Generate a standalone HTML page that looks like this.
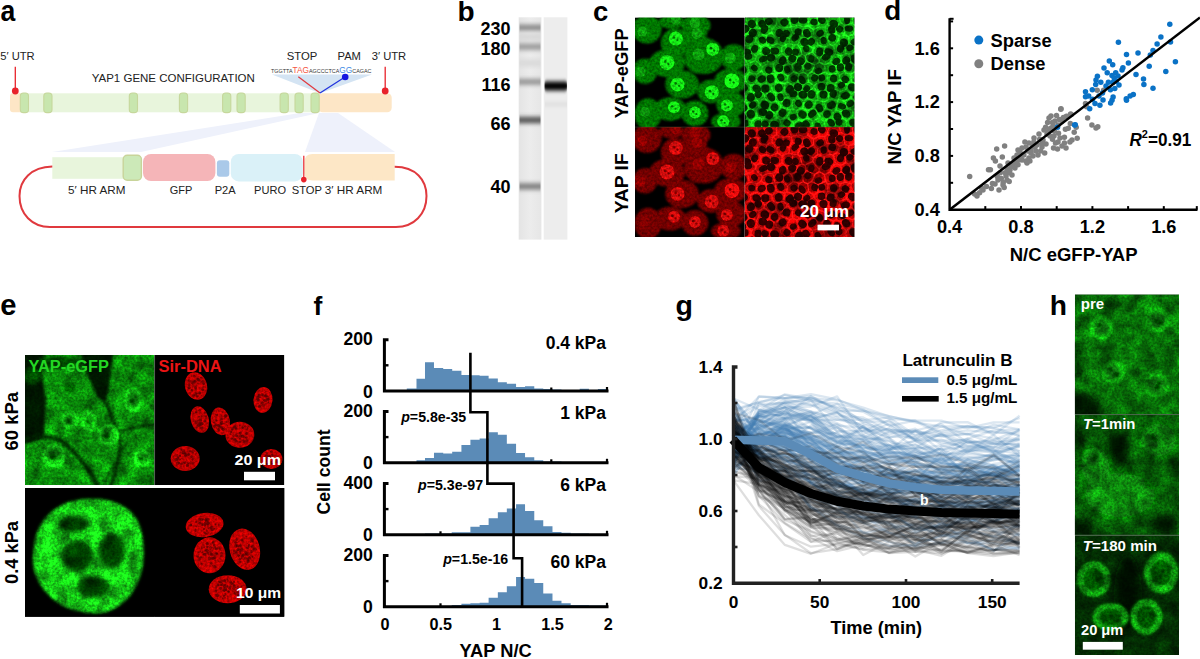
<!DOCTYPE html>
<html><head><meta charset="utf-8"><style>
html,body{margin:0;padding:0;background:#fff;width:1200px;height:659px;overflow:hidden}
svg{display:block}
text{font-family:"Liberation Sans", sans-serif}
</style></head><body>
<svg width="1200" height="659" viewBox="0 0 1200 659">
<defs><filter id="b05" x="-50%" y="-50%" width="200%" height="200%"><feGaussianBlur stdDeviation="0.5"/></filter><filter id="b1" x="-50%" y="-50%" width="200%" height="200%"><feGaussianBlur stdDeviation="1"/></filter><filter id="b15" x="-50%" y="-50%" width="200%" height="200%"><feGaussianBlur stdDeviation="1.5"/></filter><filter id="b2" x="-50%" y="-50%" width="200%" height="200%"><feGaussianBlur stdDeviation="2.2"/></filter><filter id="b3" x="-50%" y="-50%" width="200%" height="200%"><feGaussianBlur stdDeviation="3.2"/></filter><filter id="b4" x="-50%" y="-50%" width="200%" height="200%"><feGaussianBlur stdDeviation="4.5"/></filter><filter id="tx1" x="0" y="0" width="100%" height="100%" color-interpolation-filters="sRGB"><feTurbulence type="fractalNoise" baseFrequency="0.4" numOctaves="2" seed="7" result="n"/><feColorMatrix in="n" type="matrix" values="1 0 0 0 0  1 0 0 0 0  1 0 0 0 0  0 0 0 0 1" result="g"/><feComposite in="SourceGraphic" in2="g" operator="arithmetic" k1="0.9" k2="0.55" k3="0" k4="0"/></filter><filter id="tx2" x="0" y="0" width="100%" height="100%" color-interpolation-filters="sRGB"><feTurbulence type="fractalNoise" baseFrequency="0.4" numOctaves="2" seed="14" result="n"/><feColorMatrix in="n" type="matrix" values="1 0 0 0 0  1 0 0 0 0  1 0 0 0 0  0 0 0 0 1" result="g"/><feComposite in="SourceGraphic" in2="g" operator="arithmetic" k1="0.9" k2="0.55" k3="0" k4="0"/></filter><filter id="tx3" x="0" y="0" width="100%" height="100%" color-interpolation-filters="sRGB"><feTurbulence type="fractalNoise" baseFrequency="0.4" numOctaves="2" seed="21" result="n"/><feColorMatrix in="n" type="matrix" values="1 0 0 0 0  1 0 0 0 0  1 0 0 0 0  0 0 0 0 1" result="g"/><feComposite in="SourceGraphic" in2="g" operator="arithmetic" k1="0.9" k2="0.55" k3="0" k4="0"/></filter><filter id="tx4" x="0" y="0" width="100%" height="100%" color-interpolation-filters="sRGB"><feTurbulence type="fractalNoise" baseFrequency="0.4" numOctaves="2" seed="28" result="n"/><feColorMatrix in="n" type="matrix" values="1 0 0 0 0  1 0 0 0 0  1 0 0 0 0  0 0 0 0 1" result="g"/><feComposite in="SourceGraphic" in2="g" operator="arithmetic" k1="0.9" k2="0.55" k3="0" k4="0"/></filter><filter id="tx5" x="0" y="0" width="100%" height="100%" color-interpolation-filters="sRGB"><feTurbulence type="fractalNoise" baseFrequency="0.4" numOctaves="2" seed="35" result="n"/><feColorMatrix in="n" type="matrix" values="1 0 0 0 0  1 0 0 0 0  1 0 0 0 0  0 0 0 0 1" result="g"/><feComposite in="SourceGraphic" in2="g" operator="arithmetic" k1="0.9" k2="0.55" k3="0" k4="0"/></filter><filter id="tx6" x="0" y="0" width="100%" height="100%" color-interpolation-filters="sRGB"><feTurbulence type="fractalNoise" baseFrequency="0.4" numOctaves="2" seed="42" result="n"/><feColorMatrix in="n" type="matrix" values="1 0 0 0 0  1 0 0 0 0  1 0 0 0 0  0 0 0 0 1" result="g"/><feComposite in="SourceGraphic" in2="g" operator="arithmetic" k1="0.9" k2="0.55" k3="0" k4="0"/></filter><filter id="tx7" x="0" y="0" width="100%" height="100%" color-interpolation-filters="sRGB"><feTurbulence type="fractalNoise" baseFrequency="0.4" numOctaves="2" seed="49" result="n"/><feColorMatrix in="n" type="matrix" values="1 0 0 0 0  1 0 0 0 0  1 0 0 0 0  0 0 0 0 1" result="g"/><feComposite in="SourceGraphic" in2="g" operator="arithmetic" k1="0.9" k2="0.55" k3="0" k4="0"/></filter><filter id="tx8" x="0" y="0" width="100%" height="100%" color-interpolation-filters="sRGB"><feTurbulence type="fractalNoise" baseFrequency="0.4" numOctaves="2" seed="56" result="n"/><feColorMatrix in="n" type="matrix" values="1 0 0 0 0  1 0 0 0 0  1 0 0 0 0  0 0 0 0 1" result="g"/><feComposite in="SourceGraphic" in2="g" operator="arithmetic" k1="0.9" k2="0.55" k3="0" k4="0"/></filter><filter id="mt1" x="0" y="0" width="100%" height="100%" color-interpolation-filters="sRGB"><feTurbulence type="fractalNoise" baseFrequency="0.4" numOctaves="2" seed="13" result="n1"/><feColorMatrix in="n1" type="matrix" values="1 0 0 0 0  1 0 0 0 0  1 0 0 0 0  0 0 0 0 1" result="g1"/><feComposite in="SourceGraphic" in2="g1" operator="arithmetic" k1="0.9" k2="0.55" k3="0" k4="0" result="s1"/><feTurbulence type="fractalNoise" baseFrequency="0.07" numOctaves="2" seed="63" result="n2"/><feColorMatrix in="n2" type="matrix" values="1 0 0 0 0  1 0 0 0 0  1 0 0 0 0  0 0 0 0 1" result="g2"/><feComposite in="s1" in2="g2" operator="arithmetic" k1="1.4" k2="0.3" k3="0" k4="0"/></filter><filter id="mt2" x="0" y="0" width="100%" height="100%" color-interpolation-filters="sRGB"><feTurbulence type="fractalNoise" baseFrequency="0.4" numOctaves="2" seed="26" result="n1"/><feColorMatrix in="n1" type="matrix" values="1 0 0 0 0  1 0 0 0 0  1 0 0 0 0  0 0 0 0 1" result="g1"/><feComposite in="SourceGraphic" in2="g1" operator="arithmetic" k1="0.9" k2="0.55" k3="0" k4="0" result="s1"/><feTurbulence type="fractalNoise" baseFrequency="0.07" numOctaves="2" seed="76" result="n2"/><feColorMatrix in="n2" type="matrix" values="1 0 0 0 0  1 0 0 0 0  1 0 0 0 0  0 0 0 0 1" result="g2"/><feComposite in="s1" in2="g2" operator="arithmetic" k1="1.4" k2="0.3" k3="0" k4="0"/></filter><filter id="mt3" x="0" y="0" width="100%" height="100%" color-interpolation-filters="sRGB"><feTurbulence type="fractalNoise" baseFrequency="0.4" numOctaves="2" seed="39" result="n1"/><feColorMatrix in="n1" type="matrix" values="1 0 0 0 0  1 0 0 0 0  1 0 0 0 0  0 0 0 0 1" result="g1"/><feComposite in="SourceGraphic" in2="g1" operator="arithmetic" k1="0.9" k2="0.55" k3="0" k4="0" result="s1"/><feTurbulence type="fractalNoise" baseFrequency="0.07" numOctaves="2" seed="89" result="n2"/><feColorMatrix in="n2" type="matrix" values="1 0 0 0 0  1 0 0 0 0  1 0 0 0 0  0 0 0 0 1" result="g2"/><feComposite in="s1" in2="g2" operator="arithmetic" k1="1.4" k2="0.3" k3="0" k4="0"/></filter><filter id="mt4" x="0" y="0" width="100%" height="100%" color-interpolation-filters="sRGB"><feTurbulence type="fractalNoise" baseFrequency="0.4" numOctaves="2" seed="52" result="n1"/><feColorMatrix in="n1" type="matrix" values="1 0 0 0 0  1 0 0 0 0  1 0 0 0 0  0 0 0 0 1" result="g1"/><feComposite in="SourceGraphic" in2="g1" operator="arithmetic" k1="0.9" k2="0.55" k3="0" k4="0" result="s1"/><feTurbulence type="fractalNoise" baseFrequency="0.07" numOctaves="2" seed="102" result="n2"/><feColorMatrix in="n2" type="matrix" values="1 0 0 0 0  1 0 0 0 0  1 0 0 0 0  0 0 0 0 1" result="g2"/><feComposite in="s1" in2="g2" operator="arithmetic" k1="1.4" k2="0.3" k3="0" k4="0"/></filter><filter id="mt5" x="0" y="0" width="100%" height="100%" color-interpolation-filters="sRGB"><feTurbulence type="fractalNoise" baseFrequency="0.4" numOctaves="2" seed="65" result="n1"/><feColorMatrix in="n1" type="matrix" values="1 0 0 0 0  1 0 0 0 0  1 0 0 0 0  0 0 0 0 1" result="g1"/><feComposite in="SourceGraphic" in2="g1" operator="arithmetic" k1="0.9" k2="0.55" k3="0" k4="0" result="s1"/><feTurbulence type="fractalNoise" baseFrequency="0.07" numOctaves="2" seed="115" result="n2"/><feColorMatrix in="n2" type="matrix" values="1 0 0 0 0  1 0 0 0 0  1 0 0 0 0  0 0 0 0 1" result="g2"/><feComposite in="s1" in2="g2" operator="arithmetic" k1="1.4" k2="0.3" k3="0" k4="0"/></filter><filter id="mt6" x="0" y="0" width="100%" height="100%" color-interpolation-filters="sRGB"><feTurbulence type="fractalNoise" baseFrequency="0.4" numOctaves="2" seed="78" result="n1"/><feColorMatrix in="n1" type="matrix" values="1 0 0 0 0  1 0 0 0 0  1 0 0 0 0  0 0 0 0 1" result="g1"/><feComposite in="SourceGraphic" in2="g1" operator="arithmetic" k1="0.9" k2="0.55" k3="0" k4="0" result="s1"/><feTurbulence type="fractalNoise" baseFrequency="0.07" numOctaves="2" seed="128" result="n2"/><feColorMatrix in="n2" type="matrix" values="1 0 0 0 0  1 0 0 0 0  1 0 0 0 0  0 0 0 0 1" result="g2"/><feComposite in="s1" in2="g2" operator="arithmetic" k1="1.4" k2="0.3" k3="0" k4="0"/></filter><filter id="mt7" x="0" y="0" width="100%" height="100%" color-interpolation-filters="sRGB"><feTurbulence type="fractalNoise" baseFrequency="0.4" numOctaves="2" seed="91" result="n1"/><feColorMatrix in="n1" type="matrix" values="1 0 0 0 0  1 0 0 0 0  1 0 0 0 0  0 0 0 0 1" result="g1"/><feComposite in="SourceGraphic" in2="g1" operator="arithmetic" k1="0.9" k2="0.55" k3="0" k4="0" result="s1"/><feTurbulence type="fractalNoise" baseFrequency="0.07" numOctaves="2" seed="141" result="n2"/><feColorMatrix in="n2" type="matrix" values="1 0 0 0 0  1 0 0 0 0  1 0 0 0 0  0 0 0 0 1" result="g2"/><feComposite in="s1" in2="g2" operator="arithmetic" k1="1.4" k2="0.3" k3="0" k4="0"/></filter><filter id="mt8" x="0" y="0" width="100%" height="100%" color-interpolation-filters="sRGB"><feTurbulence type="fractalNoise" baseFrequency="0.4" numOctaves="2" seed="104" result="n1"/><feColorMatrix in="n1" type="matrix" values="1 0 0 0 0  1 0 0 0 0  1 0 0 0 0  0 0 0 0 1" result="g1"/><feComposite in="SourceGraphic" in2="g1" operator="arithmetic" k1="0.9" k2="0.55" k3="0" k4="0" result="s1"/><feTurbulence type="fractalNoise" baseFrequency="0.07" numOctaves="2" seed="154" result="n2"/><feColorMatrix in="n2" type="matrix" values="1 0 0 0 0  1 0 0 0 0  1 0 0 0 0  0 0 0 0 1" result="g2"/><feComposite in="s1" in2="g2" operator="arithmetic" k1="1.4" k2="0.3" k3="0" k4="0"/></filter><clipPath id="cTL"><rect x="635" y="17.6" width="109.6" height="109.5"/></clipPath><clipPath id="cBL"><rect x="635" y="127.1" width="109.6" height="109.9"/></clipPath><clipPath id="cTR"><rect x="744.6" y="17.6" width="109.9" height="109.5"/></clipPath><clipPath id="cBR"><rect x="744.6" y="127.1" width="109.9" height="109.9"/></clipPath><clipPath id="eTL"><rect x="25" y="355" width="129.6" height="130"/></clipPath><clipPath id="eTR"><rect x="154.6" y="355" width="129.7" height="130"/></clipPath><clipPath id="eBL"><rect x="25" y="488" width="129.6" height="128.7"/></clipPath><clipPath id="eBR"><rect x="154.4" y="488" width="129.9" height="128.7"/></clipPath><clipPath id="h0"><rect x="1074.9" y="294.4" width="104.1" height="120"/></clipPath><clipPath id="h1"><rect x="1074.9" y="414.6" width="104.1" height="120.3"/></clipPath><clipPath id="h2"><rect x="1074.9" y="535.2" width="104.1" height="119.8"/></clipPath></defs>
<rect width="1200" height="659" fill="#fff"/>
<text x="0.6" y="20.9" font-size="29.5" font-weight="bold" text-anchor="start" fill="#000"  textLength="14.8" lengthAdjust="spacingAndGlyphs" style="">a</text>
<polygon points="300,113 319,113 141,152 52,152" fill="#eef1fb"/>
<polygon points="319,113 338,113 395,152 305,152" fill="#eef1fb"/>
<rect x="10" y="93.3" width="14" height="19" rx="3" fill="#fde6c6"/>
<rect x="20" y="93.3" width="300" height="19" fill="#e8f5dc"/>
<rect x="318.2" y="93.3" width="73.5" height="19" rx="4.5" fill="#fde6c6"/>
<rect x="20.3" y="93.0" width="8.2" height="19.6" rx="3.2" fill="#c8e6ae" stroke="#c6d79c" stroke-width="1.1"/>
<rect x="43.8" y="93.0" width="8.2" height="19.6" rx="3.2" fill="#c8e6ae" stroke="#c6d79c" stroke-width="1.1"/>
<rect x="129.3" y="93.0" width="8.2" height="19.6" rx="3.2" fill="#c8e6ae" stroke="#c6d79c" stroke-width="1.1"/>
<rect x="179.4" y="93.0" width="8.2" height="19.6" rx="3.2" fill="#c8e6ae" stroke="#c6d79c" stroke-width="1.1"/>
<rect x="222.6" y="93.0" width="8.2" height="19.6" rx="3.2" fill="#c8e6ae" stroke="#c6d79c" stroke-width="1.1"/>
<rect x="237.0" y="93.0" width="8.2" height="19.6" rx="3.2" fill="#c8e6ae" stroke="#c6d79c" stroke-width="1.1"/>
<rect x="280.1" y="93.0" width="8.2" height="19.6" rx="3.2" fill="#c8e6ae" stroke="#c6d79c" stroke-width="1.1"/>
<rect x="295.0" y="93.0" width="8.2" height="19.6" rx="3.2" fill="#c8e6ae" stroke="#c6d79c" stroke-width="1.1"/>
<rect x="311.0" y="93.0" width="8.2" height="19.6" rx="3.2" fill="#c8e6ae" stroke="#c6d79c" stroke-width="1.1"/>
<line x1="15.3" y1="66.8" x2="15.3" y2="90" stroke="#e8232b" stroke-width="1.3"/>
<circle cx="15.3" cy="91" r="3.4" fill="#e8232b"/>
<line x1="385.2" y1="66.8" x2="385.2" y2="90" stroke="#e8232b" stroke-width="1.3"/>
<circle cx="385.2" cy="91" r="3.4" fill="#e8232b"/>
<text x="0.2" y="59.5" font-size="11.2" font-weight="normal" text-anchor="start" fill="#222"  textLength="34.5" lengthAdjust="spacingAndGlyphs" style="">5′ UTR</text>
<text x="91.7" y="82.2" font-size="11.5" font-weight="normal" text-anchor="start" fill="#222"  style="">YAP1 GENE CONFIGURATION</text>
<text x="286.7" y="60.3" font-size="11.3" font-weight="normal" text-anchor="start" fill="#222"  style="">STOP</text>
<text x="337.5" y="60.3" font-size="11.2" font-weight="normal" text-anchor="start" fill="#222"  style="">PAM</text>
<text x="371.7" y="60.3" font-size="11.2" font-weight="normal" text-anchor="start" fill="#222"  textLength="34.5" lengthAdjust="spacingAndGlyphs" style="">3′ UTR</text>
<polygon points="272,74.5 372,74.5 320,93.3" fill="#d4e4f3"/>
<line x1="298.3" y1="76.7" x2="320" y2="93" stroke="#e0393e" stroke-width="1.2"/>
<line x1="320" y1="93" x2="345" y2="77" stroke="#2233dd" stroke-width="1.2"/>
<circle cx="345.2" cy="77" r="3.3" fill="#1515e0"/>
<text x="271" y="72.6" font-size="5.6" font-weight="normal" fill="#333" textLength="100.5" lengthAdjust="spacingAndGlyphs" style="font-family:'Liberation Sans', sans-serif">TGGTTA<tspan fill="#f5553f" font-size="8.6" font-weight="normal">TAG</tspan>AGCCCTCA<tspan fill="#3f8be6" font-size="8.6" font-weight="normal">GG</tspan>CAGAC</text>
<rect x="52.3" y="157.2" width="72" height="21.6" fill="#e8f5dc"/>
<rect x="123.2" y="155.2" width="18.2" height="25" rx="4" fill="#cce9b8" stroke="#c8d49a" stroke-width="1.4"/>
<rect x="143" y="154" width="72.4" height="27" rx="8" fill="#f5b5b8"/>
<rect x="216.9" y="160.3" width="12.4" height="16.5" rx="3" fill="#aac9e9"/>
<rect x="230.8" y="154" width="72" height="27.4" rx="8" fill="#daf1f8"/>
<path d="M312.5,154 H394.7 V180.5 H312.5 Q304.5,180.5 304.5,172.5 V162 Q304.5,154 312.5,154 Z" fill="#fde7c6"/>
<line x1="303.8" y1="155.7" x2="303.8" y2="178.5" stroke="#e8232b" stroke-width="1.2"/>
<circle cx="303.8" cy="179.6" r="2.8" fill="#e8232b"/>
<path d="M52.3,166.5 C31,167 19.5,180 19.5,196 C19.5,214 32,227 50,227 L396,227 C414,227 426.5,214 426.5,196 C426.5,180 416,167 394.7,166.8" fill="none" stroke="#e0393e" stroke-width="2"/>
<text x="68.0" y="194.4" font-size="11.3" font-weight="normal" text-anchor="start" fill="#222"  textLength="57.4" lengthAdjust="spacingAndGlyphs" style="">5′ HR ARM</text>
<text x="169.7" y="194.4" font-size="11.3" font-weight="normal" text-anchor="start" fill="#222"  textLength="22.6" lengthAdjust="spacingAndGlyphs" style="">GFP</text>
<text x="214.7" y="194.4" font-size="11.3" font-weight="normal" text-anchor="start" fill="#222"  textLength="21" lengthAdjust="spacingAndGlyphs" style="">P2A</text>
<text x="254.0" y="194.4" font-size="11.3" font-weight="normal" text-anchor="start" fill="#222"  textLength="32" lengthAdjust="spacingAndGlyphs" style="">PURO</text>
<text x="291.7" y="194.4" font-size="11.3" font-weight="normal" text-anchor="start" fill="#222"  textLength="30.3" lengthAdjust="spacingAndGlyphs" style="">STOP</text>
<text x="324.8" y="194.4" font-size="11.3" font-weight="normal" text-anchor="start" fill="#222"  textLength="57.6" lengthAdjust="spacingAndGlyphs" style="">3′ HR ARM</text>
<text x="457.5" y="21.2" font-size="28" font-weight="bold" text-anchor="start" fill="#000"  style="">b</text>
<defs><filter id="bb" x="-20%" y="-300%" width="140%" height="700%"><feGaussianBlur stdDeviation="0.6 2.2"/></filter><linearGradient id="lane1" x1="0" x2="1"><stop offset="0" stop-color="#e4e4e4"/><stop offset="0.5" stop-color="#ececec"/><stop offset="1" stop-color="#e6e6e6"/></linearGradient></defs>
<rect x="518.7" y="17.3" width="22.7" height="222.3" fill="url(#lane1)"/>
<rect x="543.7" y="17.3" width="23.7" height="222.3" fill="#ededed"/>
<rect x="519.5" y="24.6" width="21" height="6" fill="#888888" filter="url(#bb)"/>
<rect x="519.5" y="34.0" width="21" height="6" fill="#d6d6d6" filter="url(#bb)"/>
<rect x="519.5" y="43.5" width="21" height="6.5" fill="#9c9c9c" filter="url(#bb)"/>
<rect x="519.5" y="59.5" width="21" height="7" fill="#dadada" filter="url(#bb)"/>
<rect x="519.5" y="78.8" width="21" height="6" fill="#959595" filter="url(#bb)"/>
<rect x="519.5" y="116.8" width="21" height="6.5" fill="#555555" filter="url(#bb)"/>
<rect x="519.5" y="183.2" width="21" height="6.5" fill="#808080" filter="url(#bb)"/>
<rect x="544.5" y="81.5" width="22.5" height="9" rx="3" fill="#000" filter="url(#bb)"/>
<rect x="545" y="102.5" width="22" height="3.5" fill="#dcdcdc" filter="url(#bb)"/>
<text x="510.5" y="34.9" font-size="18" font-weight="bold" text-anchor="end" fill="#000"  style="">230</text>
<text x="510.5" y="55.0" font-size="18" font-weight="bold" text-anchor="end" fill="#000"  style="">180</text>
<text x="510.5" y="90.7" font-size="18" font-weight="bold" text-anchor="end" fill="#000"  style="">116</text>
<text x="510.5" y="129.7" font-size="18" font-weight="bold" text-anchor="end" fill="#000"  style="">66</text>
<text x="510.5" y="193.0" font-size="18" font-weight="bold" text-anchor="end" fill="#000"  style="">40</text>
<text x="884.3" y="20.2" font-size="27.8" font-weight="bold" text-anchor="start" fill="#000"  style="">d</text>
<circle cx="1097.2" cy="90.3" r="2.75" fill="#808080"/>
<circle cx="1103.6" cy="90.3" r="2.75" fill="#808080"/>
<circle cx="1085.5" cy="103.5" r="2.75" fill="#808080"/>
<circle cx="1086.6" cy="106.7" r="2.75" fill="#808080"/>
<circle cx="1061.0" cy="108.8" r="2.75" fill="#808080"/>
<circle cx="1070.6" cy="114.1" r="2.75" fill="#808080"/>
<circle cx="1066.4" cy="116.2" r="2.75" fill="#808080"/>
<circle cx="1087.6" cy="117.9" r="2.75" fill="#808080"/>
<circle cx="1091.9" cy="125.1" r="2.75" fill="#808080"/>
<circle cx="1097.8" cy="126.8" r="2.75" fill="#808080"/>
<circle cx="1096.0" cy="128.0" r="2.75" fill="#808080"/>
<circle cx="969.7" cy="176.6" r="2.75" fill="#808080"/>
<circle cx="974.6" cy="194.0" r="2.75" fill="#808080"/>
<circle cx="979.6" cy="192.8" r="2.75" fill="#808080"/>
<circle cx="981.6" cy="188.0" r="2.75" fill="#808080"/>
<circle cx="986.5" cy="186.5" r="2.75" fill="#808080"/>
<circle cx="991.4" cy="188.5" r="2.75" fill="#808080"/>
<circle cx="988.5" cy="169.7" r="2.75" fill="#808080"/>
<circle cx="990.4" cy="169.7" r="2.75" fill="#808080"/>
<circle cx="992.4" cy="183.5" r="2.75" fill="#808080"/>
<circle cx="993.4" cy="157.9" r="2.75" fill="#808080"/>
<circle cx="995.4" cy="160.9" r="2.75" fill="#808080"/>
<circle cx="996.7" cy="149.0" r="2.75" fill="#808080"/>
<circle cx="1002.3" cy="156.9" r="2.75" fill="#808080"/>
<circle cx="1004.6" cy="146.1" r="2.75" fill="#808080"/>
<circle cx="997.3" cy="176.6" r="2.75" fill="#808080"/>
<circle cx="1000.3" cy="172.7" r="2.75" fill="#808080"/>
<circle cx="1001.3" cy="178.6" r="2.75" fill="#808080"/>
<circle cx="1003.2" cy="182.5" r="2.75" fill="#808080"/>
<circle cx="1004.2" cy="187.5" r="2.75" fill="#808080"/>
<circle cx="1005.2" cy="172.7" r="2.75" fill="#808080"/>
<circle cx="1007.2" cy="168.7" r="2.75" fill="#808080"/>
<circle cx="1009.2" cy="181.6" r="2.75" fill="#808080"/>
<circle cx="1009.2" cy="172.7" r="2.75" fill="#808080"/>
<circle cx="1011.1" cy="166.8" r="2.75" fill="#808080"/>
<circle cx="1013.1" cy="164.8" r="2.75" fill="#808080"/>
<circle cx="1016.1" cy="162.8" r="2.75" fill="#808080"/>
<circle cx="1018.0" cy="164.8" r="2.75" fill="#808080"/>
<circle cx="1017.0" cy="154.9" r="2.75" fill="#808080"/>
<circle cx="1020.0" cy="152.0" r="2.75" fill="#808080"/>
<circle cx="1022.0" cy="148.0" r="2.75" fill="#808080"/>
<circle cx="1023.9" cy="154.9" r="2.75" fill="#808080"/>
<circle cx="1024.9" cy="142.1" r="2.75" fill="#808080"/>
<circle cx="1025.9" cy="160.9" r="2.75" fill="#808080"/>
<circle cx="1027.9" cy="151.0" r="2.75" fill="#808080"/>
<circle cx="1028.9" cy="157.9" r="2.75" fill="#808080"/>
<circle cx="1029.9" cy="160.9" r="2.75" fill="#808080"/>
<circle cx="1030.9" cy="149.0" r="2.75" fill="#808080"/>
<circle cx="1032.8" cy="145.1" r="2.75" fill="#808080"/>
<circle cx="1033.8" cy="142.1" r="2.75" fill="#808080"/>
<circle cx="1035.8" cy="151.0" r="2.75" fill="#808080"/>
<circle cx="1036.8" cy="145.1" r="2.75" fill="#808080"/>
<circle cx="1039.7" cy="139.2" r="2.75" fill="#808080"/>
<circle cx="1040.7" cy="151.0" r="2.75" fill="#808080"/>
<circle cx="1041.7" cy="144.1" r="2.75" fill="#808080"/>
<circle cx="1044.7" cy="153.0" r="2.75" fill="#808080"/>
<circle cx="1045.6" cy="127.3" r="2.75" fill="#808080"/>
<circle cx="1047.6" cy="122.4" r="2.75" fill="#808080"/>
<circle cx="1048.6" cy="131.3" r="2.75" fill="#808080"/>
<circle cx="1050.6" cy="128.3" r="2.75" fill="#808080"/>
<circle cx="1052.5" cy="122.4" r="2.75" fill="#808080"/>
<circle cx="1052.5" cy="139.2" r="2.75" fill="#808080"/>
<circle cx="1053.5" cy="148.0" r="2.75" fill="#808080"/>
<circle cx="1054.5" cy="131.3" r="2.75" fill="#808080"/>
<circle cx="1055.5" cy="143.1" r="2.75" fill="#808080"/>
<circle cx="1056.5" cy="115.5" r="2.75" fill="#808080"/>
<circle cx="1057.5" cy="149.0" r="2.75" fill="#808080"/>
<circle cx="1058.5" cy="133.2" r="2.75" fill="#808080"/>
<circle cx="1059.4" cy="119.4" r="2.75" fill="#808080"/>
<circle cx="1060.8" cy="109.2" r="2.75" fill="#808080"/>
<circle cx="1063.4" cy="117.5" r="2.75" fill="#808080"/>
<circle cx="1064.4" cy="137.2" r="2.75" fill="#808080"/>
<circle cx="1064.4" cy="143.1" r="2.75" fill="#808080"/>
<circle cx="1065.4" cy="129.3" r="2.75" fill="#808080"/>
<circle cx="1067.3" cy="116.5" r="2.75" fill="#808080"/>
<circle cx="1068.3" cy="128.3" r="2.75" fill="#808080"/>
<circle cx="1069.9" cy="142.1" r="2.75" fill="#808080"/>
<circle cx="1070.3" cy="123.4" r="2.75" fill="#808080"/>
<circle cx="1071.3" cy="114.5" r="2.75" fill="#808080"/>
<circle cx="1074.2" cy="132.3" r="2.75" fill="#808080"/>
<circle cx="1076.2" cy="127.3" r="2.75" fill="#808080"/>
<circle cx="1077.2" cy="138.2" r="2.75" fill="#808080"/>
<circle cx="998.0" cy="180.0" r="2.75" fill="#808080"/>
<circle cx="1006.0" cy="176.0" r="2.75" fill="#808080"/>
<circle cx="1010.0" cy="170.0" r="2.75" fill="#808080"/>
<circle cx="1014.0" cy="158.0" r="2.75" fill="#808080"/>
<circle cx="1019.0" cy="160.0" r="2.75" fill="#808080"/>
<circle cx="1021.0" cy="157.0" r="2.75" fill="#808080"/>
<circle cx="1026.0" cy="147.0" r="2.75" fill="#808080"/>
<circle cx="1031.0" cy="153.0" r="2.75" fill="#808080"/>
<circle cx="1035.0" cy="147.0" r="2.75" fill="#808080"/>
<circle cx="1043.0" cy="140.0" r="2.75" fill="#808080"/>
<circle cx="1047.0" cy="134.0" r="2.75" fill="#808080"/>
<circle cx="1050.0" cy="136.0" r="2.75" fill="#808080"/>
<circle cx="1053.0" cy="126.0" r="2.75" fill="#808080"/>
<circle cx="1049.0" cy="118.0" r="2.75" fill="#808080"/>
<circle cx="1051.0" cy="116.0" r="2.75" fill="#808080"/>
<circle cx="1055.0" cy="121.0" r="2.75" fill="#808080"/>
<circle cx="1058.0" cy="125.0" r="2.75" fill="#808080"/>
<circle cx="1062.0" cy="121.0" r="2.75" fill="#808080"/>
<circle cx="1046.0" cy="144.0" r="2.75" fill="#808080"/>
<circle cx="1042.0" cy="147.0" r="2.75" fill="#808080"/>
<circle cx="1038.0" cy="155.0" r="2.75" fill="#808080"/>
<circle cx="1033.0" cy="156.0" r="2.75" fill="#808080"/>
<circle cx="1027.0" cy="163.0" r="2.75" fill="#808080"/>
<circle cx="1022.0" cy="160.0" r="2.75" fill="#808080"/>
<circle cx="1015.0" cy="168.0" r="2.75" fill="#808080"/>
<circle cx="1012.0" cy="175.0" r="2.75" fill="#808080"/>
<circle cx="1007.0" cy="180.0" r="2.75" fill="#808080"/>
<circle cx="1003.0" cy="185.0" r="2.75" fill="#808080"/>
<circle cx="999.0" cy="190.0" r="2.75" fill="#808080"/>
<circle cx="995.0" cy="184.0" r="2.75" fill="#808080"/>
<circle cx="983.0" cy="190.0" r="2.75" fill="#808080"/>
<circle cx="977.0" cy="196.0" r="2.75" fill="#808080"/>
<circle cx="1000.0" cy="166.0" r="2.75" fill="#808080"/>
<circle cx="1008.0" cy="163.0" r="2.75" fill="#808080"/>
<circle cx="1018.0" cy="150.0" r="2.75" fill="#808080"/>
<circle cx="1029.0" cy="143.0" r="2.75" fill="#808080"/>
<circle cx="1034.0" cy="138.0" r="2.75" fill="#808080"/>
<circle cx="1039.0" cy="134.0" r="2.75" fill="#808080"/>
<circle cx="1044.0" cy="130.0" r="2.75" fill="#808080"/>
<circle cx="1060.0" cy="138.0" r="2.75" fill="#808080"/>
<circle cx="1062.0" cy="146.0" r="2.75" fill="#808080"/>
<circle cx="1066.0" cy="148.0" r="2.75" fill="#808080"/>
<circle cx="1072.0" cy="140.0" r="2.75" fill="#808080"/>
<circle cx="1058.0" cy="142.0" r="2.75" fill="#808080"/>
<circle cx="1054.0" cy="136.0" r="2.75" fill="#808080"/>
<circle cx="1169.8" cy="24.2" r="2.75" fill="#0a72c6"/>
<circle cx="1160.9" cy="37.0" r="2.75" fill="#0a72c6"/>
<circle cx="1170.5" cy="41.9" r="2.75" fill="#0a72c6"/>
<circle cx="1157.1" cy="44.0" r="2.75" fill="#0a72c6"/>
<circle cx="1153.0" cy="50.4" r="2.75" fill="#0a72c6"/>
<circle cx="1150.3" cy="55.0" r="2.75" fill="#0a72c6"/>
<circle cx="1118.4" cy="42.3" r="2.75" fill="#0a72c6"/>
<circle cx="1126.5" cy="54.6" r="2.75" fill="#0a72c6"/>
<circle cx="1138.0" cy="52.9" r="2.75" fill="#0a72c6"/>
<circle cx="1175.4" cy="61.8" r="2.75" fill="#0a72c6"/>
<circle cx="1109.3" cy="61.0" r="2.75" fill="#0a72c6"/>
<circle cx="1112.7" cy="64.8" r="2.75" fill="#0a72c6"/>
<circle cx="1128.4" cy="63.1" r="2.75" fill="#0a72c6"/>
<circle cx="1122.9" cy="67.8" r="2.75" fill="#0a72c6"/>
<circle cx="1122.0" cy="69.9" r="2.75" fill="#0a72c6"/>
<circle cx="1149.2" cy="66.3" r="2.75" fill="#0a72c6"/>
<circle cx="1165.8" cy="71.6" r="2.75" fill="#0a72c6"/>
<circle cx="1107.2" cy="72.7" r="2.75" fill="#0a72c6"/>
<circle cx="1115.7" cy="72.7" r="2.75" fill="#0a72c6"/>
<circle cx="1097.4" cy="76.3" r="2.75" fill="#0a72c6"/>
<circle cx="1112.0" cy="75.4" r="2.75" fill="#0a72c6"/>
<circle cx="1114.2" cy="78.0" r="2.75" fill="#0a72c6"/>
<circle cx="1136.0" cy="74.4" r="2.75" fill="#0a72c6"/>
<circle cx="1100.8" cy="82.2" r="2.75" fill="#0a72c6"/>
<circle cx="1143.5" cy="79.0" r="2.75" fill="#0a72c6"/>
<circle cx="1095.7" cy="84.4" r="2.75" fill="#0a72c6"/>
<circle cx="1108.4" cy="82.2" r="2.75" fill="#0a72c6"/>
<circle cx="1113.1" cy="82.2" r="2.75" fill="#0a72c6"/>
<circle cx="1116.3" cy="81.2" r="2.75" fill="#0a72c6"/>
<circle cx="1143.9" cy="84.4" r="2.75" fill="#0a72c6"/>
<circle cx="1092.3" cy="89.7" r="2.75" fill="#0a72c6"/>
<circle cx="1110.4" cy="89.7" r="2.75" fill="#0a72c6"/>
<circle cx="1114.8" cy="88.6" r="2.75" fill="#0a72c6"/>
<circle cx="1102.5" cy="92.9" r="2.75" fill="#0a72c6"/>
<circle cx="1153.0" cy="88.2" r="2.75" fill="#0a72c6"/>
<circle cx="1085.5" cy="91.8" r="2.75" fill="#0a72c6"/>
<circle cx="1133.3" cy="94.6" r="2.75" fill="#0a72c6"/>
<circle cx="1130.1" cy="96.0" r="2.75" fill="#0a72c6"/>
<circle cx="1085.5" cy="96.7" r="2.75" fill="#0a72c6"/>
<circle cx="1088.7" cy="96.0" r="2.75" fill="#0a72c6"/>
<circle cx="1113.1" cy="97.1" r="2.75" fill="#0a72c6"/>
<circle cx="1126.3" cy="98.8" r="2.75" fill="#0a72c6"/>
<circle cx="1092.5" cy="99.2" r="2.75" fill="#0a72c6"/>
<circle cx="1112.0" cy="100.3" r="2.75" fill="#0a72c6"/>
<circle cx="1126.5" cy="100.3" r="2.75" fill="#0a72c6"/>
<circle cx="1095.0" cy="103.5" r="2.75" fill="#0a72c6"/>
<circle cx="1099.9" cy="105.2" r="2.75" fill="#0a72c6"/>
<circle cx="1110.6" cy="103.0" r="2.75" fill="#0a72c6"/>
<circle cx="1089.7" cy="108.8" r="2.75" fill="#0a72c6"/>
<circle cx="1075.3" cy="124.7" r="2.75" fill="#0a72c6"/>
<circle cx="1074.6" cy="125.0" r="2.75" fill="#0a72c6"/>
<circle cx="1057.5" cy="127.3" r="2.75" fill="#0a72c6"/>
<circle cx="1104.0" cy="68.0" r="2.75" fill="#0a72c6"/>
<circle cx="1119.0" cy="85.0" r="2.75" fill="#0a72c6"/>
<circle cx="1106.0" cy="86.0" r="2.75" fill="#0a72c6"/>
<circle cx="1118.0" cy="76.0" r="2.75" fill="#0a72c6"/>
<circle cx="1099.0" cy="96.0" r="2.75" fill="#0a72c6"/>
<circle cx="1103.0" cy="100.0" r="2.75" fill="#0a72c6"/>
<circle cx="1096.0" cy="80.0" r="2.75" fill="#0a72c6"/>
<line x1="949.6" y1="209.7" x2="1200" y2="17.5" stroke="#000" stroke-width="2.5"/>
<path d="M949.6,18.2 V209.7 H1197.5" fill="none" stroke="#000" stroke-width="2.4"/>
<line x1="949.6" y1="18.8" x2="953.6" y2="18.8" stroke="#000" stroke-width="2"/>
<line x1="949.6" y1="182.8" x2="953.1" y2="182.8" stroke="#000" stroke-width="2"/>
<line x1="985.3" y1="209.7" x2="985.3" y2="206.1" stroke="#000" stroke-width="2"/>
<line x1="949.6" y1="155.9" x2="953.1" y2="155.9" stroke="#000" stroke-width="2"/>
<line x1="1021.0" y1="209.7" x2="1021.0" y2="206.1" stroke="#000" stroke-width="2"/>
<line x1="949.6" y1="129.0" x2="953.1" y2="129.0" stroke="#000" stroke-width="2"/>
<line x1="1056.7" y1="209.7" x2="1056.7" y2="206.1" stroke="#000" stroke-width="2"/>
<line x1="949.6" y1="102.1" x2="953.1" y2="102.1" stroke="#000" stroke-width="2"/>
<line x1="1092.4" y1="209.7" x2="1092.4" y2="206.1" stroke="#000" stroke-width="2"/>
<line x1="949.6" y1="75.2" x2="953.1" y2="75.2" stroke="#000" stroke-width="2"/>
<line x1="1128.1" y1="209.7" x2="1128.1" y2="206.1" stroke="#000" stroke-width="2"/>
<line x1="949.6" y1="48.3" x2="953.1" y2="48.3" stroke="#000" stroke-width="2"/>
<line x1="1163.8" y1="209.7" x2="1163.8" y2="206.1" stroke="#000" stroke-width="2"/>
<line x1="949.6" y1="21.4" x2="953.1" y2="21.4" stroke="#000" stroke-width="2"/>
<line x1="1196.8" y1="209.7" x2="1196.8" y2="206.1" stroke="#000" stroke-width="2"/>
<text x="939.8" y="216.0" font-size="18.2" font-weight="bold" text-anchor="end" fill="#000"  style="">0.4</text>
<text x="949.6" y="232.7" font-size="18.2" font-weight="bold" text-anchor="middle" fill="#000"  style="">0.4</text>
<text x="939.8" y="162.2" font-size="18.2" font-weight="bold" text-anchor="end" fill="#000"  style="">0.8</text>
<text x="1021.0" y="232.7" font-size="18.2" font-weight="bold" text-anchor="middle" fill="#000"  style="">0.8</text>
<text x="939.8" y="108.4" font-size="18.2" font-weight="bold" text-anchor="end" fill="#000"  style="">1.2</text>
<text x="1092.4" y="232.7" font-size="18.2" font-weight="bold" text-anchor="middle" fill="#000"  style="">1.2</text>
<text x="939.8" y="54.6" font-size="18.2" font-weight="bold" text-anchor="end" fill="#000"  style="">1.6</text>
<text x="1163.8" y="232.7" font-size="18.2" font-weight="bold" text-anchor="middle" fill="#000"  style="">1.6</text>
<text x="1073.6" y="261.2" font-size="18.6" font-weight="bold" text-anchor="middle" fill="#000"  textLength="127.8" lengthAdjust="spacingAndGlyphs" style="">N/C eGFP-YAP</text>
<text transform="translate(901.1,164.4) rotate(-90)" font-size="19" font-weight="bold" text-anchor="start" fill="#000"  textLength="95.3" lengthAdjust="spacingAndGlyphs" style="">N/C YAP IF</text>
<circle cx="978.8" cy="40.1" r="4.5" fill="#0a72c6"/>
<circle cx="978.8" cy="63.8" r="4.5" fill="#808080"/>
<text x="990.6" y="46.5" font-size="18.3" font-weight="bold" text-anchor="start" fill="#000"  style="">Sparse</text>
<text x="990.6" y="69.8" font-size="18.3" font-weight="bold" text-anchor="start" fill="#000"  style="">Dense</text>
<text x="1129.5" y="145.6" font-size="18" font-weight="bold" textLength="61.8" lengthAdjust="spacingAndGlyphs"><tspan font-style="italic">R</tspan><tspan font-size="11.5" dy="-7.8">2</tspan><tspan dy="7.8">=0.91</tspan></text>
<text x="313.5" y="315.0" font-size="26.5" font-weight="bold" text-anchor="start" fill="#000"  style="">f</text>
<path d="M406.78,392.00V388.57H416.49V392.00ZM416.49,392.00V378.86H424.99V392.00ZM424.99,392.00V362.35H433.98V392.00ZM433.98,392.00V367.93H443.21V392.00ZM443.21,392.00V368.90H452.19V392.00ZM452.19,392.00V370.84H461.42V392.00ZM461.42,392.00V374.97H470.40V392.00ZM470.40,392.00V375.22H479.63V392.00ZM479.63,392.00V375.70H488.62V392.00ZM488.62,392.00V378.62H497.84V392.00ZM497.84,392.00V382.26H506.83V392.00ZM506.83,392.00V383.71H516.06V392.00ZM516.06,392.00V387.11H525.04V392.00ZM525.04,392.00V386.14H534.27V392.00ZM534.27,392.00V388.57H543.25V392.00ZM543.25,392.00V389.06H552.48V392.00ZM552.48,392.00V389.54H561.47V392.00ZM561.47,392.00V390.03H570.69V392.00ZM570.69,392.00V390.03H579.68V392.00ZM579.68,392.00V388.81H588.91V392.00ZM588.91,392.00V390.27H597.89V392.00ZM597.89,392.00V389.06H607.12V392.00Z" fill="#5b8bb7"/>
<path d="M388.5,339.7 H384.4 V391.0 H608.5" fill="none" stroke="#000" stroke-width="3"/>
<line x1="384.4" y1="365.3" x2="388.5" y2="365.3" stroke="#000" stroke-width="2.4"/>
<line x1="551.3" y1="391.0" x2="551.3" y2="387.5" stroke="#000" stroke-width="2.2"/>
<line x1="607" y1="391.0" x2="607" y2="387.0" stroke="#000" stroke-width="2.2"/>
<text x="372.8" y="345.0" font-size="17.6" font-weight="bold" text-anchor="end" fill="#000"  style="">200</text>
<text x="372.8" y="397.5" font-size="17.6" font-weight="bold" text-anchor="end" fill="#000"  style="">0</text>
<path d="M406.78,463.80V462.07H416.49V463.80ZM416.49,463.80V460.13H424.99V463.80ZM424.99,463.80V457.94H433.98V463.80ZM433.98,463.80V452.84H443.21V463.80ZM443.21,463.80V453.57H452.19V463.80ZM452.19,463.80V451.63H461.42V463.80ZM461.42,463.80V445.07H470.40V463.80ZM470.40,463.80V439.73H479.63V463.80ZM479.63,463.80V438.52H488.62V463.80ZM488.62,463.80V432.20H497.84V463.80ZM497.84,463.80V434.63H506.83V463.80ZM506.83,463.80V443.86H516.06V463.80ZM516.06,463.80V453.09H525.04V463.80ZM525.04,463.80V457.21H534.27V463.80ZM534.27,463.80V460.37H543.25V463.80ZM543.25,463.80V461.59H552.48V463.80ZM552.48,463.80V461.59H561.47V463.80ZM561.47,463.80V462.07H607.12V463.80Z" fill="#5b8bb7"/>
<path d="M388.5,411.5 H384.4 V462.8 H608.5" fill="none" stroke="#000" stroke-width="3"/>
<line x1="384.4" y1="437.1" x2="388.5" y2="437.1" stroke="#000" stroke-width="2.4"/>
<line x1="551.3" y1="462.8" x2="551.3" y2="459.3" stroke="#000" stroke-width="2.2"/>
<line x1="607" y1="462.8" x2="607" y2="458.8" stroke="#000" stroke-width="2.2"/>
<text x="372.8" y="416.8" font-size="17.6" font-weight="bold" text-anchor="end" fill="#000"  style="">200</text>
<text x="372.8" y="469.3" font-size="17.6" font-weight="bold" text-anchor="end" fill="#000"  style="">0</text>
<path d="M424.99,535.80V533.59H451.70V535.80ZM451.70,535.80V532.13H470.40V535.80ZM470.40,535.80V526.79H479.63V535.80ZM479.63,535.80V525.09H488.62V535.80ZM488.62,535.80V518.29H497.84V535.80ZM497.84,535.80V512.22H506.83V535.80ZM506.83,535.80V508.57H516.06V535.80ZM516.06,535.80V504.20H525.04V535.80ZM525.04,535.80V511.00H534.27V535.80ZM534.27,535.80V520.23H543.25V535.80ZM543.25,535.80V526.30H552.48V535.80ZM552.48,535.80V531.89H561.47V535.80ZM561.47,535.80V532.86H570.69V535.80ZM570.69,535.80V533.59H588.91V535.80Z" fill="#5b8bb7"/>
<path d="M388.5,483.5 H384.4 V534.8 H608.5" fill="none" stroke="#000" stroke-width="3"/>
<line x1="384.4" y1="509.1" x2="388.5" y2="509.1" stroke="#000" stroke-width="2.4"/>
<line x1="440.5" y1="534.8" x2="440.5" y2="531.3" stroke="#000" stroke-width="2.2"/>
<line x1="607" y1="534.8" x2="607" y2="530.8" stroke="#000" stroke-width="2.2"/>
<text x="372.8" y="488.8" font-size="17.6" font-weight="bold" text-anchor="end" fill="#000"  style="">400</text>
<text x="372.8" y="541.3" font-size="17.6" font-weight="bold" text-anchor="end" fill="#000"  style="">0</text>
<path d="M424.99,607.80V606.07H451.70V607.80ZM451.70,607.80V605.10H461.42V607.80ZM461.42,607.80V603.64H470.40V607.80ZM470.40,607.80V603.16H479.63V607.80ZM479.63,607.80V602.67H488.62V607.80ZM488.62,607.80V597.82H497.84V607.80ZM497.84,607.80V592.23H506.83V607.80ZM506.83,607.80V586.16H516.06V607.80ZM516.06,607.80V576.93H525.04V607.80ZM525.04,607.80V578.87H534.27V607.80ZM534.27,607.80V583.00H543.25V607.80ZM543.25,607.80V593.44H552.48V607.80ZM552.48,607.80V600.73H561.47V607.80ZM561.47,607.80V603.16H570.69V607.80ZM570.69,607.80V605.10H588.91V607.80ZM588.91,607.80V605.59H607.12V607.80Z" fill="#5b8bb7"/>
<path d="M388.5,555.5 H384.4 V606.8 H608.5" fill="none" stroke="#000" stroke-width="3"/>
<line x1="384.4" y1="581.1" x2="388.5" y2="581.1" stroke="#000" stroke-width="2.4"/>
<line x1="440.5" y1="606.8" x2="440.5" y2="603.3" stroke="#000" stroke-width="2.2"/>
<line x1="607" y1="606.8" x2="607" y2="602.8" stroke="#000" stroke-width="2.2"/>
<text x="372.8" y="560.8" font-size="17.6" font-weight="bold" text-anchor="end" fill="#000"  style="">200</text>
<text x="372.8" y="613.3" font-size="17.6" font-weight="bold" text-anchor="end" fill="#000"  style="">0</text>
<path d="M470.4,352.8 V412.3 H487.4 V483.6 H513.6 V558.3 H522.1 V607" fill="none" stroke="#000" stroke-width="2.6"/>
<text x="401.2" y="421.5" font-size="14.2" font-weight="bold"><tspan font-style="italic">p</tspan>=5.8e-35</text>
<text x="418" y="489.5" font-size="14.2" font-weight="bold"><tspan font-style="italic">p</tspan>=5.3e-97</text>
<text x="443.2" y="563.5" font-size="14.2" font-weight="bold"><tspan font-style="italic">p</tspan>=1.5e-16</text>
<text x="606.0" y="348.7" font-size="17.5" font-weight="bold" text-anchor="end" fill="#000"  style="">0.4 kPa</text>
<text x="606.0" y="419.0" font-size="17.5" font-weight="bold" text-anchor="end" fill="#000"  style="">1 kPa</text>
<text x="606.0" y="491.0" font-size="17.5" font-weight="bold" text-anchor="end" fill="#000"  style="">6 kPa</text>
<text x="606.0" y="568.0" font-size="17.5" font-weight="bold" text-anchor="end" fill="#000"  style="">60 kPa</text>
<text x="384.9" y="629.7" font-size="16.2" font-weight="bold" text-anchor="middle" fill="#000"  style="">0</text>
<text x="440.8" y="629.7" font-size="16.2" font-weight="bold" text-anchor="middle" fill="#000"  style="">0.5</text>
<text x="496.6" y="629.7" font-size="16.2" font-weight="bold" text-anchor="middle" fill="#000"  style="">1</text>
<text x="552.5" y="629.7" font-size="16.2" font-weight="bold" text-anchor="middle" fill="#000"  style="">1.5</text>
<text x="608.3" y="629.7" font-size="16.2" font-weight="bold" text-anchor="middle" fill="#000"  style="">2</text>
<text x="495.7" y="657.0" font-size="18.3" font-weight="bold" text-anchor="middle" fill="#000"  style="">YAP N/C</text>
<text transform="translate(330.0,514.5) rotate(-90)" font-size="18" font-weight="bold" text-anchor="start" fill="#000"  textLength="85" lengthAdjust="spacingAndGlyphs" style="">Cell count</text>
<text x="675.6" y="315.2" font-size="28.5" font-weight="bold" text-anchor="start" fill="#000"  style="">g</text>
<g fill="none" stroke-width="2.3" stroke-linejoin="round">
<polyline points="732.8,421.1 758.9,456.2 784.9,467.3 811.0,475.3 837.1,486.6 863.2,489.7 889.2,512.9 915.3,517.1 941.4,505.0 967.5,507.0 993.5,499.7 1019.6,504.1" stroke="rgba(70,125,180,0.19)"/>
<polyline points="732.8,396.5 758.9,438.3 784.9,439.0 811.0,450.1 837.1,452.7 863.2,468.6 889.2,472.1 915.3,478.8 941.4,483.1 967.5,482.2 993.5,492.3 1019.6,483.8" stroke="rgba(70,125,180,0.19)"/>
<polyline points="732.8,452.5 758.9,431.9 784.9,425.4 811.0,435.9 837.1,447.1 863.2,426.5 889.2,444.9 915.3,463.6 941.4,468.0 967.5,473.7 993.5,468.1 1019.6,464.3" stroke="rgba(70,125,180,0.19)"/>
<polyline points="732.8,467.2 758.9,403.0 784.9,414.9 811.0,396.0 837.1,409.5 863.2,421.8 889.2,421.3 915.3,435.9 941.4,426.4 967.5,434.6 993.5,424.7 1019.6,429.4" stroke="rgba(70,125,180,0.19)"/>
<polyline points="732.8,425.2 758.9,429.6 784.9,419.7 811.0,444.8 837.1,452.2 863.2,460.9 889.2,469.8 915.3,474.8 941.4,478.0 967.5,484.7 993.5,488.8 1019.6,485.5" stroke="rgba(70,125,180,0.19)"/>
<polyline points="732.8,421.4 758.9,417.2 784.9,413.9 811.0,421.0 837.1,436.8 863.2,439.3 889.2,437.9 915.3,456.0 941.4,460.1 967.5,440.6 993.5,452.6 1019.6,447.0" stroke="rgba(70,125,180,0.19)"/>
<polyline points="732.8,398.2 758.9,409.5 784.9,417.8 811.0,411.6 837.1,440.3 863.2,440.6 889.2,450.7 915.3,456.7 941.4,466.0 967.5,465.4 993.5,469.6 1019.6,469.5" stroke="rgba(70,125,180,0.19)"/>
<polyline points="732.8,462.4 758.9,469.1 784.9,478.4 811.0,508.2 837.1,512.5 863.2,515.8 889.2,532.8 915.3,543.5 941.4,536.2 967.5,529.7 993.5,536.3 1019.6,542.6" stroke="rgba(70,125,180,0.19)"/>
<polyline points="732.8,454.0 758.9,410.3 784.9,394.3 811.0,398.9 837.1,408.1 863.2,420.1 889.2,417.6 915.3,435.0 941.4,430.4 967.5,425.9 993.5,431.8 1019.6,434.9" stroke="rgba(70,125,180,0.19)"/>
<polyline points="732.8,424.1 758.9,439.1 784.9,431.3 811.0,421.4 837.1,449.6 863.2,455.7 889.2,463.9 915.3,458.2 941.4,463.5 967.5,465.8 993.5,473.6 1019.6,460.1" stroke="rgba(70,125,180,0.19)"/>
<polyline points="732.8,399.9 758.9,437.4 784.9,425.6 811.0,435.5 837.1,442.2 863.2,448.2 889.2,451.2 915.3,455.7 941.4,448.6 967.5,464.1 993.5,456.8 1019.6,458.8" stroke="rgba(70,125,180,0.19)"/>
<polyline points="732.8,440.9 758.9,452.6 784.9,446.9 811.0,465.2 837.1,491.9 863.2,492.3 889.2,486.8 915.3,507.7 941.4,507.5 967.5,517.3 993.5,500.4 1019.6,510.8" stroke="rgba(70,125,180,0.19)"/>
<polyline points="732.8,426.1 758.9,453.9 784.9,449.6 811.0,483.8 837.1,495.2 863.2,499.7 889.2,510.4 915.3,502.1 941.4,514.6 967.5,516.1 993.5,530.7 1019.6,535.5" stroke="rgba(70,125,180,0.19)"/>
<polyline points="732.8,461.4 758.9,410.3 784.9,417.8 811.0,419.9 837.1,427.6 863.2,440.3 889.2,445.2 915.3,451.6 941.4,459.7 967.5,459.3 993.5,454.3 1019.6,446.0" stroke="rgba(70,125,180,0.19)"/>
<polyline points="732.8,426.9 758.9,457.7 784.9,455.2 811.0,479.1 837.1,497.3 863.2,507.4 889.2,502.2 915.3,500.0 941.4,520.3 967.5,523.3 993.5,512.3 1019.6,521.9" stroke="rgba(70,125,180,0.19)"/>
<polyline points="732.8,468.6 758.9,434.4 784.9,428.2 811.0,461.5 837.1,475.7 863.2,470.4 889.2,485.5 915.3,484.6 941.4,504.8 967.5,491.7 993.5,486.4 1019.6,503.2" stroke="rgba(70,125,180,0.19)"/>
<polyline points="732.8,429.4 758.9,416.5 784.9,419.0 811.0,420.1 837.1,446.6 863.2,440.7 889.2,459.2 915.3,456.7 941.4,448.8 967.5,477.7 993.5,463.9 1019.6,461.1" stroke="rgba(70,125,180,0.19)"/>
<polyline points="732.8,411.7 758.9,401.8 784.9,398.1 811.0,394.2 837.1,399.3 863.2,410.3 889.2,418.8 915.3,420.5 941.4,420.6 967.5,428.1 993.5,422.4 1019.6,422.4" stroke="rgba(70,125,180,0.19)"/>
<polyline points="732.8,457.0 758.9,453.8 784.9,443.2 811.0,481.9 837.1,482.2 863.2,493.0 889.2,500.4 915.3,499.6 941.4,495.2 967.5,503.9 993.5,506.6 1019.6,511.1" stroke="rgba(70,125,180,0.19)"/>
<polyline points="732.8,446.1 758.9,444.1 784.9,443.9 811.0,453.6 837.1,469.1 863.2,458.4 889.2,469.9 915.3,477.5 941.4,467.2 967.5,482.4 993.5,472.3 1019.6,471.9" stroke="rgba(70,125,180,0.19)"/>
<polyline points="732.8,455.7 758.9,452.0 784.9,457.4 811.0,495.7 837.1,496.3 863.2,515.4 889.2,523.3 915.3,529.4 941.4,531.2 967.5,543.6 993.5,539.3 1019.6,542.7" stroke="rgba(70,125,180,0.19)"/>
<polyline points="732.8,399.1 758.9,428.3 784.9,419.1 811.0,433.6 837.1,427.3 863.2,453.3 889.2,452.9 915.3,451.2 941.4,463.3 967.5,450.7 993.5,452.3 1019.6,460.8" stroke="rgba(70,125,180,0.19)"/>
<polyline points="732.8,409.3 758.9,402.7 784.9,395.0 811.0,400.8 837.1,403.6 863.2,409.4 889.2,425.3 915.3,440.3 941.4,435.4 967.5,445.5 993.5,447.3 1019.6,429.3" stroke="rgba(70,125,180,0.19)"/>
<polyline points="732.8,453.7 758.9,426.3 784.9,422.0 811.0,438.1 837.1,454.4 863.2,450.2 889.2,460.6 915.3,460.7 941.4,470.9 967.5,451.6 993.5,457.4 1019.6,464.7" stroke="rgba(70,125,180,0.19)"/>
<polyline points="732.8,462.2 758.9,414.3 784.9,402.0 811.0,399.9 837.1,431.4 863.2,430.9 889.2,420.2 915.3,440.9 941.4,455.3 967.5,450.8 993.5,449.2 1019.6,462.8" stroke="rgba(70,125,180,0.19)"/>
<polyline points="732.8,418.5 758.9,453.6 784.9,479.7 811.0,473.9 837.1,494.0 863.2,509.5 889.2,517.3 915.3,516.8 941.4,532.0 967.5,515.0 993.5,514.3 1019.6,526.3" stroke="rgba(70,125,180,0.19)"/>
<polyline points="732.8,469.3 758.9,449.2 784.9,429.4 811.0,440.7 837.1,459.0 863.2,470.4 889.2,475.9 915.3,470.1 941.4,486.1 967.5,477.2 993.5,486.0 1019.6,486.0" stroke="rgba(70,125,180,0.19)"/>
<polyline points="732.8,452.6 758.9,436.2 784.9,432.5 811.0,438.3 837.1,467.4 863.2,466.4 889.2,483.8 915.3,475.9 941.4,480.7 967.5,480.1 993.5,492.1 1019.6,493.7" stroke="rgba(70,125,180,0.19)"/>
<polyline points="732.8,466.1 758.9,472.5 784.9,471.4 811.0,482.3 837.1,505.0 863.2,533.2 889.2,528.3 915.3,524.2 941.4,528.2 967.5,535.9 993.5,519.3 1019.6,535.4" stroke="rgba(70,125,180,0.19)"/>
<polyline points="732.8,441.0 758.9,432.4 784.9,411.5 811.0,422.6 837.1,454.5 863.2,444.7 889.2,452.0 915.3,455.5 941.4,463.3 967.5,464.3 993.5,460.0 1019.6,453.1" stroke="rgba(70,125,180,0.19)"/>
<polyline points="732.8,423.0 758.9,396.7 784.9,398.2 811.0,398.1 837.1,400.4 863.2,407.5 889.2,416.3 915.3,421.4 941.4,434.2 967.5,430.3 993.5,432.7 1019.6,432.3" stroke="rgba(70,125,180,0.19)"/>
<polyline points="732.8,409.6 758.9,448.6 784.9,424.2 811.0,437.4 837.1,432.7 863.2,449.8 889.2,474.8 915.3,463.5 941.4,472.2 967.5,461.5 993.5,476.5 1019.6,469.8" stroke="rgba(70,125,180,0.19)"/>
<polyline points="732.8,449.5 758.9,449.8 784.9,432.9 811.0,440.5 837.1,462.3 863.2,477.0 889.2,475.1 915.3,476.4 941.4,484.3 967.5,483.8 993.5,474.2 1019.6,493.1" stroke="rgba(70,125,180,0.19)"/>
<polyline points="732.8,451.6 758.9,449.4 784.9,454.1 811.0,467.2 837.1,465.1 863.2,488.5 889.2,496.0 915.3,484.5 941.4,504.5 967.5,518.4 993.5,504.8 1019.6,516.3" stroke="rgba(70,125,180,0.19)"/>
<polyline points="732.8,449.4 758.9,422.6 784.9,401.1 811.0,411.9 837.1,417.5 863.2,428.3 889.2,437.7 915.3,431.2 941.4,434.5 967.5,442.2 993.5,450.6 1019.6,453.2" stroke="rgba(70,125,180,0.19)"/>
<polyline points="732.8,447.2 758.9,434.6 784.9,429.8 811.0,440.4 837.1,451.5 863.2,452.2 889.2,445.6 915.3,458.3 941.4,462.9 967.5,469.9 993.5,455.7 1019.6,456.5" stroke="rgba(70,125,180,0.19)"/>
<polyline points="732.8,439.8 758.9,446.2 784.9,455.1 811.0,476.3 837.1,496.3 863.2,500.2 889.2,510.1 915.3,498.9 941.4,526.0 967.5,521.8 993.5,511.3 1019.6,523.6" stroke="rgba(70,125,180,0.19)"/>
<polyline points="732.8,436.4 758.9,416.1 784.9,414.5 811.0,414.7 837.1,403.7 863.2,422.8 889.2,429.9 915.3,431.4 941.4,436.7 967.5,434.0 993.5,443.9 1019.6,444.3" stroke="rgba(70,125,180,0.19)"/>
<polyline points="732.8,463.0 758.9,421.8 784.9,417.9 811.0,415.2 837.1,437.5 863.2,448.0 889.2,449.8 915.3,440.4 941.4,454.6 967.5,454.0 993.5,455.9 1019.6,454.6" stroke="rgba(70,125,180,0.19)"/>
<polyline points="732.8,468.6 758.9,410.1 784.9,412.8 811.0,419.9 837.1,412.0 863.2,437.4 889.2,428.0 915.3,438.1 941.4,454.0 967.5,442.8 993.5,440.7 1019.6,446.6" stroke="rgba(70,125,180,0.19)"/>
<polyline points="732.8,442.4 758.9,477.3 784.9,467.8 811.0,506.3 837.1,524.6 863.2,531.9 889.2,542.4 915.3,546.5 941.4,543.0 967.5,542.2 993.5,549.0 1019.6,546.8" stroke="rgba(70,125,180,0.19)"/>
<polyline points="732.8,452.5 758.9,453.3 784.9,467.4 811.0,482.5 837.1,492.6 863.2,510.3 889.2,490.3 915.3,511.9 941.4,514.3 967.5,519.3 993.5,502.8 1019.6,504.6" stroke="rgba(70,125,180,0.19)"/>
<polyline points="732.8,448.1 758.9,426.6 784.9,432.8 811.0,447.7 837.1,462.0 863.2,467.7 889.2,469.8 915.3,479.4 941.4,477.9 967.5,459.5 993.5,468.3 1019.6,490.0" stroke="rgba(70,125,180,0.19)"/>
<polyline points="732.8,441.5 758.9,421.9 784.9,428.7 811.0,437.5 837.1,451.2 863.2,457.0 889.2,453.7 915.3,461.2 941.4,478.9 967.5,473.0 993.5,476.1 1019.6,465.0" stroke="rgba(70,125,180,0.19)"/>
<polyline points="732.8,440.1 758.9,444.4 784.9,424.4 811.0,435.0 837.1,445.9 863.2,466.2 889.2,462.5 915.3,471.3 941.4,473.2 967.5,465.7 993.5,465.8 1019.6,474.8" stroke="rgba(70,125,180,0.19)"/>
<polyline points="732.8,449.4 758.9,453.5 784.9,471.7 811.0,509.1 837.1,516.9 863.2,517.1 889.2,516.5 915.3,525.7 941.4,535.5 967.5,539.0 993.5,550.2 1019.6,548.1" stroke="rgba(70,125,180,0.19)"/>
<polyline points="732.8,437.9 758.9,442.8 784.9,438.7 811.0,443.9 837.1,463.7 863.2,474.3 889.2,486.4 915.3,500.0 941.4,492.9 967.5,489.2 993.5,501.5 1019.6,486.3" stroke="rgba(70,125,180,0.19)"/>
<polyline points="732.8,444.9 758.9,448.3 784.9,424.8 811.0,460.3 837.1,459.4 863.2,477.6 889.2,478.1 915.3,489.6 941.4,489.1 967.5,479.8 993.5,472.8 1019.6,493.2" stroke="rgba(70,125,180,0.19)"/>
<polyline points="732.8,450.4 758.9,428.7 784.9,437.6 811.0,437.7 837.1,452.1 863.2,453.7 889.2,466.0 915.3,480.5 941.4,469.0 967.5,481.7 993.5,468.3 1019.6,462.8" stroke="rgba(70,125,180,0.19)"/>
<polyline points="732.8,417.5 758.9,424.9 784.9,431.0 811.0,432.5 837.1,433.1 863.2,453.7 889.2,457.8 915.3,465.4 941.4,477.9 967.5,470.4 993.5,465.2 1019.6,467.2" stroke="rgba(70,125,180,0.19)"/>
<polyline points="732.8,417.0 758.9,433.4 784.9,432.3 811.0,443.4 837.1,471.5 863.2,481.8 889.2,483.4 915.3,478.9 941.4,507.0 967.5,498.5 993.5,504.0 1019.6,496.8" stroke="rgba(70,125,180,0.19)"/>
<polyline points="732.8,461.3 758.9,412.7 784.9,406.2 811.0,418.3 837.1,412.9 863.2,431.0 889.2,429.3 915.3,447.8 941.4,433.1 967.5,452.2 993.5,435.0 1019.6,456.4" stroke="rgba(70,125,180,0.19)"/>
<polyline points="732.8,467.0 758.9,416.0 784.9,403.5 811.0,416.6 837.1,425.3 863.2,427.8 889.2,438.0 915.3,463.0 941.4,446.8 967.5,441.5 993.5,443.3 1019.6,439.0" stroke="rgba(70,125,180,0.19)"/>
<polyline points="732.8,424.6 758.9,440.9 784.9,436.2 811.0,450.0 837.1,469.2 863.2,480.6 889.2,473.8 915.3,480.4 941.4,497.9 967.5,491.1 993.5,478.8 1019.6,480.3" stroke="rgba(70,125,180,0.19)"/>
<polyline points="732.8,436.4 758.9,418.6 784.9,431.1 811.0,438.6 837.1,446.4 863.2,450.8 889.2,456.9 915.3,455.3 941.4,471.5 967.5,459.9 993.5,465.1 1019.6,476.1" stroke="rgba(70,125,180,0.19)"/>
<polyline points="732.8,424.9 758.9,438.6 784.9,450.7 811.0,448.9 837.1,461.3 863.2,462.1 889.2,451.5 915.3,465.3 941.4,469.5 967.5,477.8 993.5,478.8 1019.6,471.0" stroke="rgba(70,125,180,0.19)"/>
<polyline points="732.8,446.3 758.9,444.0 784.9,430.8 811.0,449.7 837.1,471.6 863.2,459.3 889.2,475.7 915.3,484.9 941.4,473.6 967.5,471.0 993.5,475.6 1019.6,466.8" stroke="rgba(70,125,180,0.19)"/>
<polyline points="732.8,476.0 758.9,440.2 784.9,418.9 811.0,416.0 837.1,430.9 863.2,436.5 889.2,440.5 915.3,458.3 941.4,453.9 967.5,473.6 993.5,458.9 1019.6,462.2" stroke="rgba(70,125,180,0.19)"/>
<polyline points="732.8,459.1 758.9,435.2 784.9,426.7 811.0,450.1 837.1,457.9 863.2,474.6 889.2,475.1 915.3,488.3 941.4,481.1 967.5,486.3 993.5,483.4 1019.6,490.9" stroke="rgba(70,125,180,0.19)"/>
<polyline points="732.8,420.3 758.9,440.9 784.9,460.0 811.0,469.2 837.1,485.2 863.2,495.8 889.2,516.8 915.3,507.4 941.4,519.5 967.5,504.8 993.5,508.4 1019.6,510.5" stroke="rgba(70,125,180,0.19)"/>
<polyline points="732.8,426.4 758.9,481.0 784.9,477.0 811.0,507.4 837.1,526.2 863.2,537.4 889.2,546.0 915.3,545.2 941.4,522.0 967.5,542.9 993.5,543.1 1019.6,549.5" stroke="rgba(70,125,180,0.19)"/>
<polyline points="732.8,455.0 758.9,437.8 784.9,448.6 811.0,454.8 837.1,484.4 863.2,477.6 889.2,491.6 915.3,490.9 941.4,499.3 967.5,505.9 993.5,491.8 1019.6,504.6" stroke="rgba(70,125,180,0.19)"/>
<polyline points="732.8,435.3 758.9,440.1 784.9,435.5 811.0,447.2 837.1,469.3 863.2,482.8 889.2,476.9 915.3,477.9 941.4,482.6 967.5,497.0 993.5,485.6 1019.6,488.4" stroke="rgba(70,125,180,0.19)"/>
<polyline points="732.8,444.8 758.9,428.5 784.9,420.4 811.0,439.7 837.1,459.6 863.2,457.5 889.2,461.8 915.3,480.2 941.4,474.0 967.5,465.2 993.5,470.8 1019.6,469.4" stroke="rgba(70,125,180,0.19)"/>
<polyline points="732.8,407.4 758.9,454.1 784.9,463.0 811.0,483.0 837.1,483.2 863.2,496.1 889.2,508.8 915.3,497.6 941.4,502.7 967.5,503.9 993.5,520.9 1019.6,509.0" stroke="rgba(70,125,180,0.19)"/>
<polyline points="732.8,422.3 758.9,415.8 784.9,414.9 811.0,435.7 837.1,449.4 863.2,446.1 889.2,453.4 915.3,456.4 941.4,459.9 967.5,470.6 993.5,474.3 1019.6,486.1" stroke="rgba(70,125,180,0.19)"/>
<polyline points="732.8,447.3 758.9,424.9 784.9,409.9 811.0,416.9 837.1,440.7 863.2,442.3 889.2,450.4 915.3,430.3 941.4,451.1 967.5,438.9 993.5,430.3 1019.6,429.6" stroke="rgba(70,125,180,0.19)"/>
<polyline points="732.8,461.2 758.9,414.8 784.9,407.6 811.0,406.5 837.1,396.4 863.2,434.1 889.2,423.7 915.3,439.4 941.4,422.3 967.5,422.1 993.5,434.7 1019.6,415.7" stroke="rgba(70,125,180,0.19)"/>
<polyline points="732.8,433.4 758.9,436.6 784.9,432.9 811.0,440.5 837.1,448.1 863.2,458.6 889.2,448.5 915.3,469.9 941.4,473.5 967.5,475.1 993.5,475.2 1019.6,479.8" stroke="rgba(70,125,180,0.19)"/>
<polyline points="732.8,437.9 758.9,449.8 784.9,449.6 811.0,459.9 837.1,477.8 863.2,483.9 889.2,499.7 915.3,500.8 941.4,506.4 967.5,501.6 993.5,506.8 1019.6,503.6" stroke="rgba(70,125,180,0.19)"/>
<polyline points="732.8,443.8 758.9,440.8 784.9,427.8 811.0,451.5 837.1,470.6 863.2,469.8 889.2,486.0 915.3,489.9 941.4,484.2 967.5,497.6 993.5,509.5 1019.6,485.0" stroke="rgba(70,125,180,0.19)"/>
<polyline points="732.8,455.2 758.9,416.1 784.9,428.9 811.0,427.2 837.1,443.1 863.2,444.8 889.2,465.4 915.3,449.8 941.4,460.9 967.5,459.3 993.5,465.6 1019.6,480.2" stroke="rgba(70,125,180,0.19)"/>
<polyline points="732.8,438.8 758.9,443.8 784.9,440.5 811.0,452.2 837.1,460.1 863.2,468.8 889.2,489.2 915.3,486.9 941.4,479.6 967.5,488.0 993.5,498.3 1019.6,495.4" stroke="rgba(70,125,180,0.19)"/>
<polyline points="732.8,438.4 758.9,436.4 784.9,423.3 811.0,461.1 837.1,472.2 863.2,484.6 889.2,489.8 915.3,475.4 941.4,481.4 967.5,471.7 993.5,497.6 1019.6,489.8" stroke="rgba(70,125,180,0.19)"/>
<polyline points="732.8,423.1 758.9,406.2 784.9,402.6 811.0,405.2 837.1,416.1 863.2,417.4 889.2,430.7 915.3,430.5 941.4,424.2 967.5,442.7 993.5,439.9 1019.6,430.3" stroke="rgba(70,125,180,0.19)"/>
<polyline points="732.8,401.2 758.9,435.6 784.9,441.9 811.0,443.3 837.1,447.4 863.2,481.4 889.2,485.2 915.3,483.5 941.4,491.5 967.5,472.0 993.5,484.6 1019.6,491.9" stroke="rgba(70,125,180,0.19)"/>
<polyline points="732.8,449.9 758.9,427.0 784.9,407.3 811.0,449.3 837.1,443.8 863.2,445.4 889.2,457.1 915.3,453.1 941.4,466.7 967.5,470.0 993.5,473.1 1019.6,479.4" stroke="rgba(70,125,180,0.19)"/>
<polyline points="732.8,441.2 758.9,414.8 784.9,407.5 811.0,420.5 837.1,419.7 863.2,424.5 889.2,432.1 915.3,431.7 941.4,442.2 967.5,447.0 993.5,441.6 1019.6,440.4" stroke="rgba(70,125,180,0.19)"/>
<polyline points="732.8,457.5 758.9,441.4 784.9,446.5 811.0,476.7 837.1,485.6 863.2,489.1 889.2,493.4 915.3,512.6 941.4,513.1 967.5,502.8 993.5,497.2 1019.6,505.1" stroke="rgba(70,125,180,0.19)"/>
<polyline points="732.8,444.4 758.9,451.6 784.9,460.7 811.0,476.0 837.1,487.7 863.2,482.1 889.2,496.6 915.3,502.2 941.4,507.3 967.5,513.2 993.5,509.7 1019.6,499.4" stroke="rgba(70,125,180,0.19)"/>
<polyline points="732.8,434.3 758.9,421.1 784.9,425.7 811.0,416.1 837.1,442.9 863.2,426.0 889.2,447.0 915.3,445.1 941.4,456.0 967.5,449.2 993.5,451.6 1019.6,436.1" stroke="rgba(70,125,180,0.19)"/>
<polyline points="732.8,473.8 758.9,432.1 784.9,433.4 811.0,448.1 837.1,450.1 863.2,464.3 889.2,469.7 915.3,479.5 941.4,482.6 967.5,483.2 993.5,492.8 1019.6,478.1" stroke="rgba(70,125,180,0.19)"/>
<polyline points="732.8,437.2 758.9,421.4 784.9,425.8 811.0,427.9 837.1,453.6 863.2,460.5 889.2,477.8 915.3,480.0 941.4,490.3 967.5,485.3 993.5,478.8 1019.6,478.6" stroke="rgba(70,125,180,0.19)"/>
<polyline points="732.8,456.8 758.9,414.1 784.9,410.7 811.0,401.2 837.1,412.1 863.2,427.0 889.2,448.9 915.3,448.3 941.4,445.5 967.5,452.5 993.5,444.2 1019.6,443.5" stroke="rgba(70,125,180,0.19)"/>
<polyline points="732.8,454.9 758.9,428.0 784.9,417.0 811.0,412.6 837.1,423.4 863.2,435.4 889.2,446.5 915.3,448.0 941.4,449.3 967.5,446.3 993.5,449.9 1019.6,467.6" stroke="rgba(70,125,180,0.19)"/>
<polyline points="732.8,447.3 758.9,416.4 784.9,411.5 811.0,419.3 837.1,443.4 863.2,438.0 889.2,441.3 915.3,449.3 941.4,462.7 967.5,448.3 993.5,446.8 1019.6,451.0" stroke="rgba(70,125,180,0.19)"/>
<polyline points="732.8,450.8 758.9,424.7 784.9,427.8 811.0,432.6 837.1,424.0 863.2,450.3 889.2,461.5 915.3,478.3 941.4,468.6 967.5,464.7 993.5,476.1 1019.6,473.6" stroke="rgba(70,125,180,0.19)"/>
<polyline points="732.8,449.7 758.9,462.7 784.9,468.5 811.0,502.0 837.1,510.3 863.2,523.0 889.2,532.8 915.3,536.8 941.4,543.1 967.5,527.9 993.5,531.1 1019.6,544.9" stroke="rgba(70,125,180,0.19)"/>
<polyline points="732.8,466.1 758.9,413.9 784.9,426.5 811.0,415.4 837.1,435.7 863.2,439.0 889.2,449.0 915.3,448.8 941.4,457.6 967.5,457.0 993.5,460.4 1019.6,455.4" stroke="rgba(70,125,180,0.19)"/>
<polyline points="732.8,411.9 758.9,440.2 784.9,436.8 811.0,455.9 837.1,468.0 863.2,471.2 889.2,481.6 915.3,488.8 941.4,484.5 967.5,482.8 993.5,481.8 1019.6,478.9" stroke="rgba(70,125,180,0.19)"/>
<polyline points="732.8,442.1 758.9,465.5 784.9,470.1 811.0,483.7 837.1,495.9 863.2,511.7 889.2,513.8 915.3,529.4 941.4,518.3 967.5,520.0 993.5,522.0 1019.6,512.1" stroke="rgba(70,125,180,0.19)"/>
<polyline points="732.8,453.1 758.9,396.3 784.9,398.1 811.0,396.4 837.1,411.1 863.2,410.7 889.2,416.2 915.3,422.3 941.4,426.7 967.5,426.1 993.5,427.9 1019.6,418.0" stroke="rgba(70,125,180,0.19)"/>
<polyline points="732.8,442.8 758.9,447.8 784.9,445.8 811.0,468.3 837.1,469.5 863.2,476.4 889.2,489.4 915.3,480.1 941.4,499.7 967.5,490.5 993.5,491.8 1019.6,499.8" stroke="rgba(70,125,180,0.19)"/>
<polyline points="732.8,437.9 758.9,435.5 784.9,427.1 811.0,447.0 837.1,474.2 863.2,474.7 889.2,469.6 915.3,479.8 941.4,488.6 967.5,495.0 993.5,478.6 1019.6,470.1" stroke="rgba(70,125,180,0.19)"/>
<polyline points="732.8,430.1 758.9,458.4 784.9,463.6 811.0,482.7 837.1,503.8 863.2,503.4 889.2,508.2 915.3,517.4 941.4,527.9 967.5,518.5 993.5,528.8 1019.6,525.8" stroke="rgba(70,125,180,0.19)"/>
<polyline points="732.8,425.7 758.9,438.7 784.9,451.2 811.0,463.5 837.1,485.5 863.2,482.4 889.2,489.6 915.3,490.9 941.4,503.4 967.5,509.5 993.5,501.5 1019.6,502.7" stroke="rgba(70,125,180,0.19)"/>
<polyline points="732.8,422.1 758.9,442.3 784.9,439.6 811.0,459.1 837.1,483.3 863.2,487.9 889.2,492.7 915.3,488.8 941.4,489.2 967.5,495.0 993.5,489.0 1019.6,502.3" stroke="rgba(70,125,180,0.19)"/>
<polyline points="732.8,431.1 758.9,427.8 784.9,447.1 811.0,455.9 837.1,463.3 863.2,456.8 889.2,458.2 915.3,477.1 941.4,481.2 967.5,481.1 993.5,479.8 1019.6,469.2" stroke="rgba(70,125,180,0.19)"/>
<polyline points="732.8,426.2 758.9,442.8 784.9,435.5 811.0,449.5 837.1,455.8 863.2,461.6 889.2,476.1 915.3,470.0 941.4,473.5 967.5,477.6 993.5,474.5 1019.6,470.9" stroke="rgba(70,125,180,0.19)"/>
<polyline points="732.8,416.4 758.9,439.6 784.9,444.7 811.0,450.1 837.1,478.5 863.2,475.9 889.2,493.2 915.3,490.9 941.4,503.5 967.5,496.9 993.5,486.6 1019.6,495.2" stroke="rgba(70,125,180,0.19)"/>
<polyline points="732.8,450.1 758.9,440.6 784.9,459.0 811.0,481.6 837.1,472.6 863.2,495.4 889.2,492.6 915.3,492.3 941.4,511.4 967.5,501.1 993.5,505.2 1019.6,496.3" stroke="rgba(70,125,180,0.19)"/>
<polyline points="732.8,437.9 758.9,430.1 784.9,437.2 811.0,442.8 837.1,465.2 863.2,470.4 889.2,475.2 915.3,481.3 941.4,476.7 967.5,480.4 993.5,482.5 1019.6,484.8" stroke="rgba(70,125,180,0.19)"/>
<polyline points="732.8,420.1 758.9,420.6 784.9,430.0 811.0,444.0 837.1,456.9 863.2,456.7 889.2,470.7 915.3,484.3 941.4,481.8 967.5,487.4 993.5,484.7 1019.6,490.9" stroke="rgba(70,125,180,0.19)"/>
<polyline points="732.8,420.4 758.9,457.5 784.9,455.5 811.0,466.1 837.1,479.8 863.2,493.6 889.2,483.5 915.3,504.0 941.4,489.3 967.5,489.0 993.5,496.1 1019.6,497.8" stroke="rgba(70,125,180,0.19)"/>
<polyline points="732.8,475.8 758.9,442.2 784.9,428.1 811.0,442.9 837.1,458.7 863.2,470.4 889.2,475.1 915.3,479.3 941.4,456.7 967.5,485.7 993.5,466.6 1019.6,474.5" stroke="rgba(70,125,180,0.19)"/>
<polyline points="732.8,445.6 758.9,419.8 784.9,425.1 811.0,438.3 837.1,452.4 863.2,457.8 889.2,473.9 915.3,471.9 941.4,476.4 967.5,468.2 993.5,468.8 1019.6,486.6" stroke="rgba(70,125,180,0.19)"/>
<polyline points="732.8,461.6 758.9,445.3 784.9,429.3 811.0,448.5 837.1,464.2 863.2,476.8 889.2,473.2 915.3,481.6 941.4,478.0 967.5,476.5 993.5,474.5 1019.6,481.7" stroke="rgba(70,125,180,0.19)"/>
<polyline points="732.8,440.6 758.9,440.8 784.9,447.2 811.0,458.6 837.1,475.6 863.2,483.4 889.2,484.9 915.3,481.8 941.4,496.2 967.5,488.9 993.5,491.1 1019.6,493.3" stroke="rgba(70,125,180,0.19)"/>
<polyline points="732.8,428.9 758.9,422.8 784.9,445.0 811.0,425.4 837.1,437.0 863.2,435.6 889.2,464.0 915.3,460.1 941.4,461.1 967.5,471.4 993.5,457.1 1019.6,463.3" stroke="rgba(70,125,180,0.19)"/>
<polyline points="732.8,446.2 758.9,430.0 784.9,435.3 811.0,483.6 837.1,494.7 863.2,485.7 889.2,498.7 915.3,507.1 941.4,501.6 967.5,506.6 993.5,506.6 1019.6,508.1" stroke="rgba(70,125,180,0.19)"/>
<polyline points="732.8,447.0 758.9,441.4 784.9,448.2 811.0,468.4 837.1,482.1 863.2,490.4 889.2,509.0 915.3,501.4 941.4,497.7 967.5,511.9 993.5,510.7 1019.6,492.4" stroke="rgba(70,125,180,0.19)"/>
<polyline points="732.8,430.7 758.9,423.9 784.9,412.2 811.0,428.8 837.1,441.8 863.2,454.4 889.2,455.6 915.3,462.6 941.4,469.9 967.5,469.3 993.5,473.7 1019.6,465.6" stroke="rgba(70,125,180,0.19)"/>
<polyline points="732.8,455.9 758.9,442.8 784.9,459.3 811.0,468.3 837.1,483.9 863.2,501.5 889.2,500.4 915.3,507.0 941.4,514.4 967.5,520.7 993.5,517.7 1019.6,528.0" stroke="rgba(70,125,180,0.19)"/>
<polyline points="732.8,431.1 758.9,436.4 784.9,444.0 811.0,445.9 837.1,458.1 863.2,474.3 889.2,487.2 915.3,482.6 941.4,506.4 967.5,494.2 993.5,486.9 1019.6,477.8" stroke="rgba(70,125,180,0.19)"/>
<polyline points="732.8,397.6 758.9,430.9 784.9,462.7 811.0,451.8 837.1,472.1 863.2,473.1 889.2,487.4 915.3,493.4 941.4,492.2 967.5,479.5 993.5,483.8 1019.6,491.5" stroke="rgba(70,125,180,0.19)"/>
<polyline points="732.8,428.8 758.9,428.6 784.9,429.2 811.0,437.9 837.1,448.5 863.2,456.6 889.2,470.1 915.3,472.3 941.4,457.9 967.5,472.2 993.5,473.6 1019.6,464.6" stroke="rgba(70,125,180,0.19)"/>
<polyline points="732.8,446.3 758.9,419.8 784.9,406.5 811.0,411.3 837.1,419.8 863.2,419.5 889.2,436.5 915.3,437.5 941.4,435.5 967.5,433.6 993.5,438.7 1019.6,438.6" stroke="rgba(70,125,180,0.19)"/>
<polyline points="732.8,429.6 758.9,453.4 784.9,479.2 811.0,469.9 837.1,490.6 863.2,504.7 889.2,507.5 915.3,531.8 941.4,524.9 967.5,505.8 993.5,500.0 1019.6,500.7" stroke="rgba(70,125,180,0.19)"/>
<polyline points="732.8,425.0 758.9,454.2 784.9,435.6 811.0,467.9 837.1,475.0 863.2,493.6 889.2,489.5 915.3,496.1 941.4,490.7 967.5,507.3 993.5,499.7 1019.6,487.1" stroke="rgba(70,125,180,0.19)"/>
<polyline points="732.8,431.1 758.9,455.5 784.9,458.9 811.0,463.8 837.1,481.0 863.2,492.7 889.2,501.4 915.3,515.1 941.4,508.6 967.5,496.7 993.5,502.4 1019.6,520.1" stroke="rgba(70,125,180,0.19)"/>
<polyline points="732.8,436.0 758.9,469.7 784.9,478.4 811.0,496.1 837.1,509.2 863.2,522.3 889.2,522.1 915.3,545.7 941.4,535.0 967.5,536.3 993.5,551.1 1019.6,532.4" stroke="rgba(70,125,180,0.19)"/>
<polyline points="732.8,400.9 758.9,449.9 784.9,477.8 811.0,498.6 837.1,505.6 863.2,518.4 889.2,525.2 915.3,532.9 941.4,523.2 967.5,530.6 993.5,536.8 1019.6,525.0" stroke="rgba(70,125,180,0.19)"/>
<polyline points="732.8,442.9 758.9,441.6 784.9,428.9 811.0,439.8 837.1,464.7 863.2,467.2 889.2,461.1 915.3,465.5 941.4,483.8 967.5,482.6 993.5,470.2 1019.6,455.7" stroke="rgba(70,125,180,0.19)"/>
<polyline points="732.8,448.9 758.9,439.5 784.9,450.6 811.0,459.9 837.1,482.9 863.2,492.1 889.2,491.2 915.3,506.0 941.4,511.0 967.5,502.1 993.5,499.8 1019.6,510.0" stroke="rgba(70,125,180,0.19)"/>
<polyline points="732.8,451.9 758.9,441.0 784.9,434.5 811.0,455.2 837.1,458.9 863.2,482.3 889.2,497.1 915.3,480.7 941.4,497.4 967.5,481.7 993.5,496.8 1019.6,496.2" stroke="rgba(70,125,180,0.19)"/>
<polyline points="732.8,442.8 758.9,412.4 784.9,407.7 811.0,420.4 837.1,434.7 863.2,448.7 889.2,444.9 915.3,441.3 941.4,440.7 967.5,440.0 993.5,451.7 1019.6,444.4" stroke="rgba(70,125,180,0.19)"/>
<polyline points="732.8,424.8 758.9,456.3 784.9,454.9 811.0,467.9 837.1,478.7 863.2,489.8 889.2,498.3 915.3,491.3 941.4,499.9 967.5,508.2 993.5,505.8 1019.6,484.1" stroke="rgba(70,125,180,0.19)"/>
<polyline points="732.8,452.6 758.9,437.6 784.9,434.5 811.0,432.8 837.1,456.9 863.2,450.6 889.2,482.4 915.3,483.0 941.4,451.5 967.5,477.8 993.5,485.8 1019.6,467.4" stroke="rgba(70,125,180,0.19)"/>
<polyline points="732.8,432.3 758.9,449.0 784.9,460.6 811.0,468.3 837.1,488.8 863.2,498.8 889.2,497.3 915.3,507.2 941.4,513.0 967.5,508.8 993.5,522.4 1019.6,507.2" stroke="rgba(70,125,180,0.19)"/>
<polyline points="732.8,453.9 758.9,434.7 784.9,422.7 811.0,435.6 837.1,438.7 863.2,461.5 889.2,456.7 915.3,464.6 941.4,464.6 967.5,463.4 993.5,453.1 1019.6,477.9" stroke="rgba(70,125,180,0.19)"/>
<polyline points="732.8,452.2 758.9,424.9 784.9,433.4 811.0,440.6 837.1,452.1 863.2,467.4 889.2,472.1 915.3,472.5 941.4,478.4 967.5,477.2 993.5,469.0 1019.6,472.5" stroke="rgba(70,125,180,0.19)"/>
<polyline points="732.8,438.6 758.9,433.0 784.9,436.0 811.0,451.3 837.1,475.2 863.2,470.4 889.2,492.4 915.3,478.1 941.4,471.9 967.5,474.0 993.5,471.3 1019.6,465.8" stroke="rgba(70,125,180,0.19)"/>
<polyline points="732.8,466.4 758.9,459.0 784.9,446.8 811.0,472.0 837.1,481.5 863.2,493.3 889.2,495.6 915.3,515.1 941.4,508.1 967.5,511.9 993.5,510.2 1019.6,509.5" stroke="rgba(70,125,180,0.19)"/>
<polyline points="732.8,413.7 758.9,426.7 784.9,418.2 811.0,428.2 837.1,441.5 863.2,445.0 889.2,453.1 915.3,453.0 941.4,453.0 967.5,462.0 993.5,469.6 1019.6,458.6" stroke="rgba(70,125,180,0.19)"/>
<polyline points="732.8,458.3 758.9,411.9 784.9,399.3 811.0,404.4 837.1,413.1 863.2,427.1 889.2,434.5 915.3,428.7 941.4,444.5 967.5,438.5 993.5,448.2 1019.6,439.4" stroke="rgba(70,125,180,0.19)"/>
<polyline points="732.8,418.6 758.9,404.0 784.9,403.0 811.0,398.7 837.1,407.1 863.2,411.8 889.2,425.8 915.3,420.5 941.4,432.3 967.5,426.8 993.5,427.6 1019.6,436.1" stroke="rgba(70,125,180,0.19)"/>
<polyline points="732.8,436.9 758.9,419.6 784.9,427.9 811.0,428.0 837.1,436.8 863.2,430.8 889.2,449.0 915.3,444.2 941.4,458.6 967.5,457.8 993.5,455.6 1019.6,445.1" stroke="rgba(70,125,180,0.19)"/>
<polyline points="732.8,431.5 758.9,458.4 784.9,467.4 811.0,481.5 837.1,501.3 863.2,518.6 889.2,513.6 915.3,527.9 941.4,527.3 967.5,515.0 993.5,508.5 1019.6,516.4" stroke="rgba(70,125,180,0.19)"/>
<polyline points="732.8,452.7 758.9,416.4 784.9,423.1 811.0,444.5 837.1,436.8 863.2,452.3 889.2,454.2 915.3,465.3 941.4,486.9 967.5,477.7 993.5,474.5 1019.6,475.8" stroke="rgba(70,125,180,0.19)"/>
<polyline points="732.8,440.7 758.9,412.6 784.9,403.9 811.0,413.6 837.1,427.2 863.2,445.3 889.2,431.4 915.3,439.6 941.4,439.6 967.5,449.8 993.5,443.2 1019.6,451.3" stroke="rgba(70,125,180,0.19)"/>
<polyline points="732.8,427.3 758.9,477.0 784.9,501.5 811.0,519.8 837.1,515.6 863.2,521.3 889.2,537.8 915.3,542.8 941.4,533.4 967.5,534.1 993.5,543.4 1019.6,520.6" stroke="rgba(0,0,0,0.13)"/>
<polyline points="732.8,434.5 758.9,488.8 784.9,535.2 811.0,546.7 837.1,543.9 863.2,549.4 889.2,548.1 915.3,548.3 941.4,541.6 967.5,535.2 993.5,541.8 1019.6,547.1" stroke="rgba(0,0,0,0.13)"/>
<polyline points="732.8,434.1 758.9,452.8 784.9,467.2 811.0,472.4 837.1,491.8 863.2,493.2 889.2,498.0 915.3,485.9 941.4,488.9 967.5,498.1 993.5,499.4 1019.6,496.3" stroke="rgba(0,0,0,0.13)"/>
<polyline points="732.8,443.3 758.9,462.1 784.9,469.3 811.0,464.1 837.1,487.5 863.2,490.0 889.2,478.3 915.3,487.3 941.4,502.3 967.5,486.8 993.5,504.5 1019.6,492.0" stroke="rgba(0,0,0,0.13)"/>
<polyline points="732.8,422.3 758.9,506.1 784.9,534.9 811.0,553.2 837.1,549.1 863.2,539.9 889.2,548.2 915.3,541.7 941.4,534.9 967.5,538.9 993.5,536.5 1019.6,537.4" stroke="rgba(0,0,0,0.13)"/>
<polyline points="732.8,446.0 758.9,465.1 784.9,474.6 811.0,493.8 837.1,477.7 863.2,504.5 889.2,499.8 915.3,504.7 941.4,488.0 967.5,502.3 993.5,502.2 1019.6,484.7" stroke="rgba(0,0,0,0.13)"/>
<polyline points="732.8,439.0 758.9,469.0 784.9,492.2 811.0,500.5 837.1,509.2 863.2,507.7 889.2,511.0 915.3,512.9 941.4,521.8 967.5,516.2 993.5,524.6 1019.6,515.8" stroke="rgba(0,0,0,0.13)"/>
<polyline points="732.8,416.5 758.9,474.3 784.9,484.1 811.0,492.5 837.1,495.3 863.2,508.3 889.2,511.5 915.3,518.7 941.4,505.8 967.5,513.1 993.5,492.5 1019.6,503.7" stroke="rgba(0,0,0,0.13)"/>
<polyline points="732.8,436.9 758.9,474.5 784.9,510.2 811.0,509.6 837.1,518.3 863.2,533.2 889.2,538.5 915.3,536.1 941.4,532.0 967.5,516.2 993.5,520.3 1019.6,522.2" stroke="rgba(0,0,0,0.13)"/>
<polyline points="732.8,432.2 758.9,473.4 784.9,491.3 811.0,502.0 837.1,502.6 863.2,514.3 889.2,515.4 915.3,521.1 941.4,522.2 967.5,524.0 993.5,513.3 1019.6,521.6" stroke="rgba(0,0,0,0.13)"/>
<polyline points="732.8,419.6 758.9,459.1 784.9,460.4 811.0,462.3 837.1,472.6 863.2,473.7 889.2,482.8 915.3,479.3 941.4,484.5 967.5,480.4 993.5,483.2 1019.6,489.0" stroke="rgba(0,0,0,0.13)"/>
<polyline points="732.8,461.9 758.9,472.9 784.9,481.8 811.0,505.7 837.1,508.3 863.2,512.6 889.2,525.9 915.3,512.5 941.4,505.2 967.5,531.4 993.5,509.0 1019.6,530.3" stroke="rgba(0,0,0,0.13)"/>
<polyline points="732.8,418.3 758.9,449.6 784.9,469.6 811.0,471.9 837.1,480.8 863.2,485.7 889.2,480.7 915.3,487.8 941.4,507.3 967.5,493.2 993.5,489.3 1019.6,493.9" stroke="rgba(0,0,0,0.13)"/>
<polyline points="732.8,434.5 758.9,447.4 784.9,451.0 811.0,470.5 837.1,477.3 863.2,475.0 889.2,477.6 915.3,494.3 941.4,481.2 967.5,485.7 993.5,482.1 1019.6,508.1" stroke="rgba(0,0,0,0.13)"/>
<polyline points="732.8,447.5 758.9,456.8 784.9,463.7 811.0,484.4 837.1,494.1 863.2,489.2 889.2,508.8 915.3,505.9 941.4,510.5 967.5,515.1 993.5,507.8 1019.6,495.6" stroke="rgba(0,0,0,0.13)"/>
<polyline points="732.8,439.4 758.9,456.6 784.9,477.3 811.0,494.8 837.1,494.9 863.2,489.7 889.2,503.5 915.3,495.7 941.4,506.0 967.5,491.1 993.5,504.0 1019.6,501.5" stroke="rgba(0,0,0,0.13)"/>
<polyline points="732.8,443.0 758.9,482.3 784.9,485.5 811.0,508.6 837.1,496.7 863.2,505.9 889.2,514.0 915.3,510.5 941.4,535.1 967.5,505.3 993.5,521.2 1019.6,511.6" stroke="rgba(0,0,0,0.13)"/>
<polyline points="732.8,446.4 758.9,433.7 784.9,437.5 811.0,453.1 837.1,453.4 863.2,441.8 889.2,461.1 915.3,455.6 941.4,472.0 967.5,470.4 993.5,478.6 1019.6,465.1" stroke="rgba(0,0,0,0.13)"/>
<polyline points="732.8,443.8 758.9,451.5 784.9,459.7 811.0,471.0 837.1,471.3 863.2,465.9 889.2,466.9 915.3,489.0 941.4,495.3 967.5,472.9 993.5,480.2 1019.6,479.0" stroke="rgba(0,0,0,0.13)"/>
<polyline points="732.8,421.2 758.9,452.5 784.9,464.7 811.0,489.7 837.1,481.6 863.2,496.6 889.2,499.9 915.3,496.8 941.4,503.4 967.5,484.8 993.5,498.3 1019.6,501.2" stroke="rgba(0,0,0,0.13)"/>
<polyline points="732.8,443.0 758.9,466.4 784.9,480.4 811.0,492.6 837.1,515.6 863.2,513.6 889.2,513.5 915.3,524.7 941.4,514.3 967.5,518.5 993.5,517.5 1019.6,515.6" stroke="rgba(0,0,0,0.13)"/>
<polyline points="732.8,420.1 758.9,479.3 784.9,489.2 811.0,500.4 837.1,518.8 863.2,519.6 889.2,514.0 915.3,538.6 941.4,529.9 967.5,517.5 993.5,515.0 1019.6,525.7" stroke="rgba(0,0,0,0.13)"/>
<polyline points="732.8,435.0 758.9,456.0 784.9,465.0 811.0,478.7 837.1,472.6 863.2,478.7 889.2,476.2 915.3,471.7 941.4,481.7 967.5,479.8 993.5,477.9 1019.6,466.8" stroke="rgba(0,0,0,0.13)"/>
<polyline points="732.8,450.2 758.9,486.2 784.9,503.3 811.0,526.9 837.1,531.6 863.2,540.4 889.2,550.0 915.3,551.5 941.4,553.2 967.5,547.1 993.5,550.9 1019.6,538.3" stroke="rgba(0,0,0,0.13)"/>
<polyline points="732.8,454.7 758.9,480.4 784.9,497.5 811.0,520.7 837.1,513.7 863.2,536.6 889.2,530.6 915.3,538.1 941.4,554.0 967.5,537.6 993.5,531.1 1019.6,526.7" stroke="rgba(0,0,0,0.13)"/>
<polyline points="732.8,415.0 758.9,451.4 784.9,480.6 811.0,486.7 837.1,499.2 863.2,506.7 889.2,510.7 915.3,506.9 941.4,496.8 967.5,508.2 993.5,504.2 1019.6,503.3" stroke="rgba(0,0,0,0.13)"/>
<polyline points="732.8,461.7 758.9,483.2 784.9,500.8 811.0,512.0 837.1,529.7 863.2,526.1 889.2,541.4 915.3,546.0 941.4,534.1 967.5,525.6 993.5,522.7 1019.6,527.8" stroke="rgba(0,0,0,0.13)"/>
<polyline points="732.8,434.9 758.9,470.2 784.9,471.2 811.0,492.4 837.1,502.0 863.2,493.3 889.2,491.4 915.3,502.7 941.4,506.1 967.5,498.8 993.5,494.3 1019.6,505.4" stroke="rgba(0,0,0,0.13)"/>
<polyline points="732.8,431.6 758.9,459.5 784.9,482.9 811.0,521.1 837.1,500.6 863.2,519.9 889.2,513.9 915.3,529.6 941.4,515.1 967.5,532.1 993.5,514.4 1019.6,508.7" stroke="rgba(0,0,0,0.13)"/>
<polyline points="732.8,435.6 758.9,471.9 784.9,493.8 811.0,499.8 837.1,504.3 863.2,520.8 889.2,499.7 915.3,524.2 941.4,517.9 967.5,518.5 993.5,518.3 1019.6,519.7" stroke="rgba(0,0,0,0.13)"/>
<polyline points="732.8,443.3 758.9,438.5 784.9,453.0 811.0,462.3 837.1,446.5 863.2,462.4 889.2,456.5 915.3,458.5 941.4,454.8 967.5,463.8 993.5,468.3 1019.6,483.1" stroke="rgba(0,0,0,0.13)"/>
<polyline points="732.8,414.9 758.9,461.0 784.9,476.2 811.0,476.5 837.1,485.1 863.2,488.3 889.2,486.4 915.3,484.9 941.4,496.4 967.5,488.6 993.5,498.4 1019.6,512.3" stroke="rgba(0,0,0,0.13)"/>
<polyline points="732.8,440.7 758.9,475.1 784.9,505.7 811.0,523.4 837.1,517.5 863.2,530.7 889.2,517.3 915.3,540.5 941.4,539.4 967.5,518.4 993.5,549.8 1019.6,549.5" stroke="rgba(0,0,0,0.13)"/>
<polyline points="732.8,443.0 758.9,458.7 784.9,484.6 811.0,493.8 837.1,496.4 863.2,514.3 889.2,522.9 915.3,511.7 941.4,515.7 967.5,512.1 993.5,522.7 1019.6,521.8" stroke="rgba(0,0,0,0.13)"/>
<polyline points="732.8,423.0 758.9,468.4 784.9,503.8 811.0,501.5 837.1,511.1 863.2,516.6 889.2,518.1 915.3,512.5 941.4,534.6 967.5,514.0 993.5,511.8 1019.6,512.4" stroke="rgba(0,0,0,0.13)"/>
<polyline points="732.8,463.2 758.9,481.6 784.9,483.2 811.0,519.0 837.1,522.8 863.2,519.5 889.2,523.8 915.3,535.7 941.4,533.4 967.5,528.2 993.5,537.4 1019.6,541.4" stroke="rgba(0,0,0,0.13)"/>
<polyline points="732.8,444.5 758.9,489.8 784.9,502.6 811.0,501.4 837.1,528.1 863.2,535.4 889.2,537.0 915.3,529.6 941.4,526.8 967.5,528.9 993.5,520.3 1019.6,539.8" stroke="rgba(0,0,0,0.13)"/>
<polyline points="732.8,442.4 758.9,452.8 784.9,480.8 811.0,485.5 837.1,502.6 863.2,494.7 889.2,502.2 915.3,511.1 941.4,511.5 967.5,514.4 993.5,507.8 1019.6,508.1" stroke="rgba(0,0,0,0.13)"/>
<polyline points="732.8,419.8 758.9,467.7 784.9,484.0 811.0,498.8 837.1,513.6 863.2,507.4 889.2,501.9 915.3,507.2 941.4,514.9 967.5,527.5 993.5,527.1 1019.6,526.0" stroke="rgba(0,0,0,0.13)"/>
<polyline points="732.8,443.2 758.9,457.3 784.9,469.4 811.0,490.6 837.1,497.5 863.2,492.3 889.2,495.1 915.3,504.9 941.4,499.8 967.5,514.3 993.5,510.5 1019.6,502.4" stroke="rgba(0,0,0,0.13)"/>
<polyline points="732.8,449.1 758.9,472.0 784.9,506.3 811.0,513.7 837.1,524.5 863.2,538.0 889.2,547.6 915.3,532.1 941.4,542.4 967.5,534.0 993.5,520.5 1019.6,548.4" stroke="rgba(0,0,0,0.13)"/>
<polyline points="732.8,453.1 758.9,476.6 784.9,484.5 811.0,481.1 837.1,490.3 863.2,509.0 889.2,513.3 915.3,518.8 941.4,517.0 967.5,519.6 993.5,515.4 1019.6,526.7" stroke="rgba(0,0,0,0.13)"/>
<polyline points="732.8,439.8 758.9,458.2 784.9,478.7 811.0,469.1 837.1,482.7 863.2,477.0 889.2,488.8 915.3,485.0 941.4,488.8 967.5,494.4 993.5,492.8 1019.6,496.9" stroke="rgba(0,0,0,0.13)"/>
<polyline points="732.8,429.6 758.9,495.9 784.9,522.9 811.0,538.9 837.1,542.2 863.2,549.9 889.2,552.3 915.3,543.4 941.4,544.2 967.5,552.6 993.5,550.4 1019.6,543.5" stroke="rgba(0,0,0,0.13)"/>
<polyline points="732.8,459.7 758.9,471.7 784.9,480.6 811.0,488.3 837.1,496.0 863.2,514.8 889.2,513.7 915.3,498.9 941.4,515.7 967.5,510.0 993.5,518.0 1019.6,516.4" stroke="rgba(0,0,0,0.13)"/>
<polyline points="732.8,479.4 758.9,515.3 784.9,544.9 811.0,553.8 837.1,543.5 863.2,538.8 889.2,540.0 915.3,532.3 941.4,534.0 967.5,532.0 993.5,532.3 1019.6,532.1" stroke="rgba(0,0,0,0.13)"/>
<polyline points="732.8,433.4 758.9,466.0 784.9,479.8 811.0,505.3 837.1,502.1 863.2,497.4 889.2,509.0 915.3,511.5 941.4,504.9 967.5,524.0 993.5,508.6 1019.6,500.6" stroke="rgba(0,0,0,0.13)"/>
<polyline points="732.8,429.9 758.9,476.2 784.9,496.1 811.0,502.2 837.1,524.2 863.2,512.6 889.2,529.9 915.3,527.6 941.4,520.3 967.5,526.9 993.5,526.0 1019.6,519.0" stroke="rgba(0,0,0,0.13)"/>
<polyline points="732.8,449.5 758.9,441.1 784.9,466.8 811.0,451.8 837.1,452.8 863.2,471.0 889.2,464.1 915.3,461.9 941.4,469.2 967.5,471.9 993.5,455.5 1019.6,475.3" stroke="rgba(0,0,0,0.13)"/>
<polyline points="732.8,435.2 758.9,454.7 784.9,469.5 811.0,487.0 837.1,484.5 863.2,496.1 889.2,513.1 915.3,507.8 941.4,504.2 967.5,504.8 993.5,518.5 1019.6,489.3" stroke="rgba(0,0,0,0.13)"/>
<polyline points="732.8,431.3 758.9,488.7 784.9,502.6 811.0,531.8 837.1,541.2 863.2,544.2 889.2,552.8 915.3,547.7 941.4,551.6 967.5,550.4 993.5,549.7 1019.6,553.7" stroke="rgba(0,0,0,0.13)"/>
<polyline points="732.8,450.9 758.9,460.5 784.9,458.1 811.0,466.9 837.1,491.2 863.2,485.8 889.2,496.2 915.3,478.4 941.4,493.4 967.5,504.3 993.5,500.7 1019.6,504.6" stroke="rgba(0,0,0,0.13)"/>
<polyline points="732.8,455.4 758.9,476.3 784.9,510.6 811.0,516.4 837.1,539.6 863.2,534.6 889.2,531.1 915.3,540.2 941.4,532.3 967.5,538.1 993.5,527.0 1019.6,537.6" stroke="rgba(0,0,0,0.13)"/>
<polyline points="732.8,425.9 758.9,463.0 784.9,489.4 811.0,518.9 837.1,522.7 863.2,534.7 889.2,534.0 915.3,527.3 941.4,545.1 967.5,536.9 993.5,517.0 1019.6,534.9" stroke="rgba(0,0,0,0.13)"/>
<polyline points="732.8,438.1 758.9,447.0 784.9,489.1 811.0,493.7 837.1,504.4 863.2,490.9 889.2,529.3 915.3,512.0 941.4,491.0 967.5,501.7 993.5,508.8 1019.6,513.4" stroke="rgba(0,0,0,0.13)"/>
<polyline points="732.8,421.2 758.9,476.1 784.9,494.8 811.0,520.7 837.1,525.6 863.2,540.1 889.2,536.9 915.3,536.5 941.4,550.2 967.5,531.6 993.5,537.4 1019.6,539.6" stroke="rgba(0,0,0,0.13)"/>
<polyline points="732.8,451.3 758.9,475.4 784.9,505.0 811.0,521.7 837.1,527.7 863.2,523.8 889.2,536.4 915.3,535.9 941.4,539.3 967.5,546.6 993.5,531.5 1019.6,543.2" stroke="rgba(0,0,0,0.13)"/>
<polyline points="732.8,441.5 758.9,440.0 784.9,464.6 811.0,480.1 837.1,472.2 863.2,477.6 889.2,479.6 915.3,485.9 941.4,482.5 967.5,481.3 993.5,478.9 1019.6,476.1" stroke="rgba(0,0,0,0.13)"/>
<polyline points="732.8,441.0 758.9,444.2 784.9,465.1 811.0,467.4 837.1,496.3 863.2,499.8 889.2,483.0 915.3,491.4 941.4,505.5 967.5,487.3 993.5,497.2 1019.6,486.4" stroke="rgba(0,0,0,0.13)"/>
<polyline points="732.8,425.9 758.9,462.9 784.9,477.2 811.0,467.0 837.1,490.6 863.2,495.8 889.2,493.8 915.3,492.2 941.4,501.2 967.5,484.2 993.5,503.7 1019.6,516.6" stroke="rgba(0,0,0,0.13)"/>
<polyline points="732.8,460.2 758.9,470.4 784.9,499.9 811.0,512.6 837.1,529.2 863.2,527.4 889.2,533.9 915.3,534.8 941.4,516.3 967.5,534.4 993.5,543.8 1019.6,536.1" stroke="rgba(0,0,0,0.13)"/>
<polyline points="732.8,429.2 758.9,459.8 784.9,476.9 811.0,475.4 837.1,480.6 863.2,494.8 889.2,487.7 915.3,484.5 941.4,490.3 967.5,492.6 993.5,488.4 1019.6,491.0" stroke="rgba(0,0,0,0.13)"/>
<polyline points="732.8,425.1 758.9,470.8 784.9,475.5 811.0,496.1 837.1,490.9 863.2,496.9 889.2,495.2 915.3,501.9 941.4,497.9 967.5,497.2 993.5,484.3 1019.6,496.1" stroke="rgba(0,0,0,0.13)"/>
<polyline points="732.8,405.6 758.9,468.3 784.9,501.8 811.0,511.1 837.1,506.1 863.2,513.3 889.2,518.1 915.3,514.2 941.4,516.3 967.5,517.3 993.5,523.6 1019.6,524.6" stroke="rgba(0,0,0,0.13)"/>
<polyline points="732.8,446.3 758.9,457.1 784.9,479.6 811.0,483.2 837.1,492.2 863.2,484.8 889.2,482.8 915.3,491.2 941.4,492.1 967.5,488.2 993.5,479.1 1019.6,493.2" stroke="rgba(0,0,0,0.13)"/>
<polyline points="732.8,480.2 758.9,484.2 784.9,494.7 811.0,509.9 837.1,526.1 863.2,536.1 889.2,537.1 915.3,550.3 941.4,531.1 967.5,536.3 993.5,541.9 1019.6,528.1" stroke="rgba(0,0,0,0.13)"/>
<polyline points="732.8,428.7 758.9,467.3 784.9,491.1 811.0,482.1 837.1,498.9 863.2,508.5 889.2,497.4 915.3,513.5 941.4,509.8 967.5,521.1 993.5,531.9 1019.6,530.3" stroke="rgba(0,0,0,0.13)"/>
<polyline points="732.8,398.3 758.9,472.5 784.9,476.6 811.0,488.6 837.1,475.9 863.2,480.0 889.2,492.9 915.3,493.3 941.4,493.2 967.5,497.4 993.5,500.0 1019.6,501.3" stroke="rgba(0,0,0,0.13)"/>
<polyline points="732.8,431.9 758.9,468.1 784.9,479.6 811.0,522.8 837.1,514.5 863.2,511.1 889.2,521.8 915.3,525.7 941.4,519.1 967.5,525.6 993.5,527.6 1019.6,523.6" stroke="rgba(0,0,0,0.13)"/>
<polyline points="732.8,422.9 758.9,467.8 784.9,486.6 811.0,472.3 837.1,503.7 863.2,508.8 889.2,511.0 915.3,516.9 941.4,524.6 967.5,512.4 993.5,503.9 1019.6,528.1" stroke="rgba(0,0,0,0.13)"/>
<polyline points="732.8,451.5 758.9,474.4 784.9,497.2 811.0,519.5 837.1,521.5 863.2,528.2 889.2,523.4 915.3,547.3 941.4,527.1 967.5,520.8 993.5,529.6 1019.6,529.3" stroke="rgba(0,0,0,0.13)"/>
<polyline points="732.8,441.8 758.9,484.6 784.9,501.6 811.0,523.5 837.1,511.9 863.2,518.3 889.2,514.6 915.3,522.3 941.4,520.3 967.5,535.4 993.5,539.6 1019.6,530.6" stroke="rgba(0,0,0,0.13)"/>
<polyline points="732.8,441.6 758.9,473.9 784.9,489.1 811.0,500.3 837.1,508.7 863.2,512.4 889.2,521.2 915.3,519.9 941.4,531.0 967.5,528.8 993.5,523.1 1019.6,518.4" stroke="rgba(0,0,0,0.13)"/>
<polyline points="732.8,421.9 758.9,485.4 784.9,511.7 811.0,522.1 837.1,533.3 863.2,547.9 889.2,537.3 915.3,525.2 941.4,545.0 967.5,547.1 993.5,534.5 1019.6,543.6" stroke="rgba(0,0,0,0.13)"/>
<polyline points="732.8,460.5 758.9,469.6 784.9,480.5 811.0,493.7 837.1,510.7 863.2,512.8 889.2,495.5 915.3,510.0 941.4,511.8 967.5,501.8 993.5,522.2 1019.6,509.4" stroke="rgba(0,0,0,0.13)"/>
<polyline points="732.8,457.0 758.9,489.7 784.9,519.9 811.0,531.1 837.1,538.7 863.2,544.8 889.2,549.3 915.3,546.2 941.4,550.3 967.5,551.9 993.5,543.4 1019.6,541.5" stroke="rgba(0,0,0,0.13)"/>
<polyline points="732.8,453.1 758.9,484.6 784.9,519.2 811.0,516.3 837.1,537.3 863.2,541.9 889.2,540.5 915.3,556.5 941.4,541.4 967.5,541.2 993.5,553.9 1019.6,550.8" stroke="rgba(0,0,0,0.13)"/>
<polyline points="732.8,443.6 758.9,466.1 784.9,472.2 811.0,490.3 837.1,486.8 863.2,488.8 889.2,499.5 915.3,501.0 941.4,507.6 967.5,509.5 993.5,492.4 1019.6,510.1" stroke="rgba(0,0,0,0.13)"/>
<polyline points="732.8,455.2 758.9,472.2 784.9,487.1 811.0,477.6 837.1,497.6 863.2,494.9 889.2,493.2 915.3,502.3 941.4,501.3 967.5,514.3 993.5,516.5 1019.6,501.5" stroke="rgba(0,0,0,0.13)"/>
<polyline points="732.8,418.4 758.9,448.2 784.9,453.7 811.0,457.7 837.1,457.7 863.2,481.3 889.2,480.6 915.3,474.1 941.4,487.1 967.5,482.6 993.5,488.3 1019.6,501.2" stroke="rgba(0,0,0,0.13)"/>
<polyline points="732.8,448.6 758.9,485.8 784.9,495.7 811.0,504.7 837.1,509.7 863.2,515.1 889.2,516.2 915.3,528.9 941.4,526.4 967.5,527.6 993.5,525.3 1019.6,518.9" stroke="rgba(0,0,0,0.13)"/>
<polyline points="732.8,419.6 758.9,443.2 784.9,468.6 811.0,471.4 837.1,470.8 863.2,486.8 889.2,466.7 915.3,495.6 941.4,492.5 967.5,478.8 993.5,490.5 1019.6,480.8" stroke="rgba(0,0,0,0.13)"/>
<polyline points="732.8,449.1 758.9,474.8 784.9,492.0 811.0,525.1 837.1,528.9 863.2,539.2 889.2,537.0 915.3,523.6 941.4,531.1 967.5,524.7 993.5,520.5 1019.6,523.2" stroke="rgba(0,0,0,0.13)"/>
<polyline points="732.8,445.5 758.9,456.6 784.9,464.8 811.0,471.4 837.1,484.2 863.2,493.5 889.2,495.3 915.3,485.0 941.4,496.6 967.5,485.1 993.5,505.5 1019.6,494.9" stroke="rgba(0,0,0,0.13)"/>
<polyline points="732.8,451.9 758.9,462.1 784.9,478.7 811.0,489.9 837.1,503.5 863.2,509.3 889.2,504.2 915.3,499.2 941.4,502.1 967.5,502.4 993.5,501.9 1019.6,513.9" stroke="rgba(0,0,0,0.13)"/>
<polyline points="732.8,451.9 758.9,458.0 784.9,457.2 811.0,469.1 837.1,488.8 863.2,466.5 889.2,495.3 915.3,474.2 941.4,481.7 967.5,495.5 993.5,479.9 1019.6,480.3" stroke="rgba(0,0,0,0.13)"/>
<polyline points="732.8,432.5 758.9,452.4 784.9,467.6 811.0,467.7 837.1,466.6 863.2,480.8 889.2,468.6 915.3,495.3 941.4,484.9 967.5,495.9 993.5,498.0 1019.6,483.8" stroke="rgba(0,0,0,0.13)"/>
<polyline points="732.8,457.3 758.9,473.9 784.9,500.8 811.0,503.6 837.1,514.5 863.2,524.8 889.2,516.3 915.3,534.9 941.4,520.2 967.5,522.3 993.5,521.3 1019.6,525.1" stroke="rgba(0,0,0,0.13)"/>
<polyline points="732.8,457.7 758.9,454.9 784.9,474.9 811.0,479.4 837.1,482.9 863.2,495.4 889.2,484.9 915.3,505.0 941.4,486.8 967.5,496.6 993.5,484.9 1019.6,489.9" stroke="rgba(0,0,0,0.13)"/>
<polyline points="732.8,436.2 758.9,468.6 784.9,474.6 811.0,485.1 837.1,490.2 863.2,490.6 889.2,498.3 915.3,493.2 941.4,497.3 967.5,499.2 993.5,493.4 1019.6,493.2" stroke="rgba(0,0,0,0.13)"/>
<polyline points="732.8,399.3 758.9,484.9 784.9,510.0 811.0,521.6 837.1,524.9 863.2,555.1 889.2,541.7 915.3,549.0 941.4,544.9 967.5,543.1 993.5,544.7 1019.6,543.7" stroke="rgba(0,0,0,0.13)"/>
<polyline points="732.8,448.3 758.9,445.9 784.9,457.6 811.0,454.0 837.1,471.7 863.2,479.7 889.2,473.2 915.3,484.8 941.4,487.2 967.5,478.7 993.5,487.7 1019.6,478.0" stroke="rgba(0,0,0,0.13)"/>
<polyline points="732.8,449.8 758.9,469.2 784.9,495.3 811.0,510.2 837.1,526.5 863.2,522.7 889.2,528.3 915.3,533.4 941.4,551.7 967.5,530.2 993.5,538.5 1019.6,542.5" stroke="rgba(0,0,0,0.13)"/>
<polyline points="732.8,442.7 758.9,469.3 784.9,501.2 811.0,509.6 837.1,513.1 863.2,511.0 889.2,515.6 915.3,517.1 941.4,518.2 967.5,524.0 993.5,520.9 1019.6,531.4" stroke="rgba(0,0,0,0.13)"/>
<polyline points="732.8,451.3 758.9,449.8 784.9,474.1 811.0,488.2 837.1,495.5 863.2,491.6 889.2,509.1 915.3,495.9 941.4,500.4 967.5,486.7 993.5,491.6 1019.6,505.3" stroke="rgba(0,0,0,0.13)"/>
<polyline points="732.8,412.6 758.9,420.0 784.9,440.6 811.0,433.3 837.1,446.8 863.2,452.2 889.2,472.7 915.3,457.3 941.4,466.0 967.5,469.4 993.5,454.4 1019.6,475.6" stroke="rgba(0,0,0,0.13)"/>
<polyline points="732.8,442.3 758.9,466.8 784.9,504.5 811.0,494.0 837.1,521.6 863.2,522.9 889.2,513.6 915.3,518.1 941.4,522.6 967.5,529.0 993.5,522.7 1019.6,521.1" stroke="rgba(0,0,0,0.13)"/>
<polyline points="732.8,456.4 758.9,457.8 784.9,471.7 811.0,475.2 837.1,468.5 863.2,482.7 889.2,491.0 915.3,481.2 941.4,493.7 967.5,486.0 993.5,484.6 1019.6,488.8" stroke="rgba(0,0,0,0.13)"/>
<polyline points="732.8,418.7 758.9,468.5 784.9,471.1 811.0,495.7 837.1,510.2 863.2,503.7 889.2,514.1 915.3,514.3 941.4,505.0 967.5,507.9 993.5,523.6 1019.6,519.0" stroke="rgba(0,0,0,0.13)"/>
<polyline points="732.8,470.9 758.9,479.8 784.9,490.5 811.0,526.2 837.1,522.7 863.2,535.6 889.2,535.8 915.3,526.0 941.4,536.4 967.5,532.5 993.5,522.0 1019.6,540.6" stroke="rgba(0,0,0,0.13)"/>
<polyline points="732.8,457.1 758.9,454.3 784.9,453.5 811.0,460.3 837.1,471.5 863.2,467.9 889.2,467.7 915.3,474.7 941.4,478.1 967.5,476.2 993.5,474.7 1019.6,483.5" stroke="rgba(0,0,0,0.13)"/>
<polyline points="732.8,437.4 758.9,470.6 784.9,484.5 811.0,487.1 837.1,498.0 863.2,521.0 889.2,516.5 915.3,515.6 941.4,523.5 967.5,533.0 993.5,507.2 1019.6,517.7" stroke="rgba(0,0,0,0.13)"/>
<polyline points="732.8,455.2 758.9,471.0 784.9,476.5 811.0,491.9 837.1,505.7 863.2,515.4 889.2,522.5 915.3,517.1 941.4,522.1 967.5,524.2 993.5,525.4 1019.6,515.9" stroke="rgba(0,0,0,0.13)"/>
<polyline points="732.8,474.2 758.9,491.6 784.9,487.8 811.0,524.8 837.1,524.7 863.2,536.4 889.2,534.6 915.3,528.6 941.4,544.0 967.5,546.1 993.5,551.9 1019.6,521.3" stroke="rgba(0,0,0,0.13)"/>
<polyline points="732.8,428.6 758.9,466.7 784.9,486.6 811.0,510.2 837.1,499.2 863.2,507.6 889.2,511.3 915.3,501.1 941.4,510.5 967.5,518.9 993.5,500.9 1019.6,505.2" stroke="rgba(0,0,0,0.13)"/>
<polyline points="732.8,468.4 758.9,446.5 784.9,455.9 811.0,469.6 837.1,468.3 863.2,463.5 889.2,478.8 915.3,483.0 941.4,481.7 967.5,483.0 993.5,475.8 1019.6,482.4" stroke="rgba(0,0,0,0.13)"/>
<polyline points="732.8,400.0 758.9,467.1 784.9,466.4 811.0,493.7 837.1,483.6 863.2,499.2 889.2,481.8 915.3,487.2 941.4,485.2 967.5,503.0 993.5,487.7 1019.6,488.4" stroke="rgba(0,0,0,0.13)"/>
<polyline points="732.8,396.2 758.9,484.7 784.9,492.6 811.0,510.1 837.1,511.7 863.2,521.3 889.2,520.4 915.3,523.4 941.4,514.2 967.5,531.6 993.5,523.6 1019.6,535.1" stroke="rgba(0,0,0,0.13)"/>
<polyline points="732.8,448.6 758.9,472.1 784.9,476.6 811.0,486.0 837.1,497.4 863.2,494.0 889.2,498.9 915.3,495.8 941.4,511.1 967.5,495.9 993.5,492.1 1019.6,506.9" stroke="rgba(0,0,0,0.13)"/>
<polyline points="732.8,461.6 758.9,450.0 784.9,453.6 811.0,454.8 837.1,457.1 863.2,457.9 889.2,464.5 915.3,467.0 941.4,472.8 967.5,481.0 993.5,471.9 1019.6,476.0" stroke="rgba(0,0,0,0.13)"/>
<polyline points="732.8,418.1 758.9,478.6 784.9,472.3 811.0,479.4 837.1,495.8 863.2,501.1 889.2,492.6 915.3,510.0 941.4,505.9 967.5,507.1 993.5,504.8 1019.6,520.7" stroke="rgba(0,0,0,0.13)"/>
<polyline points="732.8,420.4 758.9,461.3 784.9,452.6 811.0,466.2 837.1,466.3 863.2,481.3 889.2,473.7 915.3,481.7 941.4,496.9 967.5,466.2 993.5,489.5 1019.6,482.1" stroke="rgba(0,0,0,0.13)"/>
<polyline points="732.8,445.2 758.9,464.1 784.9,480.4 811.0,492.9 837.1,519.4 863.2,507.0 889.2,527.0 915.3,501.8 941.4,517.3 967.5,512.8 993.5,521.8 1019.6,521.7" stroke="rgba(0,0,0,0.13)"/>
<polyline points="732.8,444.4 758.9,467.8 784.9,498.7 811.0,507.2 837.1,516.2 863.2,517.6 889.2,522.3 915.3,514.6 941.4,514.6 967.5,530.1 993.5,521.0 1019.6,526.6" stroke="rgba(0,0,0,0.13)"/>
<polyline points="732.8,430.1 758.9,453.9 784.9,466.4 811.0,487.0 837.1,468.1 863.2,486.9 889.2,484.9 915.3,484.9 941.4,501.9 967.5,503.2 993.5,485.1 1019.6,484.9" stroke="rgba(0,0,0,0.13)"/>
<polyline points="732.8,421.4 758.9,479.5 784.9,488.1 811.0,508.3 837.1,521.9 863.2,521.4 889.2,532.8 915.3,522.2 941.4,537.5 967.5,523.9 993.5,515.9 1019.6,547.2" stroke="rgba(0,0,0,0.13)"/>
<polyline points="732.8,439.7 758.9,433.8 784.9,447.4 811.0,454.5 837.1,463.4 863.2,470.6 889.2,472.6 915.3,480.2 941.4,483.1 967.5,491.5 993.5,471.7 1019.6,485.9" stroke="rgba(0,0,0,0.13)"/>
<polyline points="732.8,430.2 758.9,450.7 784.9,450.5 811.0,450.1 837.1,456.3 863.2,461.9 889.2,478.7 915.3,466.6 941.4,466.4 967.5,468.1 993.5,467.0 1019.6,476.1" stroke="rgba(0,0,0,0.13)"/>
<polyline points="732.8,455.4 758.9,481.6 784.9,502.0 811.0,511.4 837.1,521.7 863.2,507.4 889.2,531.4 915.3,515.1 941.4,528.6 967.5,521.6 993.5,506.2 1019.6,524.2" stroke="rgba(0,0,0,0.13)"/>
<polyline points="732.8,444.5 758.9,471.3 784.9,485.9 811.0,498.2 837.1,517.4 863.2,522.9 889.2,515.5 915.3,526.8 941.4,527.8 967.5,525.7 993.5,532.2 1019.6,534.3" stroke="rgba(0,0,0,0.13)"/>
<polyline points="732.8,468.9 758.9,468.8 784.9,507.4 811.0,505.9 837.1,530.6 863.2,532.7 889.2,525.4 915.3,535.2 941.4,536.8 967.5,540.6 993.5,541.1 1019.6,545.1" stroke="rgba(0,0,0,0.13)"/>
<polyline points="732.8,440.9 758.9,484.3 784.9,488.4 811.0,499.2 837.1,510.5 863.2,538.8 889.2,537.1 915.3,538.4 941.4,551.1 967.5,530.5 993.5,538.4 1019.6,543.1" stroke="rgba(0,0,0,0.13)"/>
<polyline points="732.8,443.5 758.9,440.2 784.9,451.2 811.0,446.1 837.1,464.2 863.2,455.4 889.2,464.0 915.3,466.5 941.4,467.2 967.5,465.6 993.5,477.5 1019.6,460.9" stroke="rgba(0,0,0,0.13)"/>
<polyline points="732.8,438.3 758.9,462.0 784.9,483.8 811.0,495.4 837.1,510.0 863.2,508.1 889.2,510.9 915.3,524.8 941.4,509.6 967.5,512.1 993.5,504.1 1019.6,498.2" stroke="rgba(0,0,0,0.13)"/>
<polyline points="732.8,415.6 758.9,465.0 784.9,488.6 811.0,497.1 837.1,493.3 863.2,498.0 889.2,503.2 915.3,525.0 941.4,529.5 967.5,500.0 993.5,507.5 1019.6,502.7" stroke="rgba(0,0,0,0.13)"/>
<polyline points="732.8,429.6 758.9,460.3 784.9,461.7 811.0,475.0 837.1,495.1 863.2,498.7 889.2,489.1 915.3,492.2 941.4,498.0 967.5,498.4 993.5,510.6 1019.6,508.6" stroke="rgba(0,0,0,0.13)"/>
<polyline points="732.8,429.0 758.9,457.4 784.9,470.7 811.0,479.0 837.1,479.6 863.2,497.3 889.2,509.6 915.3,519.1 941.4,525.6 967.5,510.3 993.5,506.4 1019.6,526.7" stroke="rgba(0,0,0,0.13)"/>
<polyline points="732.8,442.5 758.9,463.8 784.9,479.8 811.0,499.3 837.1,493.2 863.2,504.8 889.2,521.0 915.3,504.1 941.4,500.1 967.5,515.4 993.5,502.0 1019.6,526.1" stroke="rgba(0,0,0,0.13)"/>
<polyline points="732.8,414.1 758.9,465.8 784.9,477.2 811.0,499.2 837.1,498.1 863.2,500.3 889.2,502.6 915.3,507.7 941.4,504.9 967.5,507.5 993.5,505.9 1019.6,521.3" stroke="rgba(0,0,0,0.13)"/>
<polyline points="732.8,444.6 758.9,459.6 784.9,471.0 811.0,491.1 837.1,493.0 863.2,492.8 889.2,501.2 915.3,500.5 941.4,501.0 967.5,502.3 993.5,509.0 1019.6,504.9" stroke="rgba(0,0,0,0.13)"/>
<polyline points="732.8,423.7 758.9,467.8 784.9,471.1 811.0,478.5 837.1,486.1 863.2,504.9 889.2,506.9 915.3,511.5 941.4,501.0 967.5,505.5 993.5,521.0 1019.6,504.0" stroke="rgba(0,0,0,0.13)"/>
<polyline points="732.8,439.3 758.9,450.4 784.9,469.3 811.0,470.9 837.1,470.4 863.2,482.0 889.2,483.0 915.3,484.4 941.4,474.4 967.5,485.9 993.5,486.2 1019.6,493.0" stroke="rgba(0,0,0,0.13)"/>
<polyline points="732.8,438.4 758.9,441.7 784.9,450.6 811.0,472.2 837.1,474.0 863.2,467.2 889.2,482.9 915.3,469.9 941.4,483.8 967.5,469.0 993.5,490.7 1019.6,498.2" stroke="rgba(0,0,0,0.13)"/>
<polyline points="732.8,451.1 758.9,488.0 784.9,509.6 811.0,527.4 837.1,529.0 863.2,532.6 889.2,539.8 915.3,539.7 941.4,526.3 967.5,528.3 993.5,527.3 1019.6,524.7" stroke="rgba(0,0,0,0.13)"/>
<polyline points="732.8,408.2 758.9,475.2 784.9,474.8 811.0,513.8 837.1,517.1 863.2,518.1 889.2,517.2 915.3,518.3 941.4,515.6 967.5,506.2 993.5,517.4 1019.6,514.7" stroke="rgba(0,0,0,0.13)"/>
<polyline points="732.8,441.4 758.9,490.7 784.9,501.1 811.0,524.9 837.1,549.2 863.2,536.6 889.2,553.2 915.3,551.8 941.4,549.1 967.5,552.2 993.5,554.4 1019.6,552.9" stroke="rgba(0,0,0,0.13)"/>
<polyline points="732.8,445.3 758.9,436.9 784.9,461.6 811.0,458.5 837.1,458.7 863.2,458.7 889.2,469.8 915.3,474.5 941.4,480.5 967.5,476.5 993.5,481.9 1019.6,481.8" stroke="rgba(0,0,0,0.13)"/>
<polyline points="732.8,454.2 758.9,484.0 784.9,500.5 811.0,514.7 837.1,522.0 863.2,526.2 889.2,536.2 915.3,525.0 941.4,526.4 967.5,518.1 993.5,547.0 1019.6,540.9" stroke="rgba(0,0,0,0.13)"/>
<polyline points="732.8,437.3 758.9,487.0 784.9,506.8 811.0,512.3 837.1,528.3 863.2,544.0 889.2,529.1 915.3,522.2 941.4,532.2 967.5,542.7 993.5,532.9 1019.6,544.3" stroke="rgba(0,0,0,0.13)"/>
<polyline points="732.8,415.1 758.9,471.4 784.9,491.0 811.0,511.5 837.1,508.2 863.2,521.9 889.2,517.7 915.3,528.8 941.4,526.2 967.5,527.4 993.5,525.6 1019.6,529.4" stroke="rgba(0,0,0,0.13)"/>
<polyline points="732.8,444.5 758.9,459.0 784.9,452.5 811.0,467.1 837.1,467.0 863.2,468.1 889.2,480.9 915.3,476.2 941.4,477.0 967.5,483.4 993.5,481.6 1019.6,484.9" stroke="rgba(0,0,0,0.13)"/>
<polyline points="732.8,408.8 758.9,504.5 784.9,523.6 811.0,541.7 837.1,531.5 863.2,538.4 889.2,526.5 915.3,537.2 941.4,524.7 967.5,526.0 993.5,522.4 1019.6,525.3" stroke="rgba(0,0,0,0.13)"/>
<polyline points="732.8,435.3 758.9,471.5 784.9,490.1 811.0,503.2 837.1,504.7 863.2,503.5 889.2,509.0 915.3,503.3 941.4,520.2 967.5,506.8 993.5,512.4 1019.6,501.0" stroke="rgba(0,0,0,0.13)"/>
<polyline points="732.8,434.6 758.9,495.9 784.9,505.3 811.0,535.0 837.1,546.2 863.2,543.2 889.2,552.6 915.3,549.4 941.4,555.8 967.5,539.9 993.5,549.3 1019.6,551.1" stroke="rgba(0,0,0,0.13)"/>
<polyline points="732.8,461.0 758.9,485.4 784.9,492.2 811.0,523.9 837.1,511.8 863.2,523.1 889.2,535.9 915.3,540.3 941.4,539.9 967.5,548.6 993.5,539.9 1019.6,544.4" stroke="rgba(0,0,0,0.13)"/>
<polyline points="732.8,428.3 758.9,492.7 784.9,515.2 811.0,537.7 837.1,551.2 863.2,545.0 889.2,545.5 915.3,548.4 941.4,542.1 967.5,547.8 993.5,550.0 1019.6,550.8" stroke="rgba(0,0,0,0.13)"/>
<polyline points="732.8,471.5 758.9,476.3 784.9,496.8 811.0,500.4 837.1,513.9 863.2,520.2 889.2,522.9 915.3,520.1 941.4,531.4 967.5,534.7 993.5,534.1 1019.6,539.9" stroke="rgba(0,0,0,0.13)"/>
<polyline points="732.8,469.2 758.9,449.5 784.9,496.1 811.0,498.9 837.1,509.9 863.2,515.5 889.2,525.5 915.3,530.2 941.4,528.1 967.5,533.2 993.5,541.2 1019.6,540.6" stroke="rgba(0,0,0,0.13)"/>
<polyline points="732.8,448.6 758.9,467.9 784.9,494.1 811.0,516.1 837.1,507.5 863.2,511.0 889.2,518.5 915.3,511.0 941.4,502.0 967.5,518.9 993.5,507.5 1019.6,494.6" stroke="rgba(0,0,0,0.13)"/>
<polyline points="732.8,450.5 758.9,463.1 784.9,481.6 811.0,487.5 837.1,485.2 863.2,499.7 889.2,493.0 915.3,517.5 941.4,514.6 967.5,499.6 993.5,510.8 1019.6,503.6" stroke="rgba(0,0,0,0.13)"/>
<polyline points="732.8,414.8 758.9,459.6 784.9,467.8 811.0,462.0 837.1,480.4 863.2,474.4 889.2,482.4 915.3,484.5 941.4,493.0 967.5,483.4 993.5,477.2 1019.6,474.9" stroke="rgba(0,0,0,0.13)"/>
<polyline points="732.8,438.7 758.9,458.4 784.9,492.8 811.0,489.1 837.1,512.1 863.2,499.3 889.2,510.7 915.3,509.7 941.4,514.9 967.5,509.1 993.5,514.5 1019.6,492.5" stroke="rgba(0,0,0,0.13)"/>
<polyline points="732.8,424.9 758.9,480.9 784.9,508.4 811.0,527.5 837.1,539.4 863.2,544.0 889.2,532.6 915.3,551.6 941.4,539.5 967.5,550.7 993.5,553.2 1019.6,552.1" stroke="rgba(0,0,0,0.13)"/>
<polyline points="732.8,433.5 758.9,471.8 784.9,470.9 811.0,471.3 837.1,483.6 863.2,500.6 889.2,498.7 915.3,496.6 941.4,492.9 967.5,495.6 993.5,507.5 1019.6,499.8" stroke="rgba(0,0,0,0.13)"/>
<polyline points="732.8,462.9 758.9,490.0 784.9,519.3 811.0,517.8 837.1,548.9 863.2,541.8 889.2,528.3 915.3,544.6 941.4,543.1 967.5,552.8 993.5,545.3 1019.6,542.4" stroke="rgba(0,0,0,0.13)"/>
<polyline points="732.8,456.3 758.9,480.0 784.9,497.7 811.0,510.1 837.1,513.6 863.2,513.2 889.2,527.7 915.3,539.3 941.4,529.5 967.5,522.3 993.5,536.2 1019.6,527.5" stroke="rgba(0,0,0,0.13)"/>
<polyline points="732.8,435.4 758.9,496.9 784.9,508.3 811.0,541.8 837.1,540.2 863.2,535.9 889.2,545.9 915.3,550.0 941.4,543.6 967.5,553.2 993.5,556.2 1019.6,552.3" stroke="rgba(0,0,0,0.13)"/>
<polyline points="732.8,429.7 758.9,471.5 784.9,470.1 811.0,508.6 837.1,503.3 863.2,514.5 889.2,496.5 915.3,510.6 941.4,507.5 967.5,510.4 993.5,502.8 1019.6,516.7" stroke="rgba(0,0,0,0.13)"/>
<polyline points="732.8,429.7 758.9,451.0 784.9,465.4 811.0,475.8 837.1,500.9 863.2,493.2 889.2,500.4 915.3,490.4 941.4,499.8 967.5,500.7 993.5,497.8 1019.6,505.0" stroke="rgba(0,0,0,0.13)"/>
<polyline points="732.8,476.0 758.9,478.3 784.9,510.3 811.0,536.1 837.1,533.6 863.2,545.4 889.2,548.2 915.3,539.4 941.4,546.6 967.5,552.9 993.5,544.8 1019.6,555.1" stroke="rgba(0,0,0,0.13)"/>
</g>
<polyline points="732.8,439.7 758.9,440.5 784.9,441.5 811.0,454.4 837.1,468.8 863.2,476.6 889.2,483.4 915.3,487.3 941.4,489.8 967.5,490.4 993.5,491.0 1019.6,491.6" fill="none" stroke="#5b8bb7" stroke-width="8.5" stroke-linejoin="round"/>
<polyline points="732.8,439.5 758.9,467.5 784.9,482.5 811.0,493.5 837.1,501.2 863.2,506.0 889.2,509.1 915.3,511.0 941.4,512.4 967.5,513.0 993.5,513.6 1019.6,514.2" fill="none" stroke="#000" stroke-width="9" stroke-linejoin="round"/>
<path d="M737.5,367 H733.5 V583.2 H1019.6" fill="none" stroke="#222" stroke-width="3.4"/>
<line x1="733.5" y1="403.0" x2="737.5" y2="403.0" stroke="#222" stroke-width="2.6"/>
<line x1="733.5" y1="439.0" x2="737.5" y2="439.0" stroke="#222" stroke-width="2.6"/>
<line x1="733.5" y1="475.0" x2="737.5" y2="475.0" stroke="#222" stroke-width="2.6"/>
<line x1="733.5" y1="511.0" x2="737.5" y2="511.0" stroke="#222" stroke-width="2.6"/>
<line x1="733.5" y1="547.0" x2="737.5" y2="547.0" stroke="#222" stroke-width="2.6"/>
<line x1="819.7" y1="583.2" x2="819.7" y2="579" stroke="#222" stroke-width="2.6"/>
<line x1="906.0" y1="583.2" x2="906.0" y2="579" stroke="#222" stroke-width="2.6"/>
<line x1="992.2" y1="583.2" x2="992.2" y2="579" stroke="#222" stroke-width="2.6"/>
<text x="722.6" y="373.2" font-size="17.3" font-weight="bold" text-anchor="end" fill="#000"  style="">1.4</text>
<text x="722.6" y="445.2" font-size="17.3" font-weight="bold" text-anchor="end" fill="#000"  style="">1.0</text>
<text x="722.6" y="517.2" font-size="17.3" font-weight="bold" text-anchor="end" fill="#000"  style="">0.6</text>
<text x="722.6" y="589.2" font-size="17.3" font-weight="bold" text-anchor="end" fill="#000"  style="">0.2</text>
<text x="733.5" y="607.5" font-size="17.3" font-weight="bold" text-anchor="middle" fill="#000"  style="">0</text>
<text x="819.7" y="607.5" font-size="17.3" font-weight="bold" text-anchor="middle" fill="#000"  style="">50</text>
<text x="906.0" y="607.5" font-size="17.3" font-weight="bold" text-anchor="middle" fill="#000"  style="">100</text>
<text x="992.2" y="607.5" font-size="17.3" font-weight="bold" text-anchor="middle" fill="#000"  style="">150</text>
<text x="876.3" y="634.4" font-size="18" font-weight="bold" text-anchor="middle" fill="#000"  textLength="91.8" lengthAdjust="spacingAndGlyphs" style="">Time (min)</text>
<text x="902.4" y="365.6" font-size="16.3" font-weight="bold" text-anchor="start" fill="#000"  textLength="110.3" lengthAdjust="spacingAndGlyphs" style="">Latrunculin B</text>
<rect x="902" y="377.3" width="36.3" height="5.7" fill="#5b8bb7"/>
<rect x="902" y="396" width="36.7" height="5.6" fill="#000"/>
<text x="946.4" y="384.7" font-size="14.6" font-weight="bold" text-anchor="start" fill="#000"  textLength="70.9" lengthAdjust="spacingAndGlyphs" style="">0.5 μg/mL</text>
<text x="946.4" y="403.0" font-size="14.6" font-weight="bold" text-anchor="start" fill="#000"  textLength="70.9" lengthAdjust="spacingAndGlyphs" style="">1.5 μg/mL</text>
<text x="924.3" y="505.0" font-size="14" font-weight="bold" text-anchor="middle" fill="#fff"  style="">b</text>
<text x="593.0" y="21.0" font-size="27.5" font-weight="bold" text-anchor="start" fill="#000"  style="">c</text>
<g clip-path="url(#cTL)"><g filter="url(#tx1)">
<rect x="635" y="17.6" width="109.6" height="109.5" fill="#000"/>
<g filter="url(#b1)">
<ellipse cx="675.2" cy="43.0" rx="14.3" ry="14.6" fill="rgb(4,118,4)"/>
<ellipse cx="667.0" cy="63.3" rx="17.9" ry="13.8" fill="rgb(4,118,4)"/>
<ellipse cx="704.8" cy="56.0" rx="18.8" ry="17.9" fill="rgb(4,118,4)"/>
<ellipse cx="731.0" cy="81.0" rx="16.8" ry="12.3" fill="rgb(4,118,4)"/>
<ellipse cx="682.0" cy="84.5" rx="16.8" ry="14.0" fill="rgb(4,118,4)"/>
<ellipse cx="710.8" cy="91.5" rx="13.7" ry="11.8" fill="rgb(4,118,4)"/>
<ellipse cx="670.2" cy="109.0" rx="16.0" ry="11.8" fill="rgb(4,118,4)"/>
<ellipse cx="695.0" cy="113.5" rx="13.4" ry="12.9" fill="rgb(4,118,4)"/>
<ellipse cx="731.0" cy="104.5" rx="14.6" ry="12.9" fill="rgb(4,118,4)"/>
<ellipse cx="725.9" cy="121.5" rx="14.7" ry="8.4" fill="rgb(4,118,4)"/>
<ellipse cx="647.0" cy="29.5" rx="14.6" ry="14.0" fill="rgb(4,118,4)"/>
<ellipse cx="699.0" cy="58.0" rx="14.6" ry="15.7" fill="rgb(4,118,4)"/>
<ellipse cx="733.8" cy="57.1" rx="13.7" ry="12.8" fill="rgb(4,118,4)"/>
<ellipse cx="645.0" cy="71.3" rx="12.3" ry="12.7" fill="rgb(4,118,4)"/>
<ellipse cx="696.0" cy="25.5" rx="14.6" ry="10.6" fill="rgb(4,118,4)"/>
<ellipse cx="671.5" cy="22.0" rx="12.9" ry="6.7" fill="rgb(4,118,4)"/>
<ellipse cx="695.1" cy="34.3" rx="11.9" ry="10.9" fill="rgb(4,118,4)"/>
<ellipse cx="648.0" cy="114.0" rx="13.4" ry="15.7" fill="rgb(4,118,4)"/>
</g><g filter="url(#b05)">
<circle cx="675.8" cy="38.6" r="7" fill="rgb(20,235,20)"/>
<circle cx="674.0" cy="37.6" r="1.3" fill="rgb(4,118,4)"/>
<circle cx="677.3" cy="40.1" r="1.1" fill="rgb(4,118,4)"/>
<circle cx="667.0" cy="62.4" r="7.5" fill="rgb(20,235,20)"/>
<circle cx="665.2" cy="61.4" r="1.3" fill="rgb(4,118,4)"/>
<circle cx="668.5" cy="63.9" r="1.1" fill="rgb(4,118,4)"/>
<circle cx="712.7" cy="49.2" r="6.5" fill="rgb(20,235,20)"/>
<circle cx="710.9" cy="48.2" r="1.3" fill="rgb(4,118,4)"/>
<circle cx="714.2" cy="50.7" r="1.1" fill="rgb(4,118,4)"/>
<circle cx="732.0" cy="80.9" r="7.5" fill="rgb(23,255,23)"/>
<circle cx="730.2" cy="79.9" r="1.3" fill="rgb(4,118,4)"/>
<circle cx="733.5" cy="82.4" r="1.1" fill="rgb(4,118,4)"/>
<circle cx="677.5" cy="84.4" r="7" fill="rgb(20,235,20)"/>
<circle cx="675.7" cy="83.4" r="1.3" fill="rgb(4,118,4)"/>
<circle cx="679.0" cy="85.9" r="1.1" fill="rgb(4,118,4)"/>
<circle cx="711.8" cy="92.3" r="7" fill="rgb(20,235,20)"/>
<circle cx="710.0" cy="91.3" r="1.3" fill="rgb(4,118,4)"/>
<circle cx="713.3" cy="93.8" r="1.1" fill="rgb(4,118,4)"/>
<circle cx="674.0" cy="107.3" r="6" fill="rgb(20,235,20)"/>
<circle cx="672.2" cy="106.3" r="1.3" fill="rgb(4,118,4)"/>
<circle cx="675.5" cy="108.8" r="1.1" fill="rgb(4,118,4)"/>
<circle cx="695.0" cy="112.5" r="6" fill="rgb(20,235,20)"/>
<circle cx="693.2" cy="111.5" r="1.3" fill="rgb(4,118,4)"/>
<circle cx="696.5" cy="114.0" r="1.1" fill="rgb(4,118,4)"/>
<circle cx="726.8" cy="105.5" r="6" fill="rgb(20,235,20)"/>
<circle cx="725.0" cy="104.5" r="1.3" fill="rgb(4,118,4)"/>
<circle cx="728.3" cy="107.0" r="1.1" fill="rgb(4,118,4)"/>
<circle cx="723.3" cy="121.3" r="6" fill="rgb(20,235,20)"/>
<circle cx="721.5" cy="120.3" r="1.3" fill="rgb(4,118,4)"/>
<circle cx="724.8" cy="122.8" r="1.1" fill="rgb(4,118,4)"/>
<circle cx="642.3" cy="31.6" r="5" fill="rgb(11,164,11)"/>
<circle cx="698.6" cy="54.5" r="6" fill="rgb(10,158,10)"/>
<circle cx="730.3" cy="58.0" r="5.5" fill="rgb(11,164,11)"/>
<circle cx="640.6" cy="72.0" r="5" fill="rgb(10,158,10)"/>
<circle cx="695.0" cy="22.8" r="5.5" fill="rgb(10,158,10)"/>
<circle cx="675.8" cy="20.0" r="5" fill="rgb(10,153,10)"/>
<circle cx="696.9" cy="33.4" r="5.5" fill="rgb(10,158,10)"/>
<circle cx="645.0" cy="112.0" r="5" fill="rgb(9,147,9)"/>
</g>
</g></g>
<g clip-path="url(#cBL)"><g filter="url(#tx1)">
<rect x="635" y="127.1" width="109.6" height="109.9" fill="#000"/>
<g filter="url(#b1)">
<ellipse cx="675.2" cy="152.5" rx="14.3" ry="14.6" fill="rgb(115,2,2)"/>
<ellipse cx="667.0" cy="172.8" rx="17.9" ry="13.8" fill="rgb(115,2,2)"/>
<ellipse cx="704.8" cy="165.5" rx="18.8" ry="17.9" fill="rgb(115,2,2)"/>
<ellipse cx="731.0" cy="190.5" rx="16.8" ry="12.3" fill="rgb(115,2,2)"/>
<ellipse cx="682.0" cy="194.0" rx="16.8" ry="14.0" fill="rgb(115,2,2)"/>
<ellipse cx="710.8" cy="201.0" rx="13.7" ry="11.8" fill="rgb(115,2,2)"/>
<ellipse cx="670.2" cy="218.6" rx="16.0" ry="11.8" fill="rgb(115,2,2)"/>
<ellipse cx="695.0" cy="223.0" rx="13.4" ry="12.9" fill="rgb(115,2,2)"/>
<ellipse cx="731.0" cy="214.0" rx="14.6" ry="12.9" fill="rgb(115,2,2)"/>
<ellipse cx="725.9" cy="231.0" rx="14.7" ry="8.4" fill="rgb(115,2,2)"/>
<ellipse cx="647.0" cy="139.0" rx="14.6" ry="14.0" fill="rgb(115,2,2)"/>
<ellipse cx="699.0" cy="167.5" rx="14.6" ry="15.7" fill="rgb(115,2,2)"/>
<ellipse cx="733.8" cy="166.6" rx="13.7" ry="12.8" fill="rgb(115,2,2)"/>
<ellipse cx="645.0" cy="180.8" rx="12.3" ry="12.7" fill="rgb(115,2,2)"/>
<ellipse cx="696.0" cy="135.0" rx="14.6" ry="10.6" fill="rgb(115,2,2)"/>
<ellipse cx="671.5" cy="131.5" rx="12.9" ry="6.7" fill="rgb(115,2,2)"/>
<ellipse cx="695.1" cy="143.8" rx="11.9" ry="10.9" fill="rgb(115,2,2)"/>
<ellipse cx="648.0" cy="223.5" rx="13.4" ry="15.7" fill="rgb(115,2,2)"/>
</g><g filter="url(#b05)">
<circle cx="675.8" cy="148.1" r="7" fill="rgb(210,8,8)"/>
<circle cx="674.0" cy="147.1" r="1.3" fill="rgb(115,2,2)"/>
<circle cx="677.3" cy="149.6" r="1.1" fill="rgb(115,2,2)"/>
<circle cx="667.0" cy="171.9" r="7.5" fill="rgb(210,8,8)"/>
<circle cx="665.2" cy="170.9" r="1.3" fill="rgb(115,2,2)"/>
<circle cx="668.5" cy="173.4" r="1.1" fill="rgb(115,2,2)"/>
<circle cx="712.7" cy="158.7" r="6.5" fill="rgb(210,8,8)"/>
<circle cx="710.9" cy="157.7" r="1.3" fill="rgb(115,2,2)"/>
<circle cx="714.2" cy="160.2" r="1.1" fill="rgb(115,2,2)"/>
<circle cx="732.0" cy="190.4" r="7.5" fill="rgb(241,9,9)"/>
<circle cx="730.2" cy="189.4" r="1.3" fill="rgb(115,2,2)"/>
<circle cx="733.5" cy="191.9" r="1.1" fill="rgb(115,2,2)"/>
<circle cx="677.5" cy="193.9" r="7" fill="rgb(210,8,8)"/>
<circle cx="675.7" cy="192.9" r="1.3" fill="rgb(115,2,2)"/>
<circle cx="679.0" cy="195.4" r="1.1" fill="rgb(115,2,2)"/>
<circle cx="711.8" cy="201.8" r="7" fill="rgb(210,8,8)"/>
<circle cx="710.0" cy="200.8" r="1.3" fill="rgb(115,2,2)"/>
<circle cx="713.3" cy="203.3" r="1.1" fill="rgb(115,2,2)"/>
<circle cx="674.0" cy="216.8" r="6" fill="rgb(210,8,8)"/>
<circle cx="672.2" cy="215.8" r="1.3" fill="rgb(115,2,2)"/>
<circle cx="675.5" cy="218.3" r="1.1" fill="rgb(115,2,2)"/>
<circle cx="695.0" cy="222.0" r="6" fill="rgb(210,8,8)"/>
<circle cx="693.2" cy="221.0" r="1.3" fill="rgb(115,2,2)"/>
<circle cx="696.5" cy="223.5" r="1.1" fill="rgb(115,2,2)"/>
<circle cx="726.8" cy="215.0" r="6" fill="rgb(210,8,8)"/>
<circle cx="725.0" cy="214.0" r="1.3" fill="rgb(115,2,2)"/>
<circle cx="728.3" cy="216.5" r="1.1" fill="rgb(115,2,2)"/>
<circle cx="723.3" cy="230.8" r="6" fill="rgb(210,8,8)"/>
<circle cx="721.5" cy="229.8" r="1.3" fill="rgb(115,2,2)"/>
<circle cx="724.8" cy="232.3" r="1.1" fill="rgb(115,2,2)"/>
<circle cx="642.3" cy="141.1" r="5" fill="rgb(151,4,4)"/>
<circle cx="698.6" cy="164.0" r="6" fill="rgb(146,4,4)"/>
<circle cx="730.3" cy="167.5" r="5.5" fill="rgb(151,4,4)"/>
<circle cx="640.6" cy="181.5" r="5" fill="rgb(146,4,4)"/>
<circle cx="695.0" cy="132.3" r="5.5" fill="rgb(146,4,4)"/>
<circle cx="675.8" cy="129.5" r="5" fill="rgb(141,4,4)"/>
<circle cx="696.9" cy="142.9" r="5.5" fill="rgb(146,4,4)"/>
<circle cx="645.0" cy="221.5" r="5" fill="rgb(136,4,4)"/>
</g>
</g></g>
<g clip-path="url(#cTR)"><g filter="url(#mt2)">
<rect x="744.6" y="17.6" width="109.9" height="109.5" fill="rgb(14,160,14)"/>
<ellipse cx="804.6" cy="65.6" rx="22" ry="16" fill="rgb(9,112,9)" filter="url(#b4)"/>
<path d="M857.3,128.0L849.0,129.7M786.4,129.8L791.8,198.3M786.4,129.8L792.8,126.2M792.8,126.2L798.6,132.1M745.4,112.9L721.1,109.4M745.4,112.9L747.5,118.6M747.5,118.6L732.2,124.8M767.0,129.4L769.6,127.4M769.6,127.4L776.6,130.1M786.4,129.8L781.2,126.8M781.2,126.8L776.6,130.1M732.3,89.0L745.5,94.0M721.1,109.4L745.7,101.5M745.7,101.5L745.5,94.0M745.2,76.6L749.3,72.4M745.2,76.6L729.4,69.3M749.3,72.4L747.8,64.2M729.4,69.3L747.8,64.2M732.3,89.0L745.4,81.0M745.4,81.0L745.2,76.6M745.4,81.0L750.6,85.5M745.5,94.0L750.2,90.6M750.6,85.5L750.2,90.6M747.8,64.1L755.5,60.1M747.8,64.1L742.3,55.6M755.5,60.1L756.1,56.4M756.1,56.4L752.1,53.1M752.1,53.1L742.3,55.6M747.8,64.1L747.8,64.2M736.6,51.8L742.3,55.6M752.1,53.1L748.9,45.7M736.6,51.8L743.9,44.9M743.9,44.9L748.9,45.7M736.4,31.7L742.4,35.9M743.9,44.9L742.4,35.9M857.3,128.0L858.2,120.3M858.2,120.3L873.1,114.9M849.0,129.7L846.1,127.1M858.2,120.3L852.2,116.5M846.1,127.1L846.4,121.0M852.2,116.5L846.4,121.0M793.5,123.5L792.8,126.2M793.5,123.5L787.2,117.0M781.2,126.8L780.3,120.0M780.3,120.0L787.2,117.0M829.7,62.7L835.8,66.0M829.7,62.7L824.6,65.2M837.2,73.1L827.9,74.5M837.2,73.1L835.8,66.0M824.6,65.2L825.6,71.7M827.9,74.5L825.6,71.7M793.5,123.5L799.0,119.7M799.0,119.7L796.5,110.4M787.2,117.0L789.8,110.1M789.8,110.1L792.4,108.8M792.4,108.8L796.5,110.4M855.6,26.3L853.6,34.3M853.6,34.3L863.2,39.8M866.9,58.0L854.6,52.2M854.6,52.2L854.5,46.5M863.2,39.8L854.5,46.5M853.6,34.3L848.6,36.4M854.5,46.5L849.3,42.5M848.6,36.4L849.3,42.5M798.6,132.1L803.6,129.0M799.0,119.7L801.5,120.4M801.5,120.4L803.6,129.0M812.9,151.5L806.9,129.4M812.9,151.5L817.9,133.3M817.9,133.3L811.8,126.1M811.8,126.1L806.9,129.4M806.9,129.4L803.6,129.0M745.2,129.7L751.2,124.6M745.2,129.7L753.7,165.8M751.2,124.6L757.1,129.8M753.7,165.8L757.1,129.8M751.4,121.3L751.2,124.6M751.4,121.3L747.5,118.6M732.2,124.8L745.2,129.7M761.6,127.6L761.5,118.6M761.6,127.6L757.1,129.8M751.4,121.3L757.4,116.9M757.4,116.9L761.5,118.6M761.6,127.6L767.0,129.4M769.6,127.4L770.1,121.1M780.3,120.0L776.5,117.5M770.1,121.1L776.5,117.5M761.5,118.6L764.0,118.1M770.1,121.1L764.0,118.1M781.1,106.6L789.8,110.1M781.1,106.6L775.9,114.0M775.9,114.0L776.5,117.5M745.7,101.5L747.0,102.4M750.2,90.6L753.2,92.6M753.2,92.6L756.3,100.1M756.3,100.1L747.0,102.4M745.4,112.9L748.9,108.9M757.4,116.9L756.5,110.6M756.5,110.6L748.9,108.9M748.9,108.9L747.0,102.4M759.5,34.0L756.0,38.8M759.5,34.0L766.5,35.3M766.5,35.3L766.5,44.9M755.8,41.9L756.0,38.8M755.8,41.9L761.1,46.7M761.1,46.7L766.5,44.9M748.9,45.7L755.8,41.9M742.4,35.9L747.4,34.1M747.4,34.1L756.0,38.8M756.1,56.4L759.8,53.3M759.8,53.3L761.1,46.7M755.5,60.1L762.0,66.6M759.8,53.3L766.6,55.7M766.6,55.7L768.3,63.6M768.3,63.6L762.0,66.6M736.4,31.7L746.1,23.1M747.4,34.1L750.4,28.7M750.4,28.7L746.1,23.1M846.1,127.1L841.3,128.6M834.5,160.1L841.3,128.6M873.1,114.9L855.4,108.6M868.2,96.3L856.4,103.0M855.4,108.6L856.4,103.0M852.2,116.5L852.8,110.5M855.4,108.6L852.8,110.5M827.5,81.9L826.8,82.5M827.5,81.9L835.5,84.3M826.8,82.5L825.8,89.8M836.7,88.7L835.5,84.3M836.7,88.7L828.3,92.6M828.3,92.6L825.8,89.8M818.1,75.3L825.6,71.7M818.1,75.3L818.3,82.2M827.9,74.5L827.5,81.9M818.3,82.2L826.8,82.5M839.8,74.6L839.5,79.6M839.8,74.6L837.2,73.1M839.5,79.6L835.5,84.3M807.1,93.1L814.0,87.3M807.1,93.1L802.0,90.0M802.0,90.0L802.9,85.1M802.9,85.1L808.8,82.0M808.8,82.0L813.8,85.7M813.8,85.7L814.0,87.3M807.5,98.8L807.1,93.1M807.5,98.8L815.8,100.9M815.8,100.9L817.3,100.1M817.3,100.1L817.5,91.9M817.5,91.9L814.0,87.3M807.6,74.3L803.3,72.4M807.6,74.3L808.8,82.0M799.0,73.9L803.3,72.4M799.0,73.9L797.6,82.1M797.6,82.1L802.9,85.1M811.8,71.9L818.1,75.3M811.8,71.9L807.6,74.3M818.3,82.2L813.8,85.7M817.5,91.9L825.8,89.8M841.4,62.3L840.8,55.8M841.4,62.3L844.4,64.9M844.4,64.9L850.9,62.5M850.9,62.5L848.9,54.4M840.8,55.8L845.6,53.4M848.9,54.4L845.6,53.4M829.7,62.7L832.3,56.8M835.8,66.0L841.4,62.3M832.3,56.8L835.8,54.1M835.8,54.1L840.8,55.8M839.8,74.6L844.7,72.5M844.7,72.5L844.4,64.9M866.9,58.0L856.4,66.0M854.6,52.2L848.9,54.4M856.4,66.0L850.9,62.5M833.4,45.5L835.8,54.1M833.4,45.5L837.1,42.7M837.1,42.7L845.2,47.3M845.2,47.3L845.6,53.4M845.2,47.3L849.3,42.5M855.2,71.5L851.2,74.2M855.2,71.5L865.6,78.5M851.2,74.2L851.2,81.3M851.2,81.3L857.2,84.7M865.6,78.5L857.2,84.7M844.7,72.5L851.2,74.2M856.4,66.0L855.2,71.5M839.5,79.6L847.3,84.7M847.3,84.7L851.2,81.3M868.2,96.3L857.7,90.6M857.7,90.6L857.2,84.7M811.8,71.9L814.8,64.9M824.6,65.2L819.3,62.2M819.3,62.2L814.8,64.9M803.3,72.4L802.8,65.9M802.8,65.9L806.3,61.1M814.8,64.9L806.3,61.1M802.0,54.3L805.1,55.6M802.0,54.3L797.5,56.9M802.8,65.9L795.8,62.4M797.5,56.9L795.8,62.4M806.3,61.1L805.1,55.6M791.3,27.0L791.4,27.1M791.3,27.0L779.1,-16.7M791.4,27.1L798.4,25.2M798.4,25.2L811.2,-121.2M779.1,-16.7L687.5,-1263.2M783.1,28.3L776.4,25.1M783.1,28.3L791.3,27.0M776.4,25.1L779.1,-16.7M751.6,-35.4L746.1,23.1M751.6,-35.4L687.5,-1263.2M855.6,26.3L852.5,23.2M852.5,23.2L830.8,-2048.4M837.1,42.7L839.7,36.6M848.6,36.4L844.6,35.0M839.7,36.6L844.6,35.0M852.5,23.2L844.0,25.0M844.6,35.0L844.0,25.0M807.7,118.2L812.6,121.2M807.7,118.2L807.1,110.6M807.1,110.6L813.6,108.0M813.6,108.0L819.6,115.5M812.6,121.2L819.5,118.2M819.5,118.2L819.6,115.5M801.5,120.4L807.7,118.2M811.8,126.1L812.6,121.2M803.1,108.0L796.5,110.4M803.1,108.0L807.1,110.6M807.5,98.8L804.0,100.8M815.8,100.9L813.6,108.0M804.0,100.8L803.1,108.0M756.3,100.1L758.9,101.4M756.5,110.6L758.8,107.2M758.9,101.4L758.8,107.2M764.0,118.1L768.0,109.8M758.8,107.2L768.0,109.8M775.9,114.0L769.0,109.3M769.0,109.3L768.0,109.8M766.6,55.7L770.4,52.9M766.5,44.9L770.3,46.4M770.4,52.9L770.3,46.4M768.3,63.6L773.1,64.4M770.4,52.9L777.3,56.8M777.3,56.8L775.9,62.1M775.9,62.1L773.1,64.4M758.0,29.0L757.0,27.9M758.0,29.0L766.4,25.3M757.0,27.9L756.7,-1.5M766.4,25.3L756.7,-1.5M759.5,34.0L758.0,29.0M750.4,28.7L757.0,27.9M771.6,32.5L772.5,28.6M771.6,32.5L766.5,35.3M772.5,28.6L766.4,25.3M751.6,-35.4L756.7,-1.5M772.5,28.6L776.4,25.1M830.0,130.6L835.4,127.6M830.0,130.6L825.5,128.1M835.4,127.6L835.0,120.7M825.5,128.1L823.6,121.3M823.6,121.3L831.8,117.2M835.0,120.7L831.8,117.2M834.5,160.1L830.0,130.6M841.3,128.6L835.4,127.6M817.9,133.3L825.5,128.1M846.4,121.0L843.0,118.3M843.0,118.3L835.0,120.7M819.5,118.2L823.6,121.3M819.6,115.5L825.8,108.0M831.8,117.2L833.3,111.7M825.8,108.0L833.3,111.7M817.3,100.1L824.4,102.1M825.8,108.0L824.4,102.1M828.3,92.6L828.8,98.8M828.8,98.8L824.4,102.1M750.6,85.5L756.6,82.5M753.2,92.6L761.0,90.6M761.0,90.6L761.1,84.7M756.6,82.5L761.1,84.7M749.3,72.4L756.8,74.3M756.6,82.5L756.8,74.3M762.0,66.6L761.3,71.3M756.8,74.3L761.3,71.3M794.3,89.4L798.4,92.3M794.3,89.4L786.8,95.3M798.4,92.3L797.8,97.5M797.8,97.5L792.6,100.3M792.6,100.3L787.1,96.4M786.8,95.3L787.1,96.4M792.8,84.3L794.3,89.4M792.8,84.3L797.6,82.1M802.0,90.0L798.4,92.3M804.0,100.8L797.8,97.5M792.4,108.8L792.6,100.3M780.1,103.8L787.1,96.4M780.1,103.8L781.1,106.6M817.8,44.9L824.3,47.2M817.8,44.9L813.4,48.6M819.0,59.5L812.6,51.9M819.0,59.5L824.3,52.7M824.3,52.7L824.3,47.2M813.4,48.6L812.6,51.9M829.8,44.6L824.3,47.2M829.8,44.6L826.5,34.8M826.5,34.8L817.3,39.3M817.3,39.3L817.8,44.9M819.3,62.2L819.0,59.5M805.1,55.6L812.6,51.9M832.3,56.8L824.3,52.7M833.4,45.5L829.8,44.6M798.4,25.2L803.4,27.2M812.2,-1.8L807.8,25.9M803.4,27.2L807.8,25.9M819.3,26.6L813.6,29.6M819.3,26.6L812.2,-1.8M807.8,25.9L813.6,29.6M799.8,46.9L808.0,44.7M799.8,46.9L797.5,44.8M797.5,44.8L801.2,37.1M808.0,44.7L807.7,38.2M807.7,38.2L801.8,36.7M801.2,37.1L801.8,36.7M802.0,54.3L799.8,46.9M813.4,48.6L808.0,44.7M792.0,54.3L797.5,56.9M792.0,54.3L792.6,44.9M792.6,44.9L797.5,44.8M817.3,39.3L813.5,35.3M813.5,35.3L807.7,38.2M803.4,27.2L801.8,36.7M813.5,35.3L813.6,29.6M791.4,27.1L792.1,32.5M792.1,32.5L801.2,37.1M826.5,34.8L826.8,34.2M839.7,36.6L836.1,33.6M836.1,33.6L826.8,34.2M819.3,26.6L824.6,27.2M824.6,27.2L826.8,34.2M764.8,95.3L772.1,90.2M764.8,95.3L764.2,98.1M764.2,98.1L770.5,103.0M775.9,93.3L772.1,90.2M775.9,93.3L775.7,101.2M775.7,101.2L770.5,103.0M761.0,90.6L764.8,95.3M758.9,101.4L764.2,98.1M769.0,109.3L770.5,103.0M780.1,103.8L775.7,101.2M783.9,91.7L775.9,93.3M783.9,91.7L786.8,95.3M776.7,38.9L782.7,34.3M776.7,38.9L777.6,43.6M777.6,43.6L781.9,46.4M782.7,34.3L789.2,38.7M781.9,46.4L789.2,43.3M789.2,38.7L789.2,43.3M771.6,32.5L776.7,38.9M783.1,28.3L782.7,34.3M770.3,46.4L777.6,43.6M777.3,56.8L781.7,53.3M781.7,53.3L781.9,46.4M792.1,32.5L789.2,38.7M792.0,54.3L786.8,56.9M786.8,56.9L781.7,53.3M792.6,44.9L789.2,43.3M847.3,84.7L846.4,89.3M836.7,88.7L839.8,91.7M839.8,91.7L846.4,89.3M857.7,90.6L851.4,93.5M846.4,89.3L851.4,93.5M856.4,103.0L851.0,97.7M851.4,93.5L851.0,97.7M847.2,108.2L844.9,101.3M847.2,108.2L840.4,112.0M840.4,112.0L836.2,110.2M836.2,110.2L837.3,100.3M844.9,101.3L838.7,99.3M837.3,100.3L838.7,99.3M852.8,110.5L847.2,108.2M851.0,97.7L844.9,101.3M843.0,118.3L840.4,112.0M833.3,111.7L836.2,110.2M828.8,98.8L837.3,100.3M839.8,91.7L838.7,99.3M792.8,84.3L787.1,82.1M783.9,91.7L784.9,83.8M787.1,82.1L784.9,83.8M840.6,22.3L835.5,27.7M840.6,22.3L834.2,1.6M835.5,27.7L826.9,24.9M834.2,1.6L826.9,24.9M844.0,25.0L840.6,22.3M836.1,33.6L835.5,27.7M824.6,27.2L826.9,24.9M787.6,76.3L782.6,72.3M787.6,76.3L793.3,72.0M782.6,72.3L783.8,65.6M793.3,72.0L791.7,64.9M783.8,65.6L788.3,63.3M788.3,63.3L791.7,64.9M799.0,73.9L793.3,72.0M787.1,82.1L787.6,76.3M795.8,62.4L791.7,64.9M786.8,56.9L788.3,63.3M775.9,62.1L783.8,65.6M771.8,85.8L776.2,82.0M771.8,85.8L766.3,82.8M776.2,82.0L775.2,73.5M766.3,82.8L766.1,75.2M766.1,75.2L774.9,73.3M774.9,73.3L775.2,73.5M772.1,90.2L771.8,85.8M784.9,83.8L776.2,82.0M761.1,84.7L766.3,82.8M782.6,72.3L775.2,73.5M761.3,71.3L766.1,75.2M773.1,64.4L774.9,73.3" stroke="rgb(30,205,30)" stroke-width="1.4" fill="none" filter="url(#b05)"/>
<g filter="url(#b05)">
<ellipse cx="740.3" cy="22.9" rx="3.8" ry="4.3" transform="rotate(87 740.3 22.9)" fill="rgb(0,45,0)"/>
<ellipse cx="751.8" cy="24.0" rx="4.1" ry="4.0" transform="rotate(71 751.8 24.0)" fill="rgb(0,45,0)"/>
<ellipse cx="762.1" cy="23.9" rx="4.0" ry="3.7" transform="rotate(53 762.1 23.9)" fill="rgb(0,45,0)"/>
<ellipse cx="768.9" cy="21.4" rx="4.0" ry="3.6" transform="rotate(151 768.9 21.4)" fill="rgb(0,45,0)"/>
<ellipse cx="784.4" cy="22.4" rx="3.8" ry="4.0" transform="rotate(52 784.4 22.4)" fill="rgb(0,45,0)"/>
<ellipse cx="794.8" cy="19.5" rx="3.9" ry="4.6" transform="rotate(26 794.8 19.5)" fill="rgb(0,45,0)"/>
<ellipse cx="803.0" cy="20.2" rx="3.6" ry="4.2" transform="rotate(90 803.0 20.2)" fill="rgb(0,45,0)"/>
<ellipse cx="814.0" cy="22.0" rx="3.4" ry="3.7" transform="rotate(105 814.0 22.0)" fill="rgb(0,45,0)"/>
<ellipse cx="821.8" cy="20.1" rx="4.0" ry="3.6" transform="rotate(41 821.8 20.1)" fill="rgb(0,45,0)"/>
<ellipse cx="833.8" cy="23.8" rx="4.0" ry="4.5" transform="rotate(119 833.8 23.8)" fill="rgb(0,45,0)"/>
<ellipse cx="847.0" cy="19.8" rx="3.0" ry="4.4" transform="rotate(176 847.0 19.8)" fill="rgb(0,45,0)"/>
<ellipse cx="857.8" cy="19.6" rx="4.2" ry="4.3" transform="rotate(9 857.8 19.6)" fill="rgb(0,45,0)"/>
<ellipse cx="745.5" cy="28.9" rx="4.0" ry="3.8" transform="rotate(116 745.5 28.9)" fill="rgb(0,45,0)"/>
<ellipse cx="752.8" cy="32.9" rx="4.1" ry="4.4" transform="rotate(24 752.8 32.9)" fill="rgb(0,45,0)"/>
<ellipse cx="764.5" cy="29.4" rx="3.4" ry="4.6" transform="rotate(27 764.5 29.4)" fill="rgb(0,45,0)"/>
<ellipse cx="779.3" cy="32.9" rx="3.7" ry="4.0" transform="rotate(29 779.3 32.9)" fill="rgb(0,45,0)"/>
<ellipse cx="786.2" cy="33.4" rx="3.7" ry="3.6" transform="rotate(19 786.2 33.4)" fill="rgb(0,45,0)"/>
<ellipse cx="798.1" cy="31.9" rx="3.5" ry="3.6" transform="rotate(10 798.1 31.9)" fill="rgb(0,45,0)"/>
<ellipse cx="806.9" cy="33.3" rx="3.7" ry="4.4" transform="rotate(158 806.9 33.3)" fill="rgb(0,45,0)"/>
<ellipse cx="820.1" cy="33.4" rx="3.2" ry="4.0" transform="rotate(57 820.1 33.4)" fill="rgb(0,45,0)"/>
<ellipse cx="831.8" cy="29.8" rx="3.7" ry="4.1" transform="rotate(169 831.8 29.8)" fill="rgb(0,45,0)"/>
<ellipse cx="839.6" cy="29.1" rx="3.4" ry="3.6" transform="rotate(126 839.6 29.1)" fill="rgb(0,45,0)"/>
<ellipse cx="849.0" cy="28.6" rx="3.2" ry="4.3" transform="rotate(91 849.0 28.6)" fill="rgb(0,45,0)"/>
<ellipse cx="860.4" cy="31.5" rx="4.1" ry="4.2" transform="rotate(112 860.4 31.5)" fill="rgb(0,45,0)"/>
<ellipse cx="736.9" cy="41.2" rx="3.3" ry="4.2" transform="rotate(46 736.9 41.2)" fill="rgb(0,45,0)"/>
<ellipse cx="749.3" cy="39.2" rx="3.9" ry="4.1" transform="rotate(24 749.3 39.2)" fill="rgb(0,45,0)"/>
<ellipse cx="762.5" cy="40.2" rx="3.3" ry="3.9" transform="rotate(133 762.5 40.2)" fill="rgb(0,45,0)"/>
<ellipse cx="770.4" cy="40.2" rx="3.2" ry="4.4" transform="rotate(118 770.4 40.2)" fill="rgb(0,45,0)"/>
<ellipse cx="783.1" cy="37.9" rx="3.1" ry="4.3" transform="rotate(16 783.1 37.9)" fill="rgb(0,45,0)"/>
<ellipse cx="795.2" cy="37.7" rx="3.1" ry="4.2" transform="rotate(43 795.2 37.7)" fill="rgb(0,45,0)"/>
<ellipse cx="804.5" cy="42.1" rx="4.1" ry="4.1" transform="rotate(58 804.5 42.1)" fill="rgb(0,45,0)"/>
<ellipse cx="811.2" cy="41.8" rx="4.0" ry="3.5" transform="rotate(131 811.2 41.8)" fill="rgb(0,45,0)"/>
<ellipse cx="823.7" cy="40.7" rx="3.1" ry="3.7" transform="rotate(171 823.7 40.7)" fill="rgb(0,45,0)"/>
<ellipse cx="832.3" cy="37.8" rx="3.8" ry="3.8" transform="rotate(21 832.3 37.8)" fill="rgb(0,45,0)"/>
<ellipse cx="843.9" cy="42.7" rx="4.2" ry="4.3" transform="rotate(148 843.9 42.7)" fill="rgb(0,45,0)"/>
<ellipse cx="854.6" cy="41.6" rx="3.2" ry="4.2" transform="rotate(64 854.6 41.6)" fill="rgb(0,45,0)"/>
<ellipse cx="747.2" cy="52.0" rx="3.3" ry="3.9" transform="rotate(110 747.2 52.0)" fill="rgb(0,45,0)"/>
<ellipse cx="754.7" cy="48.8" rx="3.4" ry="4.0" transform="rotate(25 754.7 48.8)" fill="rgb(0,45,0)"/>
<ellipse cx="766.2" cy="51.1" rx="4.0" ry="4.3" transform="rotate(145 766.2 51.1)" fill="rgb(0,45,0)"/>
<ellipse cx="774.6" cy="50.9" rx="3.5" ry="4.5" transform="rotate(93 774.6 50.9)" fill="rgb(0,45,0)"/>
<ellipse cx="788.9" cy="51.5" rx="3.7" ry="4.2" transform="rotate(133 788.9 51.5)" fill="rgb(0,45,0)"/>
<ellipse cx="795.4" cy="52.0" rx="3.5" ry="3.6" transform="rotate(6 795.4 52.0)" fill="rgb(0,45,0)"/>
<ellipse cx="806.3" cy="48.7" rx="3.2" ry="3.5" transform="rotate(160 806.3 48.7)" fill="rgb(0,45,0)"/>
<ellipse cx="819.7" cy="51.8" rx="3.6" ry="4.4" transform="rotate(0 819.7 51.8)" fill="rgb(0,45,0)"/>
<ellipse cx="828.8" cy="51.9" rx="3.6" ry="4.6" transform="rotate(112 828.8 51.9)" fill="rgb(0,45,0)"/>
<ellipse cx="840.5" cy="48.6" rx="3.5" ry="4.1" transform="rotate(18 840.5 48.6)" fill="rgb(0,45,0)"/>
<ellipse cx="849.9" cy="47.8" rx="3.2" ry="3.7" transform="rotate(67 849.9 47.8)" fill="rgb(0,45,0)"/>
<ellipse cx="859.2" cy="47.7" rx="3.5" ry="4.6" transform="rotate(27 859.2 47.7)" fill="rgb(0,45,0)"/>
<ellipse cx="740.6" cy="61.6" rx="3.3" ry="3.8" transform="rotate(29 740.6 61.6)" fill="rgb(0,45,0)"/>
<ellipse cx="748.4" cy="56.5" rx="3.3" ry="3.8" transform="rotate(87 748.4 56.5)" fill="rgb(0,45,0)"/>
<ellipse cx="763.4" cy="59.1" rx="3.0" ry="4.6" transform="rotate(66 763.4 59.1)" fill="rgb(0,45,0)"/>
<ellipse cx="770.9" cy="57.5" rx="4.1" ry="4.3" transform="rotate(121 770.9 57.5)" fill="rgb(0,45,0)"/>
<ellipse cx="782.5" cy="60.7" rx="3.6" ry="4.6" transform="rotate(21 782.5 60.7)" fill="rgb(0,45,0)"/>
<ellipse cx="792.4" cy="58.5" rx="3.8" ry="3.8" transform="rotate(121 792.4 58.5)" fill="rgb(0,45,0)"/>
<ellipse cx="800.8" cy="61.2" rx="3.9" ry="3.7" transform="rotate(36 800.8 61.2)" fill="rgb(0,45,0)"/>
<ellipse cx="811.3" cy="58.9" rx="3.0" ry="3.8" transform="rotate(14 811.3 58.9)" fill="rgb(0,45,0)"/>
<ellipse cx="826.2" cy="56.9" rx="3.5" ry="4.7" transform="rotate(66 826.2 56.9)" fill="rgb(0,45,0)"/>
<ellipse cx="836.3" cy="61.3" rx="3.4" ry="4.1" transform="rotate(51 836.3 61.3)" fill="rgb(0,45,0)"/>
<ellipse cx="846.3" cy="60.5" rx="3.9" ry="4.4" transform="rotate(29 846.3 60.5)" fill="rgb(0,45,0)"/>
<ellipse cx="854.1" cy="58.6" rx="3.3" ry="4.3" transform="rotate(169 854.1 58.6)" fill="rgb(0,45,0)"/>
<ellipse cx="743.0" cy="70.1" rx="3.8" ry="4.0" transform="rotate(176 743.0 70.1)" fill="rgb(0,45,0)"/>
<ellipse cx="754.4" cy="68.0" rx="3.0" ry="3.6" transform="rotate(140 754.4 68.0)" fill="rgb(0,45,0)"/>
<ellipse cx="768.8" cy="70.1" rx="3.5" ry="3.6" transform="rotate(99 768.8 70.1)" fill="rgb(0,45,0)"/>
<ellipse cx="779.3" cy="68.0" rx="4.2" ry="4.1" transform="rotate(63 779.3 68.0)" fill="rgb(0,45,0)"/>
<ellipse cx="787.2" cy="69.5" rx="3.1" ry="3.6" transform="rotate(162 787.2 69.5)" fill="rgb(0,45,0)"/>
<ellipse cx="797.8" cy="67.1" rx="3.6" ry="4.6" transform="rotate(10 797.8 67.1)" fill="rgb(0,45,0)"/>
<ellipse cx="808.0" cy="66.3" rx="3.3" ry="3.6" transform="rotate(72 808.0 66.3)" fill="rgb(0,45,0)"/>
<ellipse cx="818.4" cy="70.9" rx="3.1" ry="3.8" transform="rotate(73 818.4 70.9)" fill="rgb(0,45,0)"/>
<ellipse cx="832.2" cy="68.9" rx="3.4" ry="3.6" transform="rotate(7 832.2 68.9)" fill="rgb(0,45,0)"/>
<ellipse cx="840.3" cy="67.4" rx="4.2" ry="3.7" transform="rotate(92 840.3 67.4)" fill="rgb(0,45,0)"/>
<ellipse cx="848.7" cy="67.0" rx="3.5" ry="4.1" transform="rotate(15 848.7 67.0)" fill="rgb(0,45,0)"/>
<ellipse cx="863.0" cy="70.2" rx="3.4" ry="3.6" transform="rotate(98 863.0 70.2)" fill="rgb(0,45,0)"/>
<ellipse cx="738.9" cy="79.1" rx="4.1" ry="4.2" transform="rotate(154 738.9 79.1)" fill="rgb(0,45,0)"/>
<ellipse cx="751.7" cy="78.6" rx="3.3" ry="3.5" transform="rotate(97 751.7 78.6)" fill="rgb(0,45,0)"/>
<ellipse cx="761.7" cy="79.0" rx="3.6" ry="4.2" transform="rotate(68 761.7 79.0)" fill="rgb(0,45,0)"/>
<ellipse cx="770.7" cy="78.7" rx="3.8" ry="4.4" transform="rotate(164 770.7 78.7)" fill="rgb(0,45,0)"/>
<ellipse cx="780.8" cy="77.5" rx="3.4" ry="4.0" transform="rotate(149 780.8 77.5)" fill="rgb(0,45,0)"/>
<ellipse cx="794.1" cy="78.6" rx="3.3" ry="3.6" transform="rotate(56 794.1 78.6)" fill="rgb(0,45,0)"/>
<ellipse cx="802.1" cy="80.0" rx="3.1" ry="4.4" transform="rotate(147 802.1 80.0)" fill="rgb(0,45,0)"/>
<ellipse cx="814.6" cy="78.0" rx="3.4" ry="3.7" transform="rotate(15 814.6 78.0)" fill="rgb(0,45,0)"/>
<ellipse cx="821.8" cy="77.8" rx="3.3" ry="3.6" transform="rotate(77 821.8 77.8)" fill="rgb(0,45,0)"/>
<ellipse cx="833.7" cy="78.5" rx="3.7" ry="3.8" transform="rotate(11 833.7 78.5)" fill="rgb(0,45,0)"/>
<ellipse cx="845.4" cy="79.3" rx="3.8" ry="3.6" transform="rotate(36 845.4 79.3)" fill="rgb(0,45,0)"/>
<ellipse cx="857.0" cy="79.2" rx="3.3" ry="3.9" transform="rotate(18 857.0 79.2)" fill="rgb(0,45,0)"/>
<ellipse cx="744.1" cy="87.7" rx="3.5" ry="3.9" transform="rotate(135 744.1 87.7)" fill="rgb(0,45,0)"/>
<ellipse cx="756.8" cy="88.7" rx="3.7" ry="4.6" transform="rotate(118 756.8 88.7)" fill="rgb(0,45,0)"/>
<ellipse cx="765.3" cy="88.7" rx="3.9" ry="4.2" transform="rotate(80 765.3 88.7)" fill="rgb(0,45,0)"/>
<ellipse cx="778.7" cy="87.9" rx="4.0" ry="4.3" transform="rotate(172 778.7 87.9)" fill="rgb(0,45,0)"/>
<ellipse cx="789.9" cy="89.4" rx="3.9" ry="4.3" transform="rotate(48 789.9 89.4)" fill="rgb(0,45,0)"/>
<ellipse cx="798.0" cy="87.1" rx="4.0" ry="4.0" transform="rotate(23 798.0 87.1)" fill="rgb(0,45,0)"/>
<ellipse cx="806.7" cy="88.7" rx="3.1" ry="3.7" transform="rotate(47 806.7 88.7)" fill="rgb(0,45,0)"/>
<ellipse cx="821.5" cy="86.8" rx="3.8" ry="3.8" transform="rotate(11 821.5 86.8)" fill="rgb(0,45,0)"/>
<ellipse cx="830.7" cy="88.1" rx="3.9" ry="4.2" transform="rotate(5 830.7 88.1)" fill="rgb(0,45,0)"/>
<ellipse cx="841.5" cy="85.1" rx="3.1" ry="3.7" transform="rotate(64 841.5 85.1)" fill="rgb(0,45,0)"/>
<ellipse cx="852.4" cy="87.3" rx="4.0" ry="4.6" transform="rotate(110 852.4 87.3)" fill="rgb(0,45,0)"/>
<ellipse cx="862.4" cy="86.5" rx="3.3" ry="4.0" transform="rotate(65 862.4 86.5)" fill="rgb(0,45,0)"/>
<ellipse cx="740.3" cy="97.7" rx="3.4" ry="3.5" transform="rotate(105 740.3 97.7)" fill="rgb(0,45,0)"/>
<ellipse cx="750.9" cy="97.4" rx="4.0" ry="4.4" transform="rotate(17 750.9 97.4)" fill="rgb(0,45,0)"/>
<ellipse cx="758.2" cy="94.4" rx="3.6" ry="3.7" transform="rotate(128 758.2 94.4)" fill="rgb(0,45,0)"/>
<ellipse cx="771.1" cy="97.0" rx="3.5" ry="4.6" transform="rotate(143 771.1 97.0)" fill="rgb(0,45,0)"/>
<ellipse cx="780.5" cy="97.2" rx="3.1" ry="3.9" transform="rotate(165 780.5 97.2)" fill="rgb(0,45,0)"/>
<ellipse cx="793.3" cy="93.8" rx="3.6" ry="4.0" transform="rotate(79 793.3 93.8)" fill="rgb(0,45,0)"/>
<ellipse cx="803.0" cy="94.7" rx="3.9" ry="4.6" transform="rotate(96 803.0 94.7)" fill="rgb(0,45,0)"/>
<ellipse cx="811.4" cy="94.2" rx="4.2" ry="4.2" transform="rotate(19 811.4 94.2)" fill="rgb(0,45,0)"/>
<ellipse cx="823.4" cy="94.5" rx="4.0" ry="4.0" transform="rotate(9 823.4 94.5)" fill="rgb(0,45,0)"/>
<ellipse cx="833.3" cy="93.7" rx="4.2" ry="3.5" transform="rotate(104 833.3 93.7)" fill="rgb(0,45,0)"/>
<ellipse cx="845.4" cy="95.6" rx="3.6" ry="4.6" transform="rotate(71 845.4 95.6)" fill="rgb(0,45,0)"/>
<ellipse cx="856.8" cy="96.7" rx="3.3" ry="3.8" transform="rotate(36 856.8 96.7)" fill="rgb(0,45,0)"/>
<ellipse cx="743.5" cy="107.7" rx="3.7" ry="3.9" transform="rotate(135 743.5 107.7)" fill="rgb(0,45,0)"/>
<ellipse cx="752.8" cy="105.0" rx="3.3" ry="3.9" transform="rotate(45 752.8 105.0)" fill="rgb(0,45,0)"/>
<ellipse cx="764.9" cy="105.1" rx="4.2" ry="4.5" transform="rotate(153 764.9 105.1)" fill="rgb(0,45,0)"/>
<ellipse cx="774.6" cy="107.3" rx="3.7" ry="4.0" transform="rotate(26 774.6 107.3)" fill="rgb(0,45,0)"/>
<ellipse cx="786.6" cy="103.0" rx="4.0" ry="4.1" transform="rotate(7 786.6 103.0)" fill="rgb(0,45,0)"/>
<ellipse cx="798.5" cy="103.4" rx="3.2" ry="3.6" transform="rotate(129 798.5 103.4)" fill="rgb(0,45,0)"/>
<ellipse cx="808.7" cy="104.7" rx="4.1" ry="3.7" transform="rotate(143 808.7 104.7)" fill="rgb(0,45,0)"/>
<ellipse cx="819.5" cy="108.0" rx="3.4" ry="4.3" transform="rotate(155 819.5 108.0)" fill="rgb(0,45,0)"/>
<ellipse cx="831.4" cy="105.1" rx="3.7" ry="4.5" transform="rotate(68 831.4 105.1)" fill="rgb(0,45,0)"/>
<ellipse cx="842.0" cy="106.3" rx="3.0" ry="4.1" transform="rotate(106 842.0 106.3)" fill="rgb(0,45,0)"/>
<ellipse cx="850.2" cy="103.6" rx="3.2" ry="4.0" transform="rotate(57 850.2 103.6)" fill="rgb(0,45,0)"/>
<ellipse cx="862.0" cy="105.9" rx="3.0" ry="3.9" transform="rotate(69 862.0 105.9)" fill="rgb(0,45,0)"/>
<ellipse cx="742.1" cy="117.4" rx="3.6" ry="4.3" transform="rotate(72 742.1 117.4)" fill="rgb(0,45,0)"/>
<ellipse cx="750.8" cy="114.1" rx="4.2" ry="4.5" transform="rotate(166 750.8 114.1)" fill="rgb(0,45,0)"/>
<ellipse cx="762.9" cy="112.2" rx="3.8" ry="4.3" transform="rotate(97 762.9 112.2)" fill="rgb(0,45,0)"/>
<ellipse cx="769.3" cy="115.2" rx="4.0" ry="3.9" transform="rotate(107 769.3 115.2)" fill="rgb(0,45,0)"/>
<ellipse cx="782.6" cy="112.9" rx="3.8" ry="4.1" transform="rotate(51 782.6 112.9)" fill="rgb(0,45,0)"/>
<ellipse cx="793.3" cy="117.0" rx="3.1" ry="3.6" transform="rotate(64 793.3 117.0)" fill="rgb(0,45,0)"/>
<ellipse cx="802.5" cy="114.5" rx="3.7" ry="4.4" transform="rotate(129 802.5 114.5)" fill="rgb(0,45,0)"/>
<ellipse cx="812.3" cy="113.8" rx="3.4" ry="4.6" transform="rotate(49 812.3 113.8)" fill="rgb(0,45,0)"/>
<ellipse cx="827.0" cy="114.2" rx="3.9" ry="3.6" transform="rotate(136 827.0 114.2)" fill="rgb(0,45,0)"/>
<ellipse cx="837.5" cy="117.1" rx="3.8" ry="4.6" transform="rotate(161 837.5 117.1)" fill="rgb(0,45,0)"/>
<ellipse cx="846.1" cy="113.6" rx="3.8" ry="4.5" transform="rotate(133 846.1 113.6)" fill="rgb(0,45,0)"/>
<ellipse cx="858.8" cy="114.9" rx="3.7" ry="3.8" transform="rotate(93 858.8 114.9)" fill="rgb(0,45,0)"/>
<ellipse cx="744.4" cy="123.2" rx="4.1" ry="3.8" transform="rotate(175 744.4 123.2)" fill="rgb(0,45,0)"/>
<ellipse cx="758.1" cy="124.2" rx="3.7" ry="4.0" transform="rotate(1 758.1 124.2)" fill="rgb(0,45,0)"/>
<ellipse cx="764.9" cy="124.1" rx="3.5" ry="3.7" transform="rotate(118 764.9 124.1)" fill="rgb(0,45,0)"/>
<ellipse cx="774.7" cy="124.9" rx="4.1" ry="4.6" transform="rotate(110 774.7 124.9)" fill="rgb(0,45,0)"/>
<ellipse cx="787.0" cy="123.1" rx="3.5" ry="3.6" transform="rotate(124 787.0 123.1)" fill="rgb(0,45,0)"/>
<ellipse cx="799.4" cy="126.0" rx="3.7" ry="4.4" transform="rotate(67 799.4 126.0)" fill="rgb(0,45,0)"/>
<ellipse cx="805.9" cy="124.4" rx="4.1" ry="3.8" transform="rotate(55 805.9 124.4)" fill="rgb(0,45,0)"/>
<ellipse cx="817.9" cy="126.6" rx="3.3" ry="4.2" transform="rotate(162 817.9 126.6)" fill="rgb(0,45,0)"/>
<ellipse cx="831.2" cy="122.8" rx="3.2" ry="4.3" transform="rotate(138 831.2 122.8)" fill="rgb(0,45,0)"/>
<ellipse cx="839.0" cy="122.3" rx="3.3" ry="3.6" transform="rotate(102 839.0 122.3)" fill="rgb(0,45,0)"/>
<ellipse cx="853.5" cy="123.1" rx="4.0" ry="4.6" transform="rotate(131 853.5 123.1)" fill="rgb(0,45,0)"/>
<ellipse cx="862.1" cy="124.1" rx="3.5" ry="4.0" transform="rotate(95 862.1 124.1)" fill="rgb(0,45,0)"/>
<ellipse cx="740.4" cy="134.1" rx="4.1" ry="3.9" transform="rotate(51 740.4 134.1)" fill="rgb(0,45,0)"/>
<ellipse cx="751.5" cy="131.5" rx="3.7" ry="4.7" transform="rotate(34 751.5 131.5)" fill="rgb(0,45,0)"/>
<ellipse cx="762.2" cy="132.5" rx="3.0" ry="3.6" transform="rotate(101 762.2 132.5)" fill="rgb(0,45,0)"/>
<ellipse cx="771.6" cy="132.7" rx="3.7" ry="3.7" transform="rotate(34 771.6 132.7)" fill="rgb(0,45,0)"/>
<ellipse cx="780.9" cy="133.7" rx="3.7" ry="4.3" transform="rotate(124 780.9 133.7)" fill="rgb(0,45,0)"/>
<ellipse cx="792.4" cy="132.8" rx="3.9" ry="3.6" transform="rotate(87 792.4 132.8)" fill="rgb(0,45,0)"/>
<ellipse cx="804.5" cy="134.0" rx="4.0" ry="4.6" transform="rotate(57 804.5 134.0)" fill="rgb(0,45,0)"/>
<ellipse cx="811.3" cy="132.2" rx="4.0" ry="4.3" transform="rotate(167 811.3 132.2)" fill="rgb(0,45,0)"/>
<ellipse cx="824.2" cy="135.8" rx="3.3" ry="4.3" transform="rotate(151 824.2 135.8)" fill="rgb(0,45,0)"/>
<ellipse cx="837.1" cy="133.8" rx="3.6" ry="3.6" transform="rotate(35 837.1 133.8)" fill="rgb(0,45,0)"/>
<ellipse cx="843.0" cy="135.0" rx="3.2" ry="3.6" transform="rotate(27 843.0 135.0)" fill="rgb(0,45,0)"/>
<ellipse cx="855.8" cy="133.9" rx="3.7" ry="3.6" transform="rotate(136 855.8 133.9)" fill="rgb(0,45,0)"/>
</g>
</g></g>
<g clip-path="url(#cBR)"><g filter="url(#mt4)">
<rect x="744.6" y="127.1" width="109.9" height="109.9" fill="rgb(185,4,4)"/>
<ellipse cx="804.6" cy="175.1" rx="22" ry="16" fill="rgb(129,2,2)" filter="url(#b4)"/>
<path d="M857.3,237.5L849.0,239.2M786.4,239.3L791.8,307.8M786.4,239.3L792.8,235.7M792.8,235.7L798.6,241.6M745.4,222.4L721.1,218.9M745.4,222.4L747.5,228.1M747.5,228.1L732.2,234.3M767.0,238.9L769.6,236.9M769.6,236.9L776.6,239.6M786.4,239.3L781.2,236.3M781.2,236.3L776.6,239.6M732.3,198.5L745.5,203.5M721.1,218.9L745.7,211.0M745.7,211.0L745.5,203.5M745.2,186.1L749.3,181.9M745.2,186.1L729.4,178.8M749.3,181.9L747.8,173.7M729.4,178.8L747.8,173.7M732.3,198.5L745.4,190.5M745.4,190.5L745.2,186.1M745.4,190.5L750.6,195.0M745.5,203.5L750.2,200.1M750.6,195.0L750.2,200.1M747.8,173.6L755.5,169.6M747.8,173.6L742.3,165.1M755.5,169.6L756.1,165.9M756.1,165.9L752.1,162.6M752.1,162.6L742.3,165.1M747.8,173.6L747.8,173.7M736.6,161.3L742.3,165.1M752.1,162.6L748.9,155.2M736.6,161.3L743.9,154.4M743.9,154.4L748.9,155.2M736.4,141.2L742.4,145.4M743.9,154.4L742.4,145.4M857.3,237.5L858.2,229.8M858.2,229.8L873.1,224.4M849.0,239.2L846.1,236.6M858.2,229.8L852.2,226.0M846.1,236.6L846.4,230.5M852.2,226.0L846.4,230.5M793.5,233.0L792.8,235.7M793.5,233.0L787.2,226.5M781.2,236.3L780.3,229.5M780.3,229.5L787.2,226.5M829.7,172.2L835.8,175.5M829.7,172.2L824.6,174.7M837.2,182.6L827.9,184.0M837.2,182.6L835.8,175.5M824.6,174.7L825.6,181.2M827.9,184.0L825.6,181.2M793.5,233.0L799.0,229.2M799.0,229.2L796.5,219.9M787.2,226.5L789.8,219.6M789.8,219.6L792.4,218.3M792.4,218.3L796.5,219.9M855.6,135.8L853.6,143.8M853.6,143.8L863.2,149.3M866.9,167.5L854.6,161.7M854.6,161.7L854.5,156.0M863.2,149.3L854.5,156.0M853.6,143.8L848.6,145.9M854.5,156.0L849.3,152.0M848.6,145.9L849.3,152.0M798.6,241.6L803.6,238.5M799.0,229.2L801.5,229.9M801.5,229.9L803.6,238.5M812.9,261.0L806.9,238.9M812.9,261.0L817.9,242.8M817.9,242.8L811.8,235.6M811.8,235.6L806.9,238.9M806.9,238.9L803.6,238.5M745.2,239.2L751.2,234.1M745.2,239.2L753.7,275.3M751.2,234.1L757.1,239.3M753.7,275.3L757.1,239.3M751.4,230.8L751.2,234.1M751.4,230.8L747.5,228.1M732.2,234.3L745.2,239.2M761.6,237.1L761.5,228.1M761.6,237.1L757.1,239.3M751.4,230.8L757.4,226.4M757.4,226.4L761.5,228.1M761.6,237.1L767.0,238.9M769.6,236.9L770.1,230.6M780.3,229.5L776.5,227.0M770.1,230.6L776.5,227.0M761.5,228.1L764.0,227.6M770.1,230.6L764.0,227.6M781.1,216.1L789.8,219.6M781.1,216.1L775.9,223.5M775.9,223.5L776.5,227.0M745.7,211.0L747.0,211.9M750.2,200.1L753.2,202.1M753.2,202.1L756.3,209.6M756.3,209.6L747.0,211.9M745.4,222.4L748.9,218.4M757.4,226.4L756.5,220.1M756.5,220.1L748.9,218.4M748.9,218.4L747.0,211.9M759.5,143.5L756.0,148.3M759.5,143.5L766.5,144.8M766.5,144.8L766.5,154.4M755.8,151.4L756.0,148.3M755.8,151.4L761.1,156.2M761.1,156.2L766.5,154.4M748.9,155.2L755.8,151.4M742.4,145.4L747.4,143.6M747.4,143.6L756.0,148.3M756.1,165.9L759.8,162.8M759.8,162.8L761.1,156.2M755.5,169.6L762.0,176.1M759.8,162.8L766.6,165.2M766.6,165.2L768.3,173.1M768.3,173.1L762.0,176.1M736.4,141.2L746.1,132.6M747.4,143.6L750.4,138.2M750.4,138.2L746.1,132.6M846.1,236.6L841.3,238.1M834.5,269.6L841.3,238.1M873.1,224.4L855.4,218.1M868.2,205.8L856.4,212.5M855.4,218.1L856.4,212.5M852.2,226.0L852.8,220.0M855.4,218.1L852.8,220.0M827.5,191.4L826.8,192.0M827.5,191.4L835.5,193.8M826.8,192.0L825.8,199.3M836.7,198.2L835.5,193.8M836.7,198.2L828.3,202.1M828.3,202.1L825.8,199.3M818.1,184.8L825.6,181.2M818.1,184.8L818.3,191.7M827.9,184.0L827.5,191.4M818.3,191.7L826.8,192.0M839.8,184.1L839.5,189.1M839.8,184.1L837.2,182.6M839.5,189.1L835.5,193.8M807.1,202.6L814.0,196.8M807.1,202.6L802.0,199.5M802.0,199.5L802.9,194.6M802.9,194.6L808.8,191.5M808.8,191.5L813.8,195.2M813.8,195.2L814.0,196.8M807.5,208.3L807.1,202.6M807.5,208.3L815.8,210.4M815.8,210.4L817.3,209.6M817.3,209.6L817.5,201.4M817.5,201.4L814.0,196.8M807.6,183.8L803.3,181.9M807.6,183.8L808.8,191.5M799.0,183.4L803.3,181.9M799.0,183.4L797.6,191.6M797.6,191.6L802.9,194.6M811.8,181.4L818.1,184.8M811.8,181.4L807.6,183.8M818.3,191.7L813.8,195.2M817.5,201.4L825.8,199.3M841.4,171.8L840.8,165.3M841.4,171.8L844.4,174.4M844.4,174.4L850.9,172.0M850.9,172.0L848.9,163.9M840.8,165.3L845.6,162.9M848.9,163.9L845.6,162.9M829.7,172.2L832.3,166.3M835.8,175.5L841.4,171.8M832.3,166.3L835.8,163.6M835.8,163.6L840.8,165.3M839.8,184.1L844.7,182.0M844.7,182.0L844.4,174.4M866.9,167.5L856.4,175.5M854.6,161.7L848.9,163.9M856.4,175.5L850.9,172.0M833.4,155.0L835.8,163.6M833.4,155.0L837.1,152.2M837.1,152.2L845.2,156.8M845.2,156.8L845.6,162.9M845.2,156.8L849.3,152.0M855.2,181.0L851.2,183.7M855.2,181.0L865.6,188.0M851.2,183.7L851.2,190.8M851.2,190.8L857.2,194.2M865.6,188.0L857.2,194.2M844.7,182.0L851.2,183.7M856.4,175.5L855.2,181.0M839.5,189.1L847.3,194.2M847.3,194.2L851.2,190.8M868.2,205.8L857.7,200.1M857.7,200.1L857.2,194.2M811.8,181.4L814.8,174.4M824.6,174.7L819.3,171.7M819.3,171.7L814.8,174.4M803.3,181.9L802.8,175.4M802.8,175.4L806.3,170.6M814.8,174.4L806.3,170.6M802.0,163.8L805.1,165.1M802.0,163.8L797.5,166.4M802.8,175.4L795.8,171.9M797.5,166.4L795.8,171.9M806.3,170.6L805.1,165.1M791.3,136.5L791.4,136.6M791.3,136.5L779.1,92.8M791.4,136.6L798.4,134.7M798.4,134.7L811.2,-11.7M779.1,92.8L687.5,-1153.7M783.1,137.8L776.4,134.6M783.1,137.8L791.3,136.5M776.4,134.6L779.1,92.8M751.6,74.1L746.1,132.6M751.6,74.1L687.5,-1153.7M855.6,135.8L852.5,132.7M852.5,132.7L830.8,-1938.9M837.1,152.2L839.7,146.1M848.6,145.9L844.6,144.5M839.7,146.1L844.6,144.5M852.5,132.7L844.0,134.5M844.6,144.5L844.0,134.5M807.7,227.7L812.6,230.7M807.7,227.7L807.1,220.1M807.1,220.1L813.6,217.5M813.6,217.5L819.6,225.0M812.6,230.7L819.5,227.7M819.5,227.7L819.6,225.0M801.5,229.9L807.7,227.7M811.8,235.6L812.6,230.7M803.1,217.5L796.5,219.9M803.1,217.5L807.1,220.1M807.5,208.3L804.0,210.3M815.8,210.4L813.6,217.5M804.0,210.3L803.1,217.5M756.3,209.6L758.9,210.9M756.5,220.1L758.8,216.7M758.9,210.9L758.8,216.7M764.0,227.6L768.0,219.3M758.8,216.7L768.0,219.3M775.9,223.5L769.0,218.8M769.0,218.8L768.0,219.3M766.6,165.2L770.4,162.4M766.5,154.4L770.3,155.9M770.4,162.4L770.3,155.9M768.3,173.1L773.1,173.9M770.4,162.4L777.3,166.3M777.3,166.3L775.9,171.6M775.9,171.6L773.1,173.9M758.0,138.5L757.0,137.4M758.0,138.5L766.4,134.8M757.0,137.4L756.7,108.0M766.4,134.8L756.7,108.0M759.5,143.5L758.0,138.5M750.4,138.2L757.0,137.4M771.6,142.0L772.5,138.1M771.6,142.0L766.5,144.8M772.5,138.1L766.4,134.8M751.6,74.1L756.7,108.0M772.5,138.1L776.4,134.6M830.0,240.1L835.4,237.1M830.0,240.1L825.5,237.6M835.4,237.1L835.0,230.2M825.5,237.6L823.6,230.8M823.6,230.8L831.8,226.7M835.0,230.2L831.8,226.7M834.5,269.6L830.0,240.1M841.3,238.1L835.4,237.1M817.9,242.8L825.5,237.6M846.4,230.5L843.0,227.8M843.0,227.8L835.0,230.2M819.5,227.7L823.6,230.8M819.6,225.0L825.8,217.5M831.8,226.7L833.3,221.2M825.8,217.5L833.3,221.2M817.3,209.6L824.4,211.6M825.8,217.5L824.4,211.6M828.3,202.1L828.8,208.3M828.8,208.3L824.4,211.6M750.6,195.0L756.6,192.0M753.2,202.1L761.0,200.1M761.0,200.1L761.1,194.2M756.6,192.0L761.1,194.2M749.3,181.9L756.8,183.8M756.6,192.0L756.8,183.8M762.0,176.1L761.3,180.8M756.8,183.8L761.3,180.8M794.3,198.9L798.4,201.8M794.3,198.9L786.8,204.8M798.4,201.8L797.8,207.0M797.8,207.0L792.6,209.8M792.6,209.8L787.1,205.9M786.8,204.8L787.1,205.9M792.8,193.8L794.3,198.9M792.8,193.8L797.6,191.6M802.0,199.5L798.4,201.8M804.0,210.3L797.8,207.0M792.4,218.3L792.6,209.8M780.1,213.3L787.1,205.9M780.1,213.3L781.1,216.1M817.8,154.4L824.3,156.7M817.8,154.4L813.4,158.1M819.0,169.0L812.6,161.4M819.0,169.0L824.3,162.2M824.3,162.2L824.3,156.7M813.4,158.1L812.6,161.4M829.8,154.1L824.3,156.7M829.8,154.1L826.5,144.3M826.5,144.3L817.3,148.8M817.3,148.8L817.8,154.4M819.3,171.7L819.0,169.0M805.1,165.1L812.6,161.4M832.3,166.3L824.3,162.2M833.4,155.0L829.8,154.1M798.4,134.7L803.4,136.7M812.2,107.7L807.8,135.4M803.4,136.7L807.8,135.4M819.3,136.1L813.6,139.1M819.3,136.1L812.2,107.7M807.8,135.4L813.6,139.1M799.8,156.4L808.0,154.2M799.8,156.4L797.5,154.3M797.5,154.3L801.2,146.6M808.0,154.2L807.7,147.7M807.7,147.7L801.8,146.2M801.2,146.6L801.8,146.2M802.0,163.8L799.8,156.4M813.4,158.1L808.0,154.2M792.0,163.8L797.5,166.4M792.0,163.8L792.6,154.4M792.6,154.4L797.5,154.3M817.3,148.8L813.5,144.8M813.5,144.8L807.7,147.7M803.4,136.7L801.8,146.2M813.5,144.8L813.6,139.1M791.4,136.6L792.1,142.0M792.1,142.0L801.2,146.6M826.5,144.3L826.8,143.7M839.7,146.1L836.1,143.1M836.1,143.1L826.8,143.7M819.3,136.1L824.6,136.7M824.6,136.7L826.8,143.7M764.8,204.8L772.1,199.7M764.8,204.8L764.2,207.6M764.2,207.6L770.5,212.5M775.9,202.8L772.1,199.7M775.9,202.8L775.7,210.7M775.7,210.7L770.5,212.5M761.0,200.1L764.8,204.8M758.9,210.9L764.2,207.6M769.0,218.8L770.5,212.5M780.1,213.3L775.7,210.7M783.9,201.2L775.9,202.8M783.9,201.2L786.8,204.8M776.7,148.4L782.7,143.8M776.7,148.4L777.6,153.1M777.6,153.1L781.9,155.9M782.7,143.8L789.2,148.2M781.9,155.9L789.2,152.8M789.2,148.2L789.2,152.8M771.6,142.0L776.7,148.4M783.1,137.8L782.7,143.8M770.3,155.9L777.6,153.1M777.3,166.3L781.7,162.8M781.7,162.8L781.9,155.9M792.1,142.0L789.2,148.2M792.0,163.8L786.8,166.4M786.8,166.4L781.7,162.8M792.6,154.4L789.2,152.8M847.3,194.2L846.4,198.8M836.7,198.2L839.8,201.2M839.8,201.2L846.4,198.8M857.7,200.1L851.4,203.0M846.4,198.8L851.4,203.0M856.4,212.5L851.0,207.2M851.4,203.0L851.0,207.2M847.2,217.7L844.9,210.8M847.2,217.7L840.4,221.5M840.4,221.5L836.2,219.7M836.2,219.7L837.3,209.8M844.9,210.8L838.7,208.8M837.3,209.8L838.7,208.8M852.8,220.0L847.2,217.7M851.0,207.2L844.9,210.8M843.0,227.8L840.4,221.5M833.3,221.2L836.2,219.7M828.8,208.3L837.3,209.8M839.8,201.2L838.7,208.8M792.8,193.8L787.1,191.6M783.9,201.2L784.9,193.3M787.1,191.6L784.9,193.3M840.6,131.8L835.5,137.2M840.6,131.8L834.2,111.1M835.5,137.2L826.9,134.4M834.2,111.1L826.9,134.4M844.0,134.5L840.6,131.8M836.1,143.1L835.5,137.2M824.6,136.7L826.9,134.4M787.6,185.8L782.6,181.8M787.6,185.8L793.3,181.5M782.6,181.8L783.8,175.1M793.3,181.5L791.7,174.4M783.8,175.1L788.3,172.8M788.3,172.8L791.7,174.4M799.0,183.4L793.3,181.5M787.1,191.6L787.6,185.8M795.8,171.9L791.7,174.4M786.8,166.4L788.3,172.8M775.9,171.6L783.8,175.1M771.8,195.3L776.2,191.5M771.8,195.3L766.3,192.3M776.2,191.5L775.2,183.0M766.3,192.3L766.1,184.7M766.1,184.7L774.9,182.8M774.9,182.8L775.2,183.0M772.1,199.7L771.8,195.3M784.9,193.3L776.2,191.5M761.1,194.2L766.3,192.3M782.6,181.8L775.2,183.0M761.3,180.8L766.1,184.7M773.1,173.9L774.9,182.8" stroke="rgb(235,18,18)" stroke-width="1.4" fill="none" filter="url(#b05)"/>
<g filter="url(#b05)">
<ellipse cx="740.3" cy="132.4" rx="3.8" ry="4.3" transform="rotate(87 740.3 132.4)" fill="rgb(45,0,0)"/>
<ellipse cx="751.8" cy="133.5" rx="4.1" ry="4.0" transform="rotate(71 751.8 133.5)" fill="rgb(45,0,0)"/>
<ellipse cx="762.1" cy="133.4" rx="4.0" ry="3.7" transform="rotate(53 762.1 133.4)" fill="rgb(45,0,0)"/>
<ellipse cx="768.9" cy="130.9" rx="4.0" ry="3.6" transform="rotate(151 768.9 130.9)" fill="rgb(45,0,0)"/>
<ellipse cx="784.4" cy="131.9" rx="3.8" ry="4.0" transform="rotate(52 784.4 131.9)" fill="rgb(45,0,0)"/>
<ellipse cx="794.8" cy="129.0" rx="3.9" ry="4.6" transform="rotate(26 794.8 129.0)" fill="rgb(45,0,0)"/>
<ellipse cx="803.0" cy="129.7" rx="3.6" ry="4.2" transform="rotate(90 803.0 129.7)" fill="rgb(45,0,0)"/>
<ellipse cx="814.0" cy="131.5" rx="3.4" ry="3.7" transform="rotate(105 814.0 131.5)" fill="rgb(45,0,0)"/>
<ellipse cx="821.8" cy="129.6" rx="4.0" ry="3.6" transform="rotate(41 821.8 129.6)" fill="rgb(45,0,0)"/>
<ellipse cx="833.8" cy="133.3" rx="4.0" ry="4.5" transform="rotate(119 833.8 133.3)" fill="rgb(45,0,0)"/>
<ellipse cx="847.0" cy="129.3" rx="3.0" ry="4.4" transform="rotate(176 847.0 129.3)" fill="rgb(45,0,0)"/>
<ellipse cx="857.8" cy="129.1" rx="4.2" ry="4.3" transform="rotate(9 857.8 129.1)" fill="rgb(45,0,0)"/>
<ellipse cx="745.5" cy="138.4" rx="4.0" ry="3.8" transform="rotate(116 745.5 138.4)" fill="rgb(45,0,0)"/>
<ellipse cx="752.8" cy="142.4" rx="4.1" ry="4.4" transform="rotate(24 752.8 142.4)" fill="rgb(45,0,0)"/>
<ellipse cx="764.5" cy="138.9" rx="3.4" ry="4.6" transform="rotate(27 764.5 138.9)" fill="rgb(45,0,0)"/>
<ellipse cx="779.3" cy="142.4" rx="3.7" ry="4.0" transform="rotate(29 779.3 142.4)" fill="rgb(45,0,0)"/>
<ellipse cx="786.2" cy="142.9" rx="3.7" ry="3.6" transform="rotate(19 786.2 142.9)" fill="rgb(45,0,0)"/>
<ellipse cx="798.1" cy="141.4" rx="3.5" ry="3.6" transform="rotate(10 798.1 141.4)" fill="rgb(45,0,0)"/>
<ellipse cx="806.9" cy="142.8" rx="3.7" ry="4.4" transform="rotate(158 806.9 142.8)" fill="rgb(45,0,0)"/>
<ellipse cx="820.1" cy="142.9" rx="3.2" ry="4.0" transform="rotate(57 820.1 142.9)" fill="rgb(45,0,0)"/>
<ellipse cx="831.8" cy="139.3" rx="3.7" ry="4.1" transform="rotate(169 831.8 139.3)" fill="rgb(45,0,0)"/>
<ellipse cx="839.6" cy="138.6" rx="3.4" ry="3.6" transform="rotate(126 839.6 138.6)" fill="rgb(45,0,0)"/>
<ellipse cx="849.0" cy="138.1" rx="3.2" ry="4.3" transform="rotate(91 849.0 138.1)" fill="rgb(45,0,0)"/>
<ellipse cx="860.4" cy="141.0" rx="4.1" ry="4.2" transform="rotate(112 860.4 141.0)" fill="rgb(45,0,0)"/>
<ellipse cx="736.9" cy="150.7" rx="3.3" ry="4.2" transform="rotate(46 736.9 150.7)" fill="rgb(45,0,0)"/>
<ellipse cx="749.3" cy="148.7" rx="3.9" ry="4.1" transform="rotate(24 749.3 148.7)" fill="rgb(45,0,0)"/>
<ellipse cx="762.5" cy="149.7" rx="3.3" ry="3.9" transform="rotate(133 762.5 149.7)" fill="rgb(45,0,0)"/>
<ellipse cx="770.4" cy="149.7" rx="3.2" ry="4.4" transform="rotate(118 770.4 149.7)" fill="rgb(45,0,0)"/>
<ellipse cx="783.1" cy="147.4" rx="3.1" ry="4.3" transform="rotate(16 783.1 147.4)" fill="rgb(45,0,0)"/>
<ellipse cx="795.2" cy="147.2" rx="3.1" ry="4.2" transform="rotate(43 795.2 147.2)" fill="rgb(45,0,0)"/>
<ellipse cx="804.5" cy="151.6" rx="4.1" ry="4.1" transform="rotate(58 804.5 151.6)" fill="rgb(45,0,0)"/>
<ellipse cx="811.2" cy="151.3" rx="4.0" ry="3.5" transform="rotate(131 811.2 151.3)" fill="rgb(45,0,0)"/>
<ellipse cx="823.7" cy="150.2" rx="3.1" ry="3.7" transform="rotate(171 823.7 150.2)" fill="rgb(45,0,0)"/>
<ellipse cx="832.3" cy="147.3" rx="3.8" ry="3.8" transform="rotate(21 832.3 147.3)" fill="rgb(45,0,0)"/>
<ellipse cx="843.9" cy="152.2" rx="4.2" ry="4.3" transform="rotate(148 843.9 152.2)" fill="rgb(45,0,0)"/>
<ellipse cx="854.6" cy="151.1" rx="3.2" ry="4.2" transform="rotate(64 854.6 151.1)" fill="rgb(45,0,0)"/>
<ellipse cx="747.2" cy="161.5" rx="3.3" ry="3.9" transform="rotate(110 747.2 161.5)" fill="rgb(45,0,0)"/>
<ellipse cx="754.7" cy="158.3" rx="3.4" ry="4.0" transform="rotate(25 754.7 158.3)" fill="rgb(45,0,0)"/>
<ellipse cx="766.2" cy="160.6" rx="4.0" ry="4.3" transform="rotate(145 766.2 160.6)" fill="rgb(45,0,0)"/>
<ellipse cx="774.6" cy="160.4" rx="3.5" ry="4.5" transform="rotate(93 774.6 160.4)" fill="rgb(45,0,0)"/>
<ellipse cx="788.9" cy="161.0" rx="3.7" ry="4.2" transform="rotate(133 788.9 161.0)" fill="rgb(45,0,0)"/>
<ellipse cx="795.4" cy="161.5" rx="3.5" ry="3.6" transform="rotate(6 795.4 161.5)" fill="rgb(45,0,0)"/>
<ellipse cx="806.3" cy="158.2" rx="3.2" ry="3.5" transform="rotate(160 806.3 158.2)" fill="rgb(45,0,0)"/>
<ellipse cx="819.7" cy="161.3" rx="3.6" ry="4.4" transform="rotate(0 819.7 161.3)" fill="rgb(45,0,0)"/>
<ellipse cx="828.8" cy="161.4" rx="3.6" ry="4.6" transform="rotate(112 828.8 161.4)" fill="rgb(45,0,0)"/>
<ellipse cx="840.5" cy="158.1" rx="3.5" ry="4.1" transform="rotate(18 840.5 158.1)" fill="rgb(45,0,0)"/>
<ellipse cx="849.9" cy="157.3" rx="3.2" ry="3.7" transform="rotate(67 849.9 157.3)" fill="rgb(45,0,0)"/>
<ellipse cx="859.2" cy="157.2" rx="3.5" ry="4.6" transform="rotate(27 859.2 157.2)" fill="rgb(45,0,0)"/>
<ellipse cx="740.6" cy="171.1" rx="3.3" ry="3.8" transform="rotate(29 740.6 171.1)" fill="rgb(45,0,0)"/>
<ellipse cx="748.4" cy="166.0" rx="3.3" ry="3.8" transform="rotate(87 748.4 166.0)" fill="rgb(45,0,0)"/>
<ellipse cx="763.4" cy="168.6" rx="3.0" ry="4.6" transform="rotate(66 763.4 168.6)" fill="rgb(45,0,0)"/>
<ellipse cx="770.9" cy="167.0" rx="4.1" ry="4.3" transform="rotate(121 770.9 167.0)" fill="rgb(45,0,0)"/>
<ellipse cx="782.5" cy="170.2" rx="3.6" ry="4.6" transform="rotate(21 782.5 170.2)" fill="rgb(45,0,0)"/>
<ellipse cx="792.4" cy="168.0" rx="3.8" ry="3.8" transform="rotate(121 792.4 168.0)" fill="rgb(45,0,0)"/>
<ellipse cx="800.8" cy="170.7" rx="3.9" ry="3.7" transform="rotate(36 800.8 170.7)" fill="rgb(45,0,0)"/>
<ellipse cx="811.3" cy="168.4" rx="3.0" ry="3.8" transform="rotate(14 811.3 168.4)" fill="rgb(45,0,0)"/>
<ellipse cx="826.2" cy="166.4" rx="3.5" ry="4.7" transform="rotate(66 826.2 166.4)" fill="rgb(45,0,0)"/>
<ellipse cx="836.3" cy="170.8" rx="3.4" ry="4.1" transform="rotate(51 836.3 170.8)" fill="rgb(45,0,0)"/>
<ellipse cx="846.3" cy="170.0" rx="3.9" ry="4.4" transform="rotate(29 846.3 170.0)" fill="rgb(45,0,0)"/>
<ellipse cx="854.1" cy="168.1" rx="3.3" ry="4.3" transform="rotate(169 854.1 168.1)" fill="rgb(45,0,0)"/>
<ellipse cx="743.0" cy="179.6" rx="3.8" ry="4.0" transform="rotate(176 743.0 179.6)" fill="rgb(45,0,0)"/>
<ellipse cx="754.4" cy="177.5" rx="3.0" ry="3.6" transform="rotate(140 754.4 177.5)" fill="rgb(45,0,0)"/>
<ellipse cx="768.8" cy="179.6" rx="3.5" ry="3.6" transform="rotate(99 768.8 179.6)" fill="rgb(45,0,0)"/>
<ellipse cx="779.3" cy="177.5" rx="4.2" ry="4.1" transform="rotate(63 779.3 177.5)" fill="rgb(45,0,0)"/>
<ellipse cx="787.2" cy="179.0" rx="3.1" ry="3.6" transform="rotate(162 787.2 179.0)" fill="rgb(45,0,0)"/>
<ellipse cx="797.8" cy="176.6" rx="3.6" ry="4.6" transform="rotate(10 797.8 176.6)" fill="rgb(45,0,0)"/>
<ellipse cx="808.0" cy="175.8" rx="3.3" ry="3.6" transform="rotate(72 808.0 175.8)" fill="rgb(45,0,0)"/>
<ellipse cx="818.4" cy="180.4" rx="3.1" ry="3.8" transform="rotate(73 818.4 180.4)" fill="rgb(45,0,0)"/>
<ellipse cx="832.2" cy="178.4" rx="3.4" ry="3.6" transform="rotate(7 832.2 178.4)" fill="rgb(45,0,0)"/>
<ellipse cx="840.3" cy="176.9" rx="4.2" ry="3.7" transform="rotate(92 840.3 176.9)" fill="rgb(45,0,0)"/>
<ellipse cx="848.7" cy="176.5" rx="3.5" ry="4.1" transform="rotate(15 848.7 176.5)" fill="rgb(45,0,0)"/>
<ellipse cx="863.0" cy="179.7" rx="3.4" ry="3.6" transform="rotate(98 863.0 179.7)" fill="rgb(45,0,0)"/>
<ellipse cx="738.9" cy="188.6" rx="4.1" ry="4.2" transform="rotate(154 738.9 188.6)" fill="rgb(45,0,0)"/>
<ellipse cx="751.7" cy="188.1" rx="3.3" ry="3.5" transform="rotate(97 751.7 188.1)" fill="rgb(45,0,0)"/>
<ellipse cx="761.7" cy="188.5" rx="3.6" ry="4.2" transform="rotate(68 761.7 188.5)" fill="rgb(45,0,0)"/>
<ellipse cx="770.7" cy="188.2" rx="3.8" ry="4.4" transform="rotate(164 770.7 188.2)" fill="rgb(45,0,0)"/>
<ellipse cx="780.8" cy="187.0" rx="3.4" ry="4.0" transform="rotate(149 780.8 187.0)" fill="rgb(45,0,0)"/>
<ellipse cx="794.1" cy="188.1" rx="3.3" ry="3.6" transform="rotate(56 794.1 188.1)" fill="rgb(45,0,0)"/>
<ellipse cx="802.1" cy="189.5" rx="3.1" ry="4.4" transform="rotate(147 802.1 189.5)" fill="rgb(45,0,0)"/>
<ellipse cx="814.6" cy="187.5" rx="3.4" ry="3.7" transform="rotate(15 814.6 187.5)" fill="rgb(45,0,0)"/>
<ellipse cx="821.8" cy="187.3" rx="3.3" ry="3.6" transform="rotate(77 821.8 187.3)" fill="rgb(45,0,0)"/>
<ellipse cx="833.7" cy="188.0" rx="3.7" ry="3.8" transform="rotate(11 833.7 188.0)" fill="rgb(45,0,0)"/>
<ellipse cx="845.4" cy="188.8" rx="3.8" ry="3.6" transform="rotate(36 845.4 188.8)" fill="rgb(45,0,0)"/>
<ellipse cx="857.0" cy="188.7" rx="3.3" ry="3.9" transform="rotate(18 857.0 188.7)" fill="rgb(45,0,0)"/>
<ellipse cx="744.1" cy="197.2" rx="3.5" ry="3.9" transform="rotate(135 744.1 197.2)" fill="rgb(45,0,0)"/>
<ellipse cx="756.8" cy="198.2" rx="3.7" ry="4.6" transform="rotate(118 756.8 198.2)" fill="rgb(45,0,0)"/>
<ellipse cx="765.3" cy="198.2" rx="3.9" ry="4.2" transform="rotate(80 765.3 198.2)" fill="rgb(45,0,0)"/>
<ellipse cx="778.7" cy="197.4" rx="4.0" ry="4.3" transform="rotate(172 778.7 197.4)" fill="rgb(45,0,0)"/>
<ellipse cx="789.9" cy="198.9" rx="3.9" ry="4.3" transform="rotate(48 789.9 198.9)" fill="rgb(45,0,0)"/>
<ellipse cx="798.0" cy="196.6" rx="4.0" ry="4.0" transform="rotate(23 798.0 196.6)" fill="rgb(45,0,0)"/>
<ellipse cx="806.7" cy="198.2" rx="3.1" ry="3.7" transform="rotate(47 806.7 198.2)" fill="rgb(45,0,0)"/>
<ellipse cx="821.5" cy="196.3" rx="3.8" ry="3.8" transform="rotate(11 821.5 196.3)" fill="rgb(45,0,0)"/>
<ellipse cx="830.7" cy="197.6" rx="3.9" ry="4.2" transform="rotate(5 830.7 197.6)" fill="rgb(45,0,0)"/>
<ellipse cx="841.5" cy="194.6" rx="3.1" ry="3.7" transform="rotate(64 841.5 194.6)" fill="rgb(45,0,0)"/>
<ellipse cx="852.4" cy="196.8" rx="4.0" ry="4.6" transform="rotate(110 852.4 196.8)" fill="rgb(45,0,0)"/>
<ellipse cx="862.4" cy="196.0" rx="3.3" ry="4.0" transform="rotate(65 862.4 196.0)" fill="rgb(45,0,0)"/>
<ellipse cx="740.3" cy="207.2" rx="3.4" ry="3.5" transform="rotate(105 740.3 207.2)" fill="rgb(45,0,0)"/>
<ellipse cx="750.9" cy="206.9" rx="4.0" ry="4.4" transform="rotate(17 750.9 206.9)" fill="rgb(45,0,0)"/>
<ellipse cx="758.2" cy="203.9" rx="3.6" ry="3.7" transform="rotate(128 758.2 203.9)" fill="rgb(45,0,0)"/>
<ellipse cx="771.1" cy="206.5" rx="3.5" ry="4.6" transform="rotate(143 771.1 206.5)" fill="rgb(45,0,0)"/>
<ellipse cx="780.5" cy="206.7" rx="3.1" ry="3.9" transform="rotate(165 780.5 206.7)" fill="rgb(45,0,0)"/>
<ellipse cx="793.3" cy="203.3" rx="3.6" ry="4.0" transform="rotate(79 793.3 203.3)" fill="rgb(45,0,0)"/>
<ellipse cx="803.0" cy="204.2" rx="3.9" ry="4.6" transform="rotate(96 803.0 204.2)" fill="rgb(45,0,0)"/>
<ellipse cx="811.4" cy="203.7" rx="4.2" ry="4.2" transform="rotate(19 811.4 203.7)" fill="rgb(45,0,0)"/>
<ellipse cx="823.4" cy="204.0" rx="4.0" ry="4.0" transform="rotate(9 823.4 204.0)" fill="rgb(45,0,0)"/>
<ellipse cx="833.3" cy="203.2" rx="4.2" ry="3.5" transform="rotate(104 833.3 203.2)" fill="rgb(45,0,0)"/>
<ellipse cx="845.4" cy="205.1" rx="3.6" ry="4.6" transform="rotate(71 845.4 205.1)" fill="rgb(45,0,0)"/>
<ellipse cx="856.8" cy="206.2" rx="3.3" ry="3.8" transform="rotate(36 856.8 206.2)" fill="rgb(45,0,0)"/>
<ellipse cx="743.5" cy="217.2" rx="3.7" ry="3.9" transform="rotate(135 743.5 217.2)" fill="rgb(45,0,0)"/>
<ellipse cx="752.8" cy="214.5" rx="3.3" ry="3.9" transform="rotate(45 752.8 214.5)" fill="rgb(45,0,0)"/>
<ellipse cx="764.9" cy="214.6" rx="4.2" ry="4.5" transform="rotate(153 764.9 214.6)" fill="rgb(45,0,0)"/>
<ellipse cx="774.6" cy="216.8" rx="3.7" ry="4.0" transform="rotate(26 774.6 216.8)" fill="rgb(45,0,0)"/>
<ellipse cx="786.6" cy="212.5" rx="4.0" ry="4.1" transform="rotate(7 786.6 212.5)" fill="rgb(45,0,0)"/>
<ellipse cx="798.5" cy="212.9" rx="3.2" ry="3.6" transform="rotate(129 798.5 212.9)" fill="rgb(45,0,0)"/>
<ellipse cx="808.7" cy="214.2" rx="4.1" ry="3.7" transform="rotate(143 808.7 214.2)" fill="rgb(45,0,0)"/>
<ellipse cx="819.5" cy="217.5" rx="3.4" ry="4.3" transform="rotate(155 819.5 217.5)" fill="rgb(45,0,0)"/>
<ellipse cx="831.4" cy="214.6" rx="3.7" ry="4.5" transform="rotate(68 831.4 214.6)" fill="rgb(45,0,0)"/>
<ellipse cx="842.0" cy="215.8" rx="3.0" ry="4.1" transform="rotate(106 842.0 215.8)" fill="rgb(45,0,0)"/>
<ellipse cx="850.2" cy="213.1" rx="3.2" ry="4.0" transform="rotate(57 850.2 213.1)" fill="rgb(45,0,0)"/>
<ellipse cx="862.0" cy="215.4" rx="3.0" ry="3.9" transform="rotate(69 862.0 215.4)" fill="rgb(45,0,0)"/>
<ellipse cx="742.1" cy="226.9" rx="3.6" ry="4.3" transform="rotate(72 742.1 226.9)" fill="rgb(45,0,0)"/>
<ellipse cx="750.8" cy="223.6" rx="4.2" ry="4.5" transform="rotate(166 750.8 223.6)" fill="rgb(45,0,0)"/>
<ellipse cx="762.9" cy="221.7" rx="3.8" ry="4.3" transform="rotate(97 762.9 221.7)" fill="rgb(45,0,0)"/>
<ellipse cx="769.3" cy="224.7" rx="4.0" ry="3.9" transform="rotate(107 769.3 224.7)" fill="rgb(45,0,0)"/>
<ellipse cx="782.6" cy="222.4" rx="3.8" ry="4.1" transform="rotate(51 782.6 222.4)" fill="rgb(45,0,0)"/>
<ellipse cx="793.3" cy="226.5" rx="3.1" ry="3.6" transform="rotate(64 793.3 226.5)" fill="rgb(45,0,0)"/>
<ellipse cx="802.5" cy="224.0" rx="3.7" ry="4.4" transform="rotate(129 802.5 224.0)" fill="rgb(45,0,0)"/>
<ellipse cx="812.3" cy="223.3" rx="3.4" ry="4.6" transform="rotate(49 812.3 223.3)" fill="rgb(45,0,0)"/>
<ellipse cx="827.0" cy="223.7" rx="3.9" ry="3.6" transform="rotate(136 827.0 223.7)" fill="rgb(45,0,0)"/>
<ellipse cx="837.5" cy="226.6" rx="3.8" ry="4.6" transform="rotate(161 837.5 226.6)" fill="rgb(45,0,0)"/>
<ellipse cx="846.1" cy="223.1" rx="3.8" ry="4.5" transform="rotate(133 846.1 223.1)" fill="rgb(45,0,0)"/>
<ellipse cx="858.8" cy="224.4" rx="3.7" ry="3.8" transform="rotate(93 858.8 224.4)" fill="rgb(45,0,0)"/>
<ellipse cx="744.4" cy="232.7" rx="4.1" ry="3.8" transform="rotate(175 744.4 232.7)" fill="rgb(45,0,0)"/>
<ellipse cx="758.1" cy="233.7" rx="3.7" ry="4.0" transform="rotate(1 758.1 233.7)" fill="rgb(45,0,0)"/>
<ellipse cx="764.9" cy="233.6" rx="3.5" ry="3.7" transform="rotate(118 764.9 233.6)" fill="rgb(45,0,0)"/>
<ellipse cx="774.7" cy="234.4" rx="4.1" ry="4.6" transform="rotate(110 774.7 234.4)" fill="rgb(45,0,0)"/>
<ellipse cx="787.0" cy="232.6" rx="3.5" ry="3.6" transform="rotate(124 787.0 232.6)" fill="rgb(45,0,0)"/>
<ellipse cx="799.4" cy="235.5" rx="3.7" ry="4.4" transform="rotate(67 799.4 235.5)" fill="rgb(45,0,0)"/>
<ellipse cx="805.9" cy="233.9" rx="4.1" ry="3.8" transform="rotate(55 805.9 233.9)" fill="rgb(45,0,0)"/>
<ellipse cx="817.9" cy="236.1" rx="3.3" ry="4.2" transform="rotate(162 817.9 236.1)" fill="rgb(45,0,0)"/>
<ellipse cx="831.2" cy="232.3" rx="3.2" ry="4.3" transform="rotate(138 831.2 232.3)" fill="rgb(45,0,0)"/>
<ellipse cx="839.0" cy="231.8" rx="3.3" ry="3.6" transform="rotate(102 839.0 231.8)" fill="rgb(45,0,0)"/>
<ellipse cx="853.5" cy="232.6" rx="4.0" ry="4.6" transform="rotate(131 853.5 232.6)" fill="rgb(45,0,0)"/>
<ellipse cx="862.1" cy="233.6" rx="3.5" ry="4.0" transform="rotate(95 862.1 233.6)" fill="rgb(45,0,0)"/>
<ellipse cx="740.4" cy="243.6" rx="4.1" ry="3.9" transform="rotate(51 740.4 243.6)" fill="rgb(45,0,0)"/>
<ellipse cx="751.5" cy="241.0" rx="3.7" ry="4.7" transform="rotate(34 751.5 241.0)" fill="rgb(45,0,0)"/>
<ellipse cx="762.2" cy="242.0" rx="3.0" ry="3.6" transform="rotate(101 762.2 242.0)" fill="rgb(45,0,0)"/>
<ellipse cx="771.6" cy="242.2" rx="3.7" ry="3.7" transform="rotate(34 771.6 242.2)" fill="rgb(45,0,0)"/>
<ellipse cx="780.9" cy="243.2" rx="3.7" ry="4.3" transform="rotate(124 780.9 243.2)" fill="rgb(45,0,0)"/>
<ellipse cx="792.4" cy="242.3" rx="3.9" ry="3.6" transform="rotate(87 792.4 242.3)" fill="rgb(45,0,0)"/>
<ellipse cx="804.5" cy="243.5" rx="4.0" ry="4.6" transform="rotate(57 804.5 243.5)" fill="rgb(45,0,0)"/>
<ellipse cx="811.3" cy="241.7" rx="4.0" ry="4.3" transform="rotate(167 811.3 241.7)" fill="rgb(45,0,0)"/>
<ellipse cx="824.2" cy="245.3" rx="3.3" ry="4.3" transform="rotate(151 824.2 245.3)" fill="rgb(45,0,0)"/>
<ellipse cx="837.1" cy="243.3" rx="3.6" ry="3.6" transform="rotate(35 837.1 243.3)" fill="rgb(45,0,0)"/>
<ellipse cx="843.0" cy="244.5" rx="3.2" ry="3.6" transform="rotate(27 843.0 244.5)" fill="rgb(45,0,0)"/>
<ellipse cx="855.8" cy="243.4" rx="3.7" ry="3.6" transform="rotate(136 855.8 243.4)" fill="rgb(45,0,0)"/>
</g>
</g></g>
<line x1="635" y1="127.1" x2="854.5" y2="127.1" stroke="#6a6a40" stroke-width="0.6" opacity="0.6"/>
<text transform="translate(628.3,118.3) rotate(-90)" font-size="18.6" font-weight="bold" text-anchor="start" fill="#000"  textLength="90" lengthAdjust="spacingAndGlyphs" style="">YAP-eGFP</text>
<text transform="translate(628.3,213.3) rotate(-90)" font-size="18.6" font-weight="bold" text-anchor="start" fill="#000"  textLength="60" lengthAdjust="spacingAndGlyphs" style="">YAP IF</text>
<text x="800.0" y="217.0" font-size="16.5" font-weight="bold" text-anchor="start" fill="#fff"  textLength="49" lengthAdjust="spacingAndGlyphs" style="">20 μm</text>
<rect x="817.5" y="224.7" width="21.5" height="5.7" fill="#fff"/>
<text x="0.3" y="315.3" font-size="29.2" font-weight="bold" text-anchor="start" fill="#000"  style="">e</text>
<g clip-path="url(#eTL)"><g filter="url(#mt3)"><rect x="25" y="355" width="129.6" height="130" fill="rgb(10,140,10)"/>
<g filter="url(#b15)" fill="rgb(0,18,0)">
<polygon points="80,350 114,350 110,382 106,404 98,398 88,378"/>
<polygon points="20,350 46,350 42,372 46,400 44,438 20,446"/>
<ellipse cx="58" cy="362" rx="20" ry="6" fill="rgb(0,70,0)"/>
<ellipse cx="32" cy="376" rx="8" ry="9" fill="rgb(5,60,5)"/>
</g>
<g filter="url(#b15)" fill="none" stroke="rgb(0,40,0)">
<path d="M20,441 C35,436 55,434 66,444 C78,455 90,470 100,490" stroke-width="4.5"/>
<path d="M106,402 C110,412 114,424 118,432 C122,440 120,452 116,470 C113,480 110,488 108,492" stroke-width="3.5"/>
<path d="M118,432 C126,428 140,426 160,424" stroke-width="2.5"/>
<path d="M104,484 L128,440" stroke-width="2"/>
</g>
<g filter="url(#b1)">
<ellipse cx="70" cy="420" rx="9" ry="9" fill="rgb(20,195,20)"/>
<ellipse cx="70" cy="420" rx="5.6" ry="5.6" fill="rgb(10,140,10)"/>
<circle cx="69" cy="421" r="2.2" fill="rgb(0,50,0)"/>
<ellipse cx="89" cy="421" rx="8" ry="11" fill="rgb(20,195,20)"/>
<ellipse cx="89" cy="421" rx="5.0" ry="6.8" fill="rgb(10,140,10)"/>
<circle cx="88" cy="422" r="2.0" fill="rgb(0,50,0)"/>
<ellipse cx="108" cy="435" rx="11" ry="11" fill="rgb(20,195,20)"/>
<ellipse cx="108" cy="435" rx="6.8" ry="6.8" fill="rgb(10,140,10)"/>
<circle cx="107" cy="436" r="2.8" fill="rgb(0,50,0)"/>
<ellipse cx="54" cy="456" rx="12" ry="12" fill="rgb(20,195,20)"/>
<ellipse cx="54" cy="456" rx="7.4" ry="7.4" fill="rgb(10,140,10)"/>
<circle cx="53" cy="457" r="3.0" fill="rgb(0,50,0)"/>
<ellipse cx="133" cy="400" rx="9" ry="12" fill="rgb(20,195,20)"/>
<ellipse cx="133" cy="400" rx="5.6" ry="7.4" fill="rgb(10,140,10)"/>
<circle cx="132" cy="401" r="2.2" fill="rgb(0,50,0)"/>
<ellipse cx="142" cy="458" rx="9" ry="9" fill="rgb(20,195,20)"/>
<ellipse cx="142" cy="458" rx="5.6" ry="5.6" fill="rgb(10,140,10)"/>
<circle cx="141" cy="459" r="2.2" fill="rgb(0,50,0)"/>
<ellipse cx="70" cy="388" rx="6" ry="5" fill="rgb(5,95,5)"/>
</g>
</g></g>
<g clip-path="url(#eTR)"><g filter="url(#tx4)"><rect x="154.6" y="355" width="129.7" height="130" fill="#000"/>
<g filter="url(#b05)">
<ellipse cx="196" cy="386" rx="11" ry="14" transform="rotate(-15 196 386)" fill="rgb(190,4,4)"/>
<circle cx="196.5" cy="393.7" r="1.1" fill="rgb(95,2,2)" opacity="0.75"/>
<circle cx="190.8" cy="381.0" r="0.9" fill="rgb(95,2,2)" opacity="0.75"/>
<circle cx="203.5" cy="386.8" r="1.0" fill="rgb(95,2,2)" opacity="0.75"/>
<circle cx="196.8" cy="396.4" r="1.2" fill="rgb(95,2,2)" opacity="0.75"/>
<circle cx="198.9" cy="379.8" r="1.4" fill="rgb(95,2,2)" opacity="0.75"/>
<circle cx="199.8" cy="392.8" r="1.6" fill="rgb(95,2,2)" opacity="0.75"/>
<circle cx="189.0" cy="384.7" r="1.4" fill="rgb(95,2,2)" opacity="0.75"/>
<circle cx="202.6" cy="389.6" r="1.3" fill="rgb(95,2,2)" opacity="0.75"/>
<circle cx="195.5" cy="387.8" r="1.6" fill="rgb(95,2,2)" opacity="0.75"/>
<circle cx="189.1" cy="387.5" r="1.6" fill="rgb(95,2,2)" opacity="0.75"/>
<circle cx="194.2" cy="376.2" r="1.2" fill="rgb(95,2,2)" opacity="0.75"/>
<circle cx="197.7" cy="379.4" r="1.6" fill="rgb(95,2,2)" opacity="0.75"/>
<circle cx="197.9" cy="383.7" r="0.9" fill="rgb(95,2,2)" opacity="0.75"/>
<circle cx="197.7" cy="396.1" r="1.2" fill="rgb(95,2,2)" opacity="0.75"/>
<circle cx="192.8" cy="381.9" r="1.3" fill="rgb(95,2,2)" opacity="0.75"/>
<circle cx="192.3" cy="390.1" r="1.3" fill="rgb(95,2,2)" opacity="0.75"/>
<circle cx="189.2" cy="381.0" r="1.4" fill="rgb(95,2,2)" opacity="0.75"/>
<circle cx="202.9" cy="381.8" r="1.7" fill="rgb(95,2,2)" opacity="0.75"/>
<circle cx="194.4" cy="382.3" r="1.6" fill="rgb(95,2,2)" opacity="0.75"/>
<circle cx="203.7" cy="383.8" r="1.3" fill="rgb(95,2,2)" opacity="0.75"/>
<circle cx="195.1" cy="381.3" r="1.5" fill="rgb(95,2,2)" opacity="0.75"/>
<circle cx="192.1" cy="383.5" r="0.9" fill="rgb(95,2,2)" opacity="0.75"/>
<circle cx="201.0" cy="377.7" r="0.9" fill="rgb(95,2,2)" opacity="0.75"/>
<circle cx="197.7" cy="379.6" r="0.9" fill="rgb(95,2,2)" opacity="0.75"/>
<circle cx="194.0" cy="394.9" r="1.6" fill="rgb(95,2,2)" opacity="0.75"/>
<ellipse cx="263" cy="400" rx="9.5" ry="13" transform="rotate(5 263 400)" fill="rgb(190,4,4)"/>
<circle cx="268.4" cy="402.1" r="0.8" fill="rgb(95,2,2)" opacity="0.75"/>
<circle cx="262.2" cy="394.5" r="1.6" fill="rgb(95,2,2)" opacity="0.75"/>
<circle cx="268.0" cy="399.2" r="1.7" fill="rgb(95,2,2)" opacity="0.75"/>
<circle cx="262.3" cy="402.5" r="1.3" fill="rgb(95,2,2)" opacity="0.75"/>
<circle cx="266.1" cy="400.8" r="1.2" fill="rgb(95,2,2)" opacity="0.75"/>
<circle cx="260.8" cy="397.5" r="0.8" fill="rgb(95,2,2)" opacity="0.75"/>
<circle cx="265.7" cy="396.0" r="1.7" fill="rgb(95,2,2)" opacity="0.75"/>
<circle cx="266.5" cy="396.4" r="1.2" fill="rgb(95,2,2)" opacity="0.75"/>
<circle cx="257.3" cy="399.0" r="1.3" fill="rgb(95,2,2)" opacity="0.75"/>
<circle cx="257.8" cy="397.2" r="1.6" fill="rgb(95,2,2)" opacity="0.75"/>
<circle cx="258.3" cy="399.7" r="1.4" fill="rgb(95,2,2)" opacity="0.75"/>
<circle cx="263.3" cy="405.3" r="1.7" fill="rgb(95,2,2)" opacity="0.75"/>
<circle cx="257.8" cy="399.0" r="0.8" fill="rgb(95,2,2)" opacity="0.75"/>
<circle cx="258.3" cy="403.8" r="0.8" fill="rgb(95,2,2)" opacity="0.75"/>
<circle cx="258.8" cy="394.8" r="0.9" fill="rgb(95,2,2)" opacity="0.75"/>
<circle cx="259.6" cy="395.2" r="1.4" fill="rgb(95,2,2)" opacity="0.75"/>
<circle cx="259.4" cy="406.6" r="1.5" fill="rgb(95,2,2)" opacity="0.75"/>
<circle cx="264.7" cy="400.3" r="1.4" fill="rgb(95,2,2)" opacity="0.75"/>
<circle cx="266.5" cy="398.9" r="1.2" fill="rgb(95,2,2)" opacity="0.75"/>
<circle cx="259.6" cy="397.0" r="1.1" fill="rgb(95,2,2)" opacity="0.75"/>
<ellipse cx="199.8" cy="419.6" rx="9" ry="13.5" transform="rotate(-15 199.8 419.6)" fill="rgb(190,4,4)"/>
<circle cx="198.2" cy="425.3" r="1.3" fill="rgb(95,2,2)" opacity="0.75"/>
<circle cx="198.5" cy="425.5" r="1.5" fill="rgb(95,2,2)" opacity="0.75"/>
<circle cx="204.8" cy="420.9" r="1.5" fill="rgb(95,2,2)" opacity="0.75"/>
<circle cx="198.6" cy="424.0" r="1.5" fill="rgb(95,2,2)" opacity="0.75"/>
<circle cx="200.0" cy="424.0" r="1.2" fill="rgb(95,2,2)" opacity="0.75"/>
<circle cx="199.1" cy="416.5" r="1.1" fill="rgb(95,2,2)" opacity="0.75"/>
<circle cx="196.7" cy="427.6" r="1.2" fill="rgb(95,2,2)" opacity="0.75"/>
<circle cx="201.5" cy="416.3" r="1.1" fill="rgb(95,2,2)" opacity="0.75"/>
<circle cx="196.1" cy="411.9" r="1.2" fill="rgb(95,2,2)" opacity="0.75"/>
<circle cx="200.2" cy="423.1" r="1.3" fill="rgb(95,2,2)" opacity="0.75"/>
<circle cx="202.0" cy="428.1" r="1.6" fill="rgb(95,2,2)" opacity="0.75"/>
<circle cx="201.2" cy="424.5" r="1.5" fill="rgb(95,2,2)" opacity="0.75"/>
<circle cx="196.0" cy="412.5" r="1.1" fill="rgb(95,2,2)" opacity="0.75"/>
<circle cx="202.3" cy="423.6" r="1.5" fill="rgb(95,2,2)" opacity="0.75"/>
<circle cx="199.3" cy="425.5" r="1.2" fill="rgb(95,2,2)" opacity="0.75"/>
<circle cx="196.0" cy="422.7" r="1.6" fill="rgb(95,2,2)" opacity="0.75"/>
<circle cx="200.1" cy="420.2" r="1.6" fill="rgb(95,2,2)" opacity="0.75"/>
<circle cx="204.7" cy="412.7" r="1.2" fill="rgb(95,2,2)" opacity="0.75"/>
<circle cx="206.0" cy="416.6" r="1.0" fill="rgb(95,2,2)" opacity="0.75"/>
<circle cx="199.6" cy="410.3" r="1.4" fill="rgb(95,2,2)" opacity="0.75"/>
<ellipse cx="220.4" cy="421.3" rx="9.5" ry="14" transform="rotate(-10 220.4 421.3)" fill="rgb(190,4,4)"/>
<circle cx="216.6" cy="420.6" r="1.1" fill="rgb(95,2,2)" opacity="0.75"/>
<circle cx="220.7" cy="424.0" r="1.3" fill="rgb(95,2,2)" opacity="0.75"/>
<circle cx="218.9" cy="430.5" r="0.8" fill="rgb(95,2,2)" opacity="0.75"/>
<circle cx="225.3" cy="416.3" r="1.6" fill="rgb(95,2,2)" opacity="0.75"/>
<circle cx="225.8" cy="415.3" r="1.3" fill="rgb(95,2,2)" opacity="0.75"/>
<circle cx="226.5" cy="422.0" r="1.0" fill="rgb(95,2,2)" opacity="0.75"/>
<circle cx="218.6" cy="429.4" r="1.3" fill="rgb(95,2,2)" opacity="0.75"/>
<circle cx="214.5" cy="426.5" r="1.4" fill="rgb(95,2,2)" opacity="0.75"/>
<circle cx="218.5" cy="425.7" r="1.6" fill="rgb(95,2,2)" opacity="0.75"/>
<circle cx="214.2" cy="422.6" r="1.1" fill="rgb(95,2,2)" opacity="0.75"/>
<circle cx="222.1" cy="428.6" r="1.5" fill="rgb(95,2,2)" opacity="0.75"/>
<circle cx="223.4" cy="429.5" r="1.6" fill="rgb(95,2,2)" opacity="0.75"/>
<circle cx="222.6" cy="412.4" r="0.8" fill="rgb(95,2,2)" opacity="0.75"/>
<circle cx="215.8" cy="414.2" r="0.8" fill="rgb(95,2,2)" opacity="0.75"/>
<circle cx="219.9" cy="426.7" r="1.3" fill="rgb(95,2,2)" opacity="0.75"/>
<circle cx="216.1" cy="424.7" r="1.5" fill="rgb(95,2,2)" opacity="0.75"/>
<circle cx="222.1" cy="421.3" r="0.9" fill="rgb(95,2,2)" opacity="0.75"/>
<circle cx="221.7" cy="423.2" r="1.7" fill="rgb(95,2,2)" opacity="0.75"/>
<circle cx="221.7" cy="418.9" r="1.3" fill="rgb(95,2,2)" opacity="0.75"/>
<circle cx="218.8" cy="426.7" r="1.1" fill="rgb(95,2,2)" opacity="0.75"/>
<circle cx="217.1" cy="414.9" r="1.1" fill="rgb(95,2,2)" opacity="0.75"/>
<circle cx="221.9" cy="426.9" r="0.9" fill="rgb(95,2,2)" opacity="0.75"/>
<ellipse cx="239.8" cy="434.7" rx="14.5" ry="13" transform="rotate(0 239.8 434.7)" fill="rgb(190,4,4)"/>
<circle cx="231.2" cy="431.9" r="1.1" fill="rgb(95,2,2)" opacity="0.75"/>
<circle cx="243.8" cy="436.7" r="1.1" fill="rgb(95,2,2)" opacity="0.75"/>
<circle cx="232.2" cy="429.4" r="1.1" fill="rgb(95,2,2)" opacity="0.75"/>
<circle cx="242.5" cy="427.4" r="1.2" fill="rgb(95,2,2)" opacity="0.75"/>
<circle cx="234.5" cy="439.6" r="1.4" fill="rgb(95,2,2)" opacity="0.75"/>
<circle cx="231.8" cy="438.6" r="1.2" fill="rgb(95,2,2)" opacity="0.75"/>
<circle cx="240.0" cy="441.8" r="1.4" fill="rgb(95,2,2)" opacity="0.75"/>
<circle cx="246.2" cy="437.5" r="1.2" fill="rgb(95,2,2)" opacity="0.75"/>
<circle cx="247.5" cy="428.2" r="1.1" fill="rgb(95,2,2)" opacity="0.75"/>
<circle cx="247.5" cy="429.5" r="1.0" fill="rgb(95,2,2)" opacity="0.75"/>
<circle cx="236.1" cy="435.5" r="1.5" fill="rgb(95,2,2)" opacity="0.75"/>
<circle cx="234.4" cy="426.9" r="1.5" fill="rgb(95,2,2)" opacity="0.75"/>
<circle cx="235.2" cy="427.4" r="1.3" fill="rgb(95,2,2)" opacity="0.75"/>
<circle cx="246.4" cy="439.2" r="0.8" fill="rgb(95,2,2)" opacity="0.75"/>
<circle cx="245.7" cy="441.4" r="0.8" fill="rgb(95,2,2)" opacity="0.75"/>
<circle cx="242.7" cy="436.4" r="1.6" fill="rgb(95,2,2)" opacity="0.75"/>
<circle cx="240.5" cy="436.0" r="1.6" fill="rgb(95,2,2)" opacity="0.75"/>
<circle cx="247.0" cy="440.9" r="1.4" fill="rgb(95,2,2)" opacity="0.75"/>
<circle cx="245.3" cy="426.5" r="1.3" fill="rgb(95,2,2)" opacity="0.75"/>
<circle cx="240.4" cy="432.9" r="1.5" fill="rgb(95,2,2)" opacity="0.75"/>
<circle cx="230.6" cy="434.1" r="0.9" fill="rgb(95,2,2)" opacity="0.75"/>
<circle cx="239.7" cy="425.3" r="0.9" fill="rgb(95,2,2)" opacity="0.75"/>
<circle cx="236.1" cy="441.2" r="1.5" fill="rgb(95,2,2)" opacity="0.75"/>
<circle cx="240.0" cy="438.8" r="1.0" fill="rgb(95,2,2)" opacity="0.75"/>
<circle cx="232.8" cy="429.1" r="1.2" fill="rgb(95,2,2)" opacity="0.75"/>
<circle cx="235.2" cy="439.2" r="1.1" fill="rgb(95,2,2)" opacity="0.75"/>
<circle cx="237.1" cy="436.1" r="1.3" fill="rgb(95,2,2)" opacity="0.75"/>
<circle cx="246.7" cy="433.6" r="1.5" fill="rgb(95,2,2)" opacity="0.75"/>
<circle cx="244.6" cy="441.6" r="1.5" fill="rgb(95,2,2)" opacity="0.75"/>
<circle cx="236.2" cy="428.5" r="1.2" fill="rgb(95,2,2)" opacity="0.75"/>
<circle cx="233.4" cy="427.5" r="0.9" fill="rgb(95,2,2)" opacity="0.75"/>
<ellipse cx="185.2" cy="458.5" rx="14.5" ry="12.5" transform="rotate(0 185.2 458.5)" fill="rgb(190,4,4)"/>
<circle cx="193.0" cy="463.1" r="1.6" fill="rgb(95,2,2)" opacity="0.75"/>
<circle cx="178.0" cy="457.8" r="1.4" fill="rgb(95,2,2)" opacity="0.75"/>
<circle cx="187.4" cy="463.0" r="1.0" fill="rgb(95,2,2)" opacity="0.75"/>
<circle cx="180.0" cy="455.8" r="1.0" fill="rgb(95,2,2)" opacity="0.75"/>
<circle cx="181.4" cy="450.0" r="1.1" fill="rgb(95,2,2)" opacity="0.75"/>
<circle cx="183.3" cy="452.7" r="1.6" fill="rgb(95,2,2)" opacity="0.75"/>
<circle cx="180.4" cy="456.0" r="1.0" fill="rgb(95,2,2)" opacity="0.75"/>
<circle cx="192.7" cy="459.4" r="1.1" fill="rgb(95,2,2)" opacity="0.75"/>
<circle cx="188.3" cy="463.5" r="1.1" fill="rgb(95,2,2)" opacity="0.75"/>
<circle cx="185.8" cy="455.0" r="1.7" fill="rgb(95,2,2)" opacity="0.75"/>
<circle cx="176.9" cy="459.4" r="1.2" fill="rgb(95,2,2)" opacity="0.75"/>
<circle cx="190.2" cy="451.2" r="1.3" fill="rgb(95,2,2)" opacity="0.75"/>
<circle cx="176.0" cy="459.4" r="1.6" fill="rgb(95,2,2)" opacity="0.75"/>
<circle cx="177.7" cy="463.2" r="1.7" fill="rgb(95,2,2)" opacity="0.75"/>
<circle cx="180.1" cy="459.4" r="1.0" fill="rgb(95,2,2)" opacity="0.75"/>
<circle cx="183.4" cy="451.0" r="1.7" fill="rgb(95,2,2)" opacity="0.75"/>
<circle cx="188.4" cy="454.8" r="1.0" fill="rgb(95,2,2)" opacity="0.75"/>
<circle cx="184.9" cy="462.6" r="1.4" fill="rgb(95,2,2)" opacity="0.75"/>
<circle cx="191.7" cy="451.6" r="1.0" fill="rgb(95,2,2)" opacity="0.75"/>
<circle cx="189.2" cy="454.6" r="1.2" fill="rgb(95,2,2)" opacity="0.75"/>
<circle cx="184.8" cy="455.8" r="0.9" fill="rgb(95,2,2)" opacity="0.75"/>
<circle cx="188.2" cy="454.1" r="1.1" fill="rgb(95,2,2)" opacity="0.75"/>
<circle cx="177.4" cy="454.8" r="0.8" fill="rgb(95,2,2)" opacity="0.75"/>
<circle cx="181.6" cy="463.8" r="1.2" fill="rgb(95,2,2)" opacity="0.75"/>
<circle cx="187.3" cy="465.4" r="1.7" fill="rgb(95,2,2)" opacity="0.75"/>
<circle cx="179.0" cy="462.9" r="0.9" fill="rgb(95,2,2)" opacity="0.75"/>
<circle cx="183.8" cy="466.1" r="0.9" fill="rgb(95,2,2)" opacity="0.75"/>
<circle cx="193.1" cy="452.7" r="0.9" fill="rgb(95,2,2)" opacity="0.75"/>
<circle cx="191.4" cy="456.4" r="1.5" fill="rgb(95,2,2)" opacity="0.75"/>
<circle cx="185.5" cy="453.4" r="1.4" fill="rgb(95,2,2)" opacity="0.75"/>
<ellipse cx="271.4" cy="459" rx="11" ry="10" transform="rotate(0 271.4 459)" fill="rgb(190,4,4)"/>
<circle cx="267.2" cy="453.5" r="1.0" fill="rgb(95,2,2)" opacity="0.75"/>
<circle cx="271.6" cy="451.6" r="1.4" fill="rgb(95,2,2)" opacity="0.75"/>
<circle cx="268.7" cy="458.4" r="1.2" fill="rgb(95,2,2)" opacity="0.75"/>
<circle cx="267.2" cy="464.1" r="1.4" fill="rgb(95,2,2)" opacity="0.75"/>
<circle cx="268.2" cy="457.7" r="1.4" fill="rgb(95,2,2)" opacity="0.75"/>
<circle cx="269.0" cy="456.7" r="1.6" fill="rgb(95,2,2)" opacity="0.75"/>
<circle cx="269.8" cy="456.8" r="1.6" fill="rgb(95,2,2)" opacity="0.75"/>
<circle cx="274.4" cy="462.4" r="1.4" fill="rgb(95,2,2)" opacity="0.75"/>
<circle cx="266.4" cy="455.8" r="1.4" fill="rgb(95,2,2)" opacity="0.75"/>
<circle cx="267.0" cy="460.1" r="1.0" fill="rgb(95,2,2)" opacity="0.75"/>
<circle cx="277.7" cy="461.7" r="1.5" fill="rgb(95,2,2)" opacity="0.75"/>
<circle cx="264.6" cy="457.3" r="1.1" fill="rgb(95,2,2)" opacity="0.75"/>
<circle cx="270.9" cy="463.6" r="1.6" fill="rgb(95,2,2)" opacity="0.75"/>
<circle cx="277.1" cy="460.4" r="1.0" fill="rgb(95,2,2)" opacity="0.75"/>
<circle cx="272.0" cy="454.6" r="1.1" fill="rgb(95,2,2)" opacity="0.75"/>
<circle cx="266.4" cy="462.1" r="1.5" fill="rgb(95,2,2)" opacity="0.75"/>
<circle cx="266.8" cy="464.5" r="0.9" fill="rgb(95,2,2)" opacity="0.75"/>
<circle cx="271.1" cy="461.3" r="0.9" fill="rgb(95,2,2)" opacity="0.75"/>
</g>
</g></g>
<line x1="154.6" y1="355" x2="154.6" y2="485" stroke="#555" stroke-width="0.6"/>
<rect x="25" y="488" width="259.3" height="128.7" fill="#000"/>
<g clip-path="url(#eBL)"><g filter="url(#mt5)"><rect x="25" y="488" width="129.6" height="128.7" fill="#000"/>
<g filter="url(#b15)"><path d="M90,499 C112,498 128,506 136,518 C143,530 145,548 143,562 C141,578 136,590 126,600 C116,610 104,614 92,613 C76,612 62,607 52,598 C40,588 33,575 33,558 C33,540 38,525 48,515 C60,503 75,499 90,499 Z" fill="rgb(18,200,18)"/></g>
<g filter="url(#b2)" fill="rgb(4,62,4)">
<ellipse cx="73" cy="524.5" rx="15" ry="8.5"/>
<ellipse cx="78" cy="556" rx="15.5" ry="16"/>
<ellipse cx="112" cy="551" rx="13.5" ry="17"/>
<ellipse cx="93.5" cy="587" rx="17" ry="11"/>
</g>
</g></g>
<g clip-path="url(#eBR)"><g filter="url(#tx6)"><rect x="154.4" y="488" width="129.9" height="128.7" fill="#000"/>
<g filter="url(#b05)">
<ellipse cx="204.6" cy="525" rx="19" ry="12" transform="rotate(-8 204.6 525)" fill="rgb(195,4,4)"/>
<circle cx="196.1" cy="526.3" r="0.9" fill="rgb(97,2,2)" opacity="0.75"/>
<circle cx="205.4" cy="524.5" r="1.3" fill="rgb(97,2,2)" opacity="0.75"/>
<circle cx="207.9" cy="523.5" r="1.3" fill="rgb(97,2,2)" opacity="0.75"/>
<circle cx="202.5" cy="523.8" r="1.1" fill="rgb(97,2,2)" opacity="0.75"/>
<circle cx="201.8" cy="519.2" r="1.5" fill="rgb(97,2,2)" opacity="0.75"/>
<circle cx="208.4" cy="528.7" r="0.9" fill="rgb(97,2,2)" opacity="0.75"/>
<circle cx="190.9" cy="524.7" r="1.3" fill="rgb(97,2,2)" opacity="0.75"/>
<circle cx="205.9" cy="519.5" r="1.5" fill="rgb(97,2,2)" opacity="0.75"/>
<circle cx="210.8" cy="527.9" r="1.4" fill="rgb(97,2,2)" opacity="0.75"/>
<circle cx="203.2" cy="519.2" r="0.9" fill="rgb(97,2,2)" opacity="0.75"/>
<circle cx="203.9" cy="529.1" r="1.1" fill="rgb(97,2,2)" opacity="0.75"/>
<circle cx="206.9" cy="521.3" r="1.6" fill="rgb(97,2,2)" opacity="0.75"/>
<circle cx="207.0" cy="523.6" r="1.1" fill="rgb(97,2,2)" opacity="0.75"/>
<circle cx="202.4" cy="525.1" r="1.2" fill="rgb(97,2,2)" opacity="0.75"/>
<circle cx="208.6" cy="523.3" r="1.3" fill="rgb(97,2,2)" opacity="0.75"/>
<circle cx="212.4" cy="529.7" r="1.6" fill="rgb(97,2,2)" opacity="0.75"/>
<circle cx="205.0" cy="525.8" r="0.9" fill="rgb(97,2,2)" opacity="0.75"/>
<circle cx="202.8" cy="524.7" r="0.9" fill="rgb(97,2,2)" opacity="0.75"/>
<circle cx="190.9" cy="525.2" r="1.2" fill="rgb(97,2,2)" opacity="0.75"/>
<circle cx="195.5" cy="529.3" r="0.9" fill="rgb(97,2,2)" opacity="0.75"/>
<circle cx="199.4" cy="523.2" r="1.3" fill="rgb(97,2,2)" opacity="0.75"/>
<circle cx="207.8" cy="524.5" r="1.3" fill="rgb(97,2,2)" opacity="0.75"/>
<circle cx="200.3" cy="522.8" r="1.0" fill="rgb(97,2,2)" opacity="0.75"/>
<circle cx="218.8" cy="524.7" r="0.9" fill="rgb(97,2,2)" opacity="0.75"/>
<circle cx="200.8" cy="516.6" r="1.0" fill="rgb(97,2,2)" opacity="0.75"/>
<circle cx="202.3" cy="523.8" r="1.1" fill="rgb(97,2,2)" opacity="0.75"/>
<circle cx="199.6" cy="518.9" r="1.5" fill="rgb(97,2,2)" opacity="0.75"/>
<circle cx="211.8" cy="527.7" r="1.6" fill="rgb(97,2,2)" opacity="0.75"/>
<circle cx="196.3" cy="522.0" r="1.2" fill="rgb(97,2,2)" opacity="0.75"/>
<circle cx="215.4" cy="524.4" r="0.8" fill="rgb(97,2,2)" opacity="0.75"/>
<circle cx="207.1" cy="520.1" r="1.2" fill="rgb(97,2,2)" opacity="0.75"/>
<circle cx="206.8" cy="530.8" r="1.1" fill="rgb(97,2,2)" opacity="0.75"/>
<circle cx="214.2" cy="528.8" r="0.9" fill="rgb(97,2,2)" opacity="0.75"/>
<circle cx="205.1" cy="523.6" r="1.5" fill="rgb(97,2,2)" opacity="0.75"/>
<circle cx="208.2" cy="519.1" r="1.4" fill="rgb(97,2,2)" opacity="0.75"/>
<circle cx="204.7" cy="532.7" r="1.2" fill="rgb(97,2,2)" opacity="0.75"/>
<circle cx="206.3" cy="533.8" r="1.2" fill="rgb(97,2,2)" opacity="0.75"/>
<circle cx="195.4" cy="531.0" r="1.1" fill="rgb(97,2,2)" opacity="0.75"/>
<ellipse cx="209.5" cy="555.3" rx="16" ry="18" transform="rotate(0 209.5 555.3)" fill="rgb(195,4,4)"/>
<circle cx="207.0" cy="550.4" r="1.6" fill="rgb(97,2,2)" opacity="0.75"/>
<circle cx="209.3" cy="558.3" r="1.7" fill="rgb(97,2,2)" opacity="0.75"/>
<circle cx="214.9" cy="566.9" r="1.7" fill="rgb(97,2,2)" opacity="0.75"/>
<circle cx="208.5" cy="554.4" r="0.9" fill="rgb(97,2,2)" opacity="0.75"/>
<circle cx="211.4" cy="563.4" r="1.4" fill="rgb(97,2,2)" opacity="0.75"/>
<circle cx="216.5" cy="553.6" r="0.9" fill="rgb(97,2,2)" opacity="0.75"/>
<circle cx="205.4" cy="553.4" r="0.9" fill="rgb(97,2,2)" opacity="0.75"/>
<circle cx="200.1" cy="551.4" r="0.9" fill="rgb(97,2,2)" opacity="0.75"/>
<circle cx="199.9" cy="558.7" r="1.5" fill="rgb(97,2,2)" opacity="0.75"/>
<circle cx="201.1" cy="563.8" r="1.0" fill="rgb(97,2,2)" opacity="0.75"/>
<circle cx="207.2" cy="543.7" r="1.6" fill="rgb(97,2,2)" opacity="0.75"/>
<circle cx="205.7" cy="555.4" r="0.8" fill="rgb(97,2,2)" opacity="0.75"/>
<circle cx="204.6" cy="554.3" r="1.4" fill="rgb(97,2,2)" opacity="0.75"/>
<circle cx="218.6" cy="561.3" r="1.0" fill="rgb(97,2,2)" opacity="0.75"/>
<circle cx="214.5" cy="555.8" r="1.2" fill="rgb(97,2,2)" opacity="0.75"/>
<circle cx="202.5" cy="552.2" r="1.0" fill="rgb(97,2,2)" opacity="0.75"/>
<circle cx="197.9" cy="556.8" r="1.3" fill="rgb(97,2,2)" opacity="0.75"/>
<circle cx="211.4" cy="554.5" r="1.7" fill="rgb(97,2,2)" opacity="0.75"/>
<circle cx="216.3" cy="548.9" r="1.3" fill="rgb(97,2,2)" opacity="0.75"/>
<circle cx="198.4" cy="552.3" r="0.9" fill="rgb(97,2,2)" opacity="0.75"/>
<circle cx="204.0" cy="547.5" r="1.1" fill="rgb(97,2,2)" opacity="0.75"/>
<circle cx="207.9" cy="544.0" r="0.9" fill="rgb(97,2,2)" opacity="0.75"/>
<circle cx="207.0" cy="546.7" r="1.2" fill="rgb(97,2,2)" opacity="0.75"/>
<circle cx="207.7" cy="552.9" r="1.3" fill="rgb(97,2,2)" opacity="0.75"/>
<circle cx="201.6" cy="564.4" r="1.0" fill="rgb(97,2,2)" opacity="0.75"/>
<circle cx="214.0" cy="545.0" r="1.4" fill="rgb(97,2,2)" opacity="0.75"/>
<circle cx="211.1" cy="553.5" r="1.3" fill="rgb(97,2,2)" opacity="0.75"/>
<circle cx="202.0" cy="548.0" r="1.2" fill="rgb(97,2,2)" opacity="0.75"/>
<circle cx="214.2" cy="557.8" r="1.3" fill="rgb(97,2,2)" opacity="0.75"/>
<circle cx="210.8" cy="558.4" r="1.1" fill="rgb(97,2,2)" opacity="0.75"/>
<circle cx="200.9" cy="557.1" r="0.8" fill="rgb(97,2,2)" opacity="0.75"/>
<circle cx="210.6" cy="547.6" r="1.5" fill="rgb(97,2,2)" opacity="0.75"/>
<circle cx="221.2" cy="556.0" r="1.3" fill="rgb(97,2,2)" opacity="0.75"/>
<circle cx="221.3" cy="553.3" r="1.5" fill="rgb(97,2,2)" opacity="0.75"/>
<circle cx="215.1" cy="560.2" r="1.0" fill="rgb(97,2,2)" opacity="0.75"/>
<circle cx="210.5" cy="549.5" r="1.0" fill="rgb(97,2,2)" opacity="0.75"/>
<circle cx="212.7" cy="558.3" r="1.6" fill="rgb(97,2,2)" opacity="0.75"/>
<circle cx="216.7" cy="554.1" r="1.5" fill="rgb(97,2,2)" opacity="0.75"/>
<circle cx="201.0" cy="557.3" r="1.1" fill="rgb(97,2,2)" opacity="0.75"/>
<circle cx="205.6" cy="550.4" r="1.0" fill="rgb(97,2,2)" opacity="0.75"/>
<circle cx="204.2" cy="554.6" r="1.2" fill="rgb(97,2,2)" opacity="0.75"/>
<circle cx="211.2" cy="554.6" r="0.9" fill="rgb(97,2,2)" opacity="0.75"/>
<circle cx="210.4" cy="552.2" r="1.0" fill="rgb(97,2,2)" opacity="0.75"/>
<circle cx="215.1" cy="546.9" r="1.0" fill="rgb(97,2,2)" opacity="0.75"/>
<circle cx="215.4" cy="557.8" r="1.1" fill="rgb(97,2,2)" opacity="0.75"/>
<circle cx="213.2" cy="542.6" r="1.5" fill="rgb(97,2,2)" opacity="0.75"/>
<circle cx="218.9" cy="547.8" r="1.6" fill="rgb(97,2,2)" opacity="0.75"/>
<circle cx="219.8" cy="548.9" r="0.9" fill="rgb(97,2,2)" opacity="0.75"/>
<ellipse cx="244.7" cy="549.2" rx="15" ry="21" transform="rotate(-15 244.7 549.2)" fill="rgb(195,4,4)"/>
<circle cx="242.4" cy="556.3" r="1.3" fill="rgb(97,2,2)" opacity="0.75"/>
<circle cx="238.1" cy="549.7" r="1.6" fill="rgb(97,2,2)" opacity="0.75"/>
<circle cx="240.6" cy="553.5" r="1.0" fill="rgb(97,2,2)" opacity="0.75"/>
<circle cx="236.2" cy="552.1" r="1.3" fill="rgb(97,2,2)" opacity="0.75"/>
<circle cx="240.2" cy="551.7" r="1.2" fill="rgb(97,2,2)" opacity="0.75"/>
<circle cx="242.6" cy="555.0" r="1.3" fill="rgb(97,2,2)" opacity="0.75"/>
<circle cx="248.3" cy="561.5" r="1.4" fill="rgb(97,2,2)" opacity="0.75"/>
<circle cx="250.5" cy="558.7" r="1.1" fill="rgb(97,2,2)" opacity="0.75"/>
<circle cx="236.4" cy="553.2" r="1.5" fill="rgb(97,2,2)" opacity="0.75"/>
<circle cx="251.9" cy="540.2" r="1.0" fill="rgb(97,2,2)" opacity="0.75"/>
<circle cx="238.4" cy="546.8" r="0.8" fill="rgb(97,2,2)" opacity="0.75"/>
<circle cx="237.4" cy="545.7" r="1.6" fill="rgb(97,2,2)" opacity="0.75"/>
<circle cx="240.1" cy="562.1" r="1.3" fill="rgb(97,2,2)" opacity="0.75"/>
<circle cx="252.4" cy="557.0" r="1.1" fill="rgb(97,2,2)" opacity="0.75"/>
<circle cx="241.8" cy="548.3" r="0.8" fill="rgb(97,2,2)" opacity="0.75"/>
<circle cx="246.7" cy="547.7" r="0.9" fill="rgb(97,2,2)" opacity="0.75"/>
<circle cx="246.5" cy="553.4" r="1.5" fill="rgb(97,2,2)" opacity="0.75"/>
<circle cx="253.8" cy="548.8" r="1.2" fill="rgb(97,2,2)" opacity="0.75"/>
<circle cx="250.8" cy="542.0" r="0.9" fill="rgb(97,2,2)" opacity="0.75"/>
<circle cx="242.2" cy="540.4" r="1.0" fill="rgb(97,2,2)" opacity="0.75"/>
<circle cx="241.7" cy="558.0" r="1.0" fill="rgb(97,2,2)" opacity="0.75"/>
<circle cx="236.7" cy="539.7" r="1.3" fill="rgb(97,2,2)" opacity="0.75"/>
<circle cx="254.0" cy="550.0" r="0.8" fill="rgb(97,2,2)" opacity="0.75"/>
<circle cx="234.3" cy="551.1" r="1.4" fill="rgb(97,2,2)" opacity="0.75"/>
<circle cx="252.9" cy="541.7" r="1.0" fill="rgb(97,2,2)" opacity="0.75"/>
<circle cx="249.4" cy="557.5" r="1.4" fill="rgb(97,2,2)" opacity="0.75"/>
<circle cx="245.4" cy="558.2" r="1.5" fill="rgb(97,2,2)" opacity="0.75"/>
<circle cx="239.7" cy="559.2" r="1.3" fill="rgb(97,2,2)" opacity="0.75"/>
<circle cx="246.3" cy="548.1" r="1.0" fill="rgb(97,2,2)" opacity="0.75"/>
<circle cx="246.3" cy="536.5" r="0.9" fill="rgb(97,2,2)" opacity="0.75"/>
<circle cx="248.1" cy="554.6" r="1.3" fill="rgb(97,2,2)" opacity="0.75"/>
<circle cx="249.0" cy="545.0" r="1.0" fill="rgb(97,2,2)" opacity="0.75"/>
<circle cx="241.8" cy="539.8" r="1.6" fill="rgb(97,2,2)" opacity="0.75"/>
<circle cx="255.6" cy="549.1" r="1.4" fill="rgb(97,2,2)" opacity="0.75"/>
<circle cx="241.9" cy="549.3" r="1.5" fill="rgb(97,2,2)" opacity="0.75"/>
<circle cx="238.5" cy="555.6" r="1.4" fill="rgb(97,2,2)" opacity="0.75"/>
<circle cx="252.9" cy="546.6" r="1.6" fill="rgb(97,2,2)" opacity="0.75"/>
<circle cx="247.9" cy="548.2" r="1.1" fill="rgb(97,2,2)" opacity="0.75"/>
<circle cx="252.2" cy="540.3" r="1.7" fill="rgb(97,2,2)" opacity="0.75"/>
<circle cx="247.9" cy="559.8" r="1.6" fill="rgb(97,2,2)" opacity="0.75"/>
<circle cx="235.8" cy="546.0" r="1.7" fill="rgb(97,2,2)" opacity="0.75"/>
<circle cx="245.9" cy="552.5" r="1.6" fill="rgb(97,2,2)" opacity="0.75"/>
<circle cx="240.3" cy="545.8" r="1.5" fill="rgb(97,2,2)" opacity="0.75"/>
<circle cx="243.9" cy="554.7" r="1.1" fill="rgb(97,2,2)" opacity="0.75"/>
<circle cx="251.7" cy="551.5" r="1.5" fill="rgb(97,2,2)" opacity="0.75"/>
<circle cx="234.1" cy="553.6" r="0.8" fill="rgb(97,2,2)" opacity="0.75"/>
<circle cx="246.7" cy="554.5" r="1.3" fill="rgb(97,2,2)" opacity="0.75"/>
<circle cx="247.6" cy="561.4" r="1.3" fill="rgb(97,2,2)" opacity="0.75"/>
<circle cx="235.7" cy="542.2" r="1.5" fill="rgb(97,2,2)" opacity="0.75"/>
<circle cx="248.6" cy="546.3" r="1.1" fill="rgb(97,2,2)" opacity="0.75"/>
<circle cx="251.6" cy="546.8" r="1.1" fill="rgb(97,2,2)" opacity="0.75"/>
<circle cx="239.9" cy="550.0" r="1.6" fill="rgb(97,2,2)" opacity="0.75"/>
<ellipse cx="227.7" cy="589.2" rx="19" ry="14" transform="rotate(0 227.7 589.2)" fill="rgb(195,4,4)"/>
<circle cx="224.8" cy="586.8" r="1.7" fill="rgb(97,2,2)" opacity="0.75"/>
<circle cx="220.6" cy="588.5" r="1.4" fill="rgb(97,2,2)" opacity="0.75"/>
<circle cx="235.7" cy="587.3" r="0.8" fill="rgb(97,2,2)" opacity="0.75"/>
<circle cx="228.8" cy="591.6" r="1.3" fill="rgb(97,2,2)" opacity="0.75"/>
<circle cx="222.7" cy="598.2" r="1.0" fill="rgb(97,2,2)" opacity="0.75"/>
<circle cx="237.4" cy="589.9" r="0.9" fill="rgb(97,2,2)" opacity="0.75"/>
<circle cx="225.2" cy="593.8" r="1.0" fill="rgb(97,2,2)" opacity="0.75"/>
<circle cx="218.7" cy="581.5" r="1.1" fill="rgb(97,2,2)" opacity="0.75"/>
<circle cx="222.5" cy="584.6" r="1.6" fill="rgb(97,2,2)" opacity="0.75"/>
<circle cx="225.4" cy="588.6" r="1.5" fill="rgb(97,2,2)" opacity="0.75"/>
<circle cx="228.5" cy="591.4" r="0.8" fill="rgb(97,2,2)" opacity="0.75"/>
<circle cx="234.1" cy="581.7" r="1.1" fill="rgb(97,2,2)" opacity="0.75"/>
<circle cx="216.5" cy="586.1" r="0.9" fill="rgb(97,2,2)" opacity="0.75"/>
<circle cx="224.4" cy="580.7" r="1.6" fill="rgb(97,2,2)" opacity="0.75"/>
<circle cx="237.7" cy="592.1" r="1.3" fill="rgb(97,2,2)" opacity="0.75"/>
<circle cx="232.6" cy="584.0" r="1.4" fill="rgb(97,2,2)" opacity="0.75"/>
<circle cx="234.4" cy="585.5" r="1.3" fill="rgb(97,2,2)" opacity="0.75"/>
<circle cx="229.8" cy="588.0" r="1.7" fill="rgb(97,2,2)" opacity="0.75"/>
<circle cx="224.0" cy="595.8" r="1.1" fill="rgb(97,2,2)" opacity="0.75"/>
<circle cx="230.8" cy="581.9" r="1.5" fill="rgb(97,2,2)" opacity="0.75"/>
<circle cx="238.3" cy="595.2" r="1.5" fill="rgb(97,2,2)" opacity="0.75"/>
<circle cx="224.8" cy="584.7" r="1.0" fill="rgb(97,2,2)" opacity="0.75"/>
<circle cx="224.2" cy="590.0" r="1.7" fill="rgb(97,2,2)" opacity="0.75"/>
<circle cx="216.1" cy="594.8" r="1.0" fill="rgb(97,2,2)" opacity="0.75"/>
<circle cx="220.1" cy="581.7" r="1.4" fill="rgb(97,2,2)" opacity="0.75"/>
<circle cx="226.0" cy="589.9" r="1.2" fill="rgb(97,2,2)" opacity="0.75"/>
<circle cx="217.0" cy="595.7" r="1.7" fill="rgb(97,2,2)" opacity="0.75"/>
<circle cx="241.3" cy="586.4" r="1.0" fill="rgb(97,2,2)" opacity="0.75"/>
<circle cx="235.3" cy="590.3" r="0.8" fill="rgb(97,2,2)" opacity="0.75"/>
<circle cx="235.6" cy="594.6" r="1.0" fill="rgb(97,2,2)" opacity="0.75"/>
<circle cx="221.0" cy="585.0" r="1.0" fill="rgb(97,2,2)" opacity="0.75"/>
<circle cx="233.7" cy="588.3" r="1.6" fill="rgb(97,2,2)" opacity="0.75"/>
<circle cx="216.3" cy="587.8" r="0.9" fill="rgb(97,2,2)" opacity="0.75"/>
<circle cx="227.3" cy="579.3" r="1.0" fill="rgb(97,2,2)" opacity="0.75"/>
<circle cx="216.4" cy="590.6" r="1.2" fill="rgb(97,2,2)" opacity="0.75"/>
<circle cx="227.8" cy="580.8" r="1.1" fill="rgb(97,2,2)" opacity="0.75"/>
<circle cx="222.4" cy="580.8" r="1.2" fill="rgb(97,2,2)" opacity="0.75"/>
<circle cx="218.1" cy="584.7" r="1.2" fill="rgb(97,2,2)" opacity="0.75"/>
<circle cx="235.4" cy="592.8" r="1.5" fill="rgb(97,2,2)" opacity="0.75"/>
<circle cx="227.1" cy="586.4" r="1.2" fill="rgb(97,2,2)" opacity="0.75"/>
<circle cx="218.8" cy="585.2" r="0.9" fill="rgb(97,2,2)" opacity="0.75"/>
<circle cx="220.5" cy="582.2" r="1.3" fill="rgb(97,2,2)" opacity="0.75"/>
<circle cx="237.8" cy="586.2" r="0.8" fill="rgb(97,2,2)" opacity="0.75"/>
<circle cx="225.1" cy="597.8" r="0.9" fill="rgb(97,2,2)" opacity="0.75"/>
</g>
</g></g>
<text x="28.6" y="371.6" font-size="15.8" font-weight="bold" text-anchor="start" fill="rgb(35,215,35)"  textLength="80.4" lengthAdjust="spacingAndGlyphs" style="">YAP-eGFP</text>
<text x="158.5" y="371.6" font-size="15.8" font-weight="bold" text-anchor="start" fill="rgb(235,20,20)"  textLength="63.1" lengthAdjust="spacingAndGlyphs" style="">Sir-DNA</text>
<text x="234.5" y="465.0" font-size="15.5" font-weight="bold" text-anchor="start" fill="#fff"  textLength="46.5" lengthAdjust="spacingAndGlyphs" style="">20 μm</text>
<rect x="244" y="471.8" width="31" height="8.5" fill="#fff"/>
<text x="236.0" y="598.2" font-size="15.5" font-weight="bold" text-anchor="start" fill="#fff"  textLength="45" lengthAdjust="spacingAndGlyphs" style="">10 μm</text>
<rect x="239.8" y="605" width="40.1" height="8.5" fill="#fff"/>
<text transform="translate(18.2,450.5) rotate(-90)" font-size="17.5" font-weight="bold" text-anchor="start" fill="#000"  textLength="58.5" lengthAdjust="spacingAndGlyphs" style="">60 kPa</text>
<text transform="translate(18.2,584.0) rotate(-90)" font-size="17.5" font-weight="bold" text-anchor="start" fill="#000"  textLength="63" lengthAdjust="spacingAndGlyphs" style="">0.4 kPa</text>
<text x="1049.8" y="314.9" font-size="28.2" font-weight="bold" text-anchor="start" fill="#000"  style="">h</text>
<g clip-path="url(#h0)"><g filter="url(#mt1)">
<rect x="1074.9" y="294.4" width="104.1" height="120" fill="rgb(8,112,8)"/>
<g filter="url(#b4)">
<ellipse cx="1078" cy="414" rx="26" ry="22" fill="rgb(0,25,0)"/>
<ellipse cx="1110" cy="303" rx="7" ry="5" fill="rgb(0,20,0)"/>
<ellipse cx="1169" cy="361" rx="5" ry="5" fill="rgb(0,20,0)"/>
<ellipse cx="1124" cy="402" rx="4" ry="4" fill="rgb(0,30,0)"/>
<ellipse cx="1076" cy="360" rx="4" ry="20" fill="rgb(0,50,0)"/>
</g><g filter="url(#b1)">
<ellipse cx="1101.4" cy="327.8" rx="12" ry="12" fill="rgb(12,160,12)"/>
<ellipse cx="1101.4" cy="327.8" rx="7.4" ry="7.4" fill="rgb(8,110,8)"/>
<circle cx="1099.5" cy="324.9" r="1.9" fill="rgb(0,45,0)"/>
<circle cx="1098.9" cy="324.7" r="1.9" fill="rgb(0,45,0)"/>
<ellipse cx="1157.7" cy="320.4" rx="12" ry="13" fill="rgb(12,160,12)"/>
<ellipse cx="1157.7" cy="320.4" rx="7.4" ry="8.1" fill="rgb(8,110,8)"/>
<circle cx="1160.7" cy="322.7" r="2.3" fill="rgb(0,45,0)"/>
<circle cx="1155.7" cy="320.7" r="1.8" fill="rgb(0,45,0)"/>
<ellipse cx="1113.1" cy="372.4" rx="12" ry="12" fill="rgb(12,160,12)"/>
<ellipse cx="1113.1" cy="372.4" rx="7.4" ry="7.4" fill="rgb(8,110,8)"/>
<circle cx="1110.7" cy="369.6" r="1.7" fill="rgb(0,45,0)"/>
<circle cx="1116.2" cy="374.8" r="2.4" fill="rgb(0,45,0)"/>
<ellipse cx="1156.7" cy="385.2" rx="13" ry="13" fill="rgb(12,160,12)"/>
<ellipse cx="1156.7" cy="385.2" rx="8.1" ry="8.1" fill="rgb(8,110,8)"/>
<circle cx="1159.0" cy="382.8" r="1.8" fill="rgb(0,45,0)"/>
<circle cx="1157.7" cy="387.0" r="2.4" fill="rgb(0,45,0)"/>
</g>
</g></g>
<g clip-path="url(#h1)"><g filter="url(#mt2)">
<rect x="1074.9" y="414.6" width="104.1" height="120.3" fill="rgb(6,88,6)"/>
<g filter="url(#b4)">
<ellipse cx="1120" cy="495" rx="35" ry="22" fill="rgb(12,135,12)"/>
<ellipse cx="1158" cy="440" rx="18" ry="16" fill="rgb(12,130,12)"/>
<ellipse cx="1095" cy="465" rx="14" ry="18" fill="rgb(10,118,10)"/>
<ellipse cx="1117" cy="448" rx="12" ry="16" fill="rgb(0,25,0)"/>
<ellipse cx="1079" cy="440" rx="6" ry="14" fill="rgb(0,25,0)"/>
<ellipse cx="1082" cy="528" rx="12" ry="10" fill="rgb(0,25,0)"/>
<ellipse cx="1165" cy="525" rx="14" ry="10" fill="rgb(0,25,0)"/>
<ellipse cx="1175" cy="462" rx="5" ry="8" fill="rgb(0,25,0)"/>
<ellipse cx="1128" cy="470" rx="5" ry="5" fill="rgb(0,25,0)"/>
<ellipse cx="1148" cy="485" rx="4" ry="4" fill="rgb(0,25,0)"/>
</g><g filter="url(#b1)">
<ellipse cx="1093" cy="459" rx="11" ry="11" fill="rgb(14,150,14)"/>
<ellipse cx="1093" cy="459" rx="6.8" ry="6.8" fill="rgb(8,100,8)"/>
<circle cx="1095.5" cy="456.3" r="2.2" fill="rgb(0,50,0)"/>
<circle cx="1094.1" cy="459.0" r="1.7" fill="rgb(0,50,0)"/>
<ellipse cx="1153" cy="440" rx="12" ry="12" fill="rgb(14,150,14)"/>
<ellipse cx="1153" cy="440" rx="7.4" ry="7.4" fill="rgb(8,100,8)"/>
<circle cx="1152.8" cy="437.0" r="2.5" fill="rgb(0,50,0)"/>
<circle cx="1155.6" cy="440.3" r="1.8" fill="rgb(0,50,0)"/>
</g>
</g></g>
<g clip-path="url(#h2)"><g filter="url(#mt3)">
<rect x="1074.9" y="535.2" width="104.1" height="119.8" fill="rgb(3,45,3)"/>
<g filter="url(#b4)">
<ellipse cx="1128" cy="595" rx="14" ry="40" fill="rgb(0,15,0)"/>
</g><g filter="url(#b1)">
<ellipse cx="1093.7" cy="579" rx="17" ry="18" fill="rgb(12,145,12)"/>
<ellipse cx="1093.7" cy="579" rx="10.5" ry="11.2" fill="rgb(6,80,6)"/>
<circle cx="1097.9" cy="579.8" r="2.5" fill="rgb(0,35,0)"/>
<circle cx="1097.3" cy="579.1" r="2.0" fill="rgb(0,35,0)"/>
<ellipse cx="1161.2" cy="572.7" rx="17" ry="21" fill="rgb(12,145,12)"/>
<ellipse cx="1161.2" cy="572.7" rx="10.5" ry="13.0" fill="rgb(6,80,6)"/>
<circle cx="1162.2" cy="571.8" r="1.7" fill="rgb(0,35,0)"/>
<circle cx="1159.2" cy="576.6" r="1.5" fill="rgb(0,35,0)"/>
<ellipse cx="1110.6" cy="617" rx="18" ry="14" fill="rgb(12,145,12)"/>
<ellipse cx="1110.6" cy="617" rx="11.2" ry="8.7" fill="rgb(6,80,6)"/>
<circle cx="1105.7" cy="618.1" r="1.8" fill="rgb(0,35,0)"/>
<circle cx="1111.0" cy="616.8" r="1.9" fill="rgb(0,35,0)"/>
<ellipse cx="1146.4" cy="617" rx="16" ry="18" fill="rgb(12,145,12)"/>
<ellipse cx="1146.4" cy="617" rx="9.9" ry="11.2" fill="rgb(6,80,6)"/>
<circle cx="1151.2" cy="613.7" r="2.0" fill="rgb(0,35,0)"/>
<circle cx="1143.5" cy="618.4" r="1.8" fill="rgb(0,35,0)"/>
</g>
</g></g>
<line x1="1074.9" y1="414.6" x2="1179" y2="414.6" stroke="rgb(80,110,80)" stroke-width="0.6"/>
<line x1="1074.9" y1="535.1" x2="1179" y2="535.1" stroke="rgb(80,110,80)" stroke-width="0.6"/>
<text x="1080.8" y="308.7" font-size="15" font-weight="bold" text-anchor="start" fill="#fff"  textLength="23.4" lengthAdjust="spacingAndGlyphs" style="">pre</text>
<text x="1083" y="428.7" font-size="14.6" font-weight="bold" fill="#fff" textLength="52.4" lengthAdjust="spacingAndGlyphs"><tspan font-style="italic">T</tspan>=1min</text>
<text x="1082.8" y="550.6" font-size="14.6" font-weight="bold" fill="#fff" textLength="74.2" lengthAdjust="spacingAndGlyphs"><tspan font-style="italic">T</tspan>=180 min</text>
<text x="1081.0" y="634.9" font-size="14.5" font-weight="bold" text-anchor="start" fill="#fff"  textLength="42.3" lengthAdjust="spacingAndGlyphs" style="">20 μm</text>
<rect x="1082.8" y="641.9" width="40" height="7.8" fill="#fff"/>
</svg></body></html>
